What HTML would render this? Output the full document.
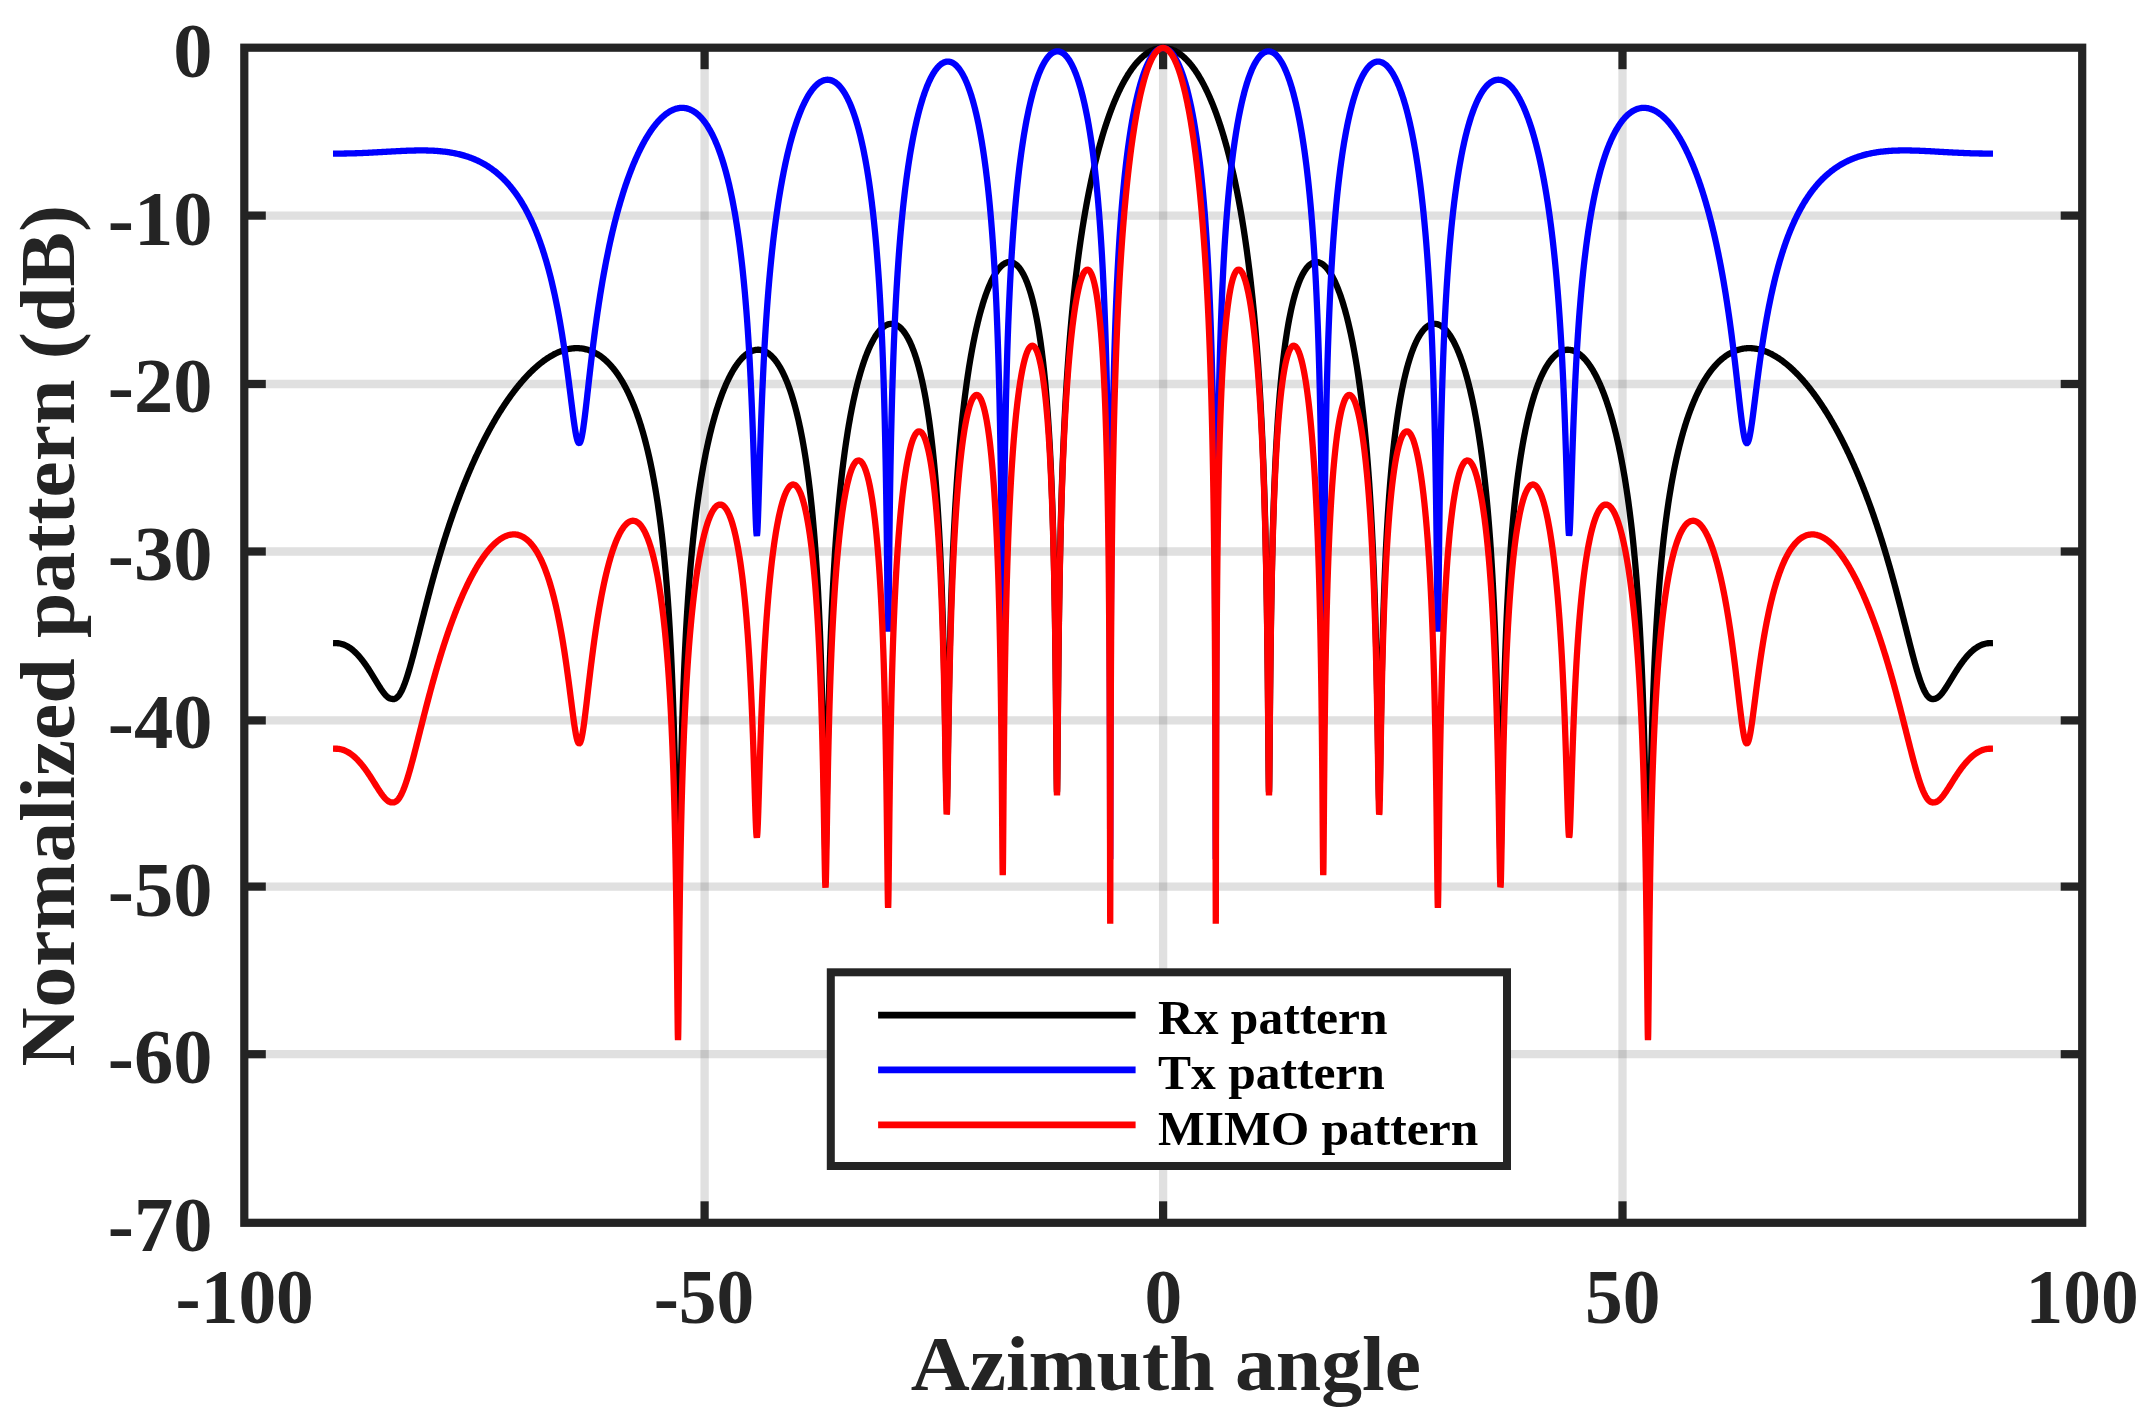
<!DOCTYPE html>
<html><head><meta charset="utf-8"><title>Normalized pattern</title>
<style>html,body{margin:0;padding:0;background:#fff}svg{display:block;filter:blur(0.55px)}</style></head>
<body>
<svg width="2145" height="1425" viewBox="0 0 2145 1425">
<rect width="2145" height="1425" fill="#fff"/>
<g stroke="rgba(38,38,38,0.143)" stroke-width="8.3" fill="none"><line x1="704.6" y1="47.7" x2="704.6" y2="1222.8"/><line x1="1163.1" y1="47.7" x2="1163.1" y2="1222.8"/><line x1="1622.5" y1="47.7" x2="1622.5" y2="1222.8"/><line x1="244.3" y1="1054.2" x2="2082.2" y2="1054.2"/><line x1="244.3" y1="886.6" x2="2082.2" y2="886.6"/><line x1="244.3" y1="720.4" x2="2082.2" y2="720.4"/><line x1="244.3" y1="551.5" x2="2082.2" y2="551.5"/><line x1="244.3" y1="384.0" x2="2082.2" y2="384.0"/><line x1="244.3" y1="215.6" x2="2082.2" y2="215.6"/></g>
<g stroke="#242424" stroke-width="8.2" fill="none"><line x1="704.6" y1="1222.8" x2="704.6" y2="1201.3"/><line x1="704.6" y1="47.7" x2="704.6" y2="69.2"/><line x1="1163.1" y1="1222.8" x2="1163.1" y2="1201.3"/><line x1="1163.1" y1="47.7" x2="1163.1" y2="69.2"/><line x1="1622.5" y1="1222.8" x2="1622.5" y2="1201.3"/><line x1="1622.5" y1="47.7" x2="1622.5" y2="69.2"/><line x1="244.3" y1="1054.2" x2="265.8" y2="1054.2"/><line x1="2082.2" y1="1054.2" x2="2060.7" y2="1054.2"/><line x1="244.3" y1="886.6" x2="265.8" y2="886.6"/><line x1="2082.2" y1="886.6" x2="2060.7" y2="886.6"/><line x1="244.3" y1="720.4" x2="265.8" y2="720.4"/><line x1="2082.2" y1="720.4" x2="2060.7" y2="720.4"/><line x1="244.3" y1="551.5" x2="265.8" y2="551.5"/><line x1="2082.2" y1="551.5" x2="2060.7" y2="551.5"/><line x1="244.3" y1="384.0" x2="265.8" y2="384.0"/><line x1="2082.2" y1="384.0" x2="2060.7" y2="384.0"/><line x1="244.3" y1="215.6" x2="265.8" y2="215.6"/><line x1="2082.2" y1="215.6" x2="2060.7" y2="215.6"/>
<rect x="244.3" y="47.7" width="1837.9" height="1175.1"/></g>
<g fill="none" stroke-width="6.3" stroke-linejoin="miter" stroke-miterlimit="3" stroke-linecap="square">
<path stroke="#000" d="M336.17,643.17 L337.09,643.19 L338.01,643.26 L338.93,643.36 L339.84,643.51 L340.76,643.70 L341.68,643.93 L342.60,644.21 L343.52,644.53 L344.44,644.89 L345.36,645.29 L346.28,645.74 L347.19,646.23 L348.11,646.76 L349.03,647.33 L349.95,647.95 L350.87,648.60 L351.79,649.31 L352.71,650.05 L353.17,650.44 L353.63,650.83 L354.08,651.24 L354.54,651.66 L355.00,652.09 L355.46,652.53 L355.92,652.98 L356.38,653.44 L356.84,653.91 L357.30,654.39 L357.76,654.88 L358.22,655.39 L358.68,655.90 L359.14,656.42 L359.60,656.95 L360.06,657.49 L360.52,658.05 L360.97,658.61 L361.43,659.18 L361.89,659.76 L362.35,660.35 L362.81,660.95 L363.27,661.56 L363.73,662.17 L364.19,662.80 L364.65,663.44 L365.11,664.08 L365.57,664.73 L366.03,665.39 L366.49,666.06 L366.95,666.74 L367.41,667.42 L367.87,668.11 L368.32,668.81 L368.78,669.52 L369.24,670.23 L369.70,670.95 L370.16,671.67 L370.62,672.40 L371.08,673.13 L371.54,673.87 L372.00,674.61 L372.46,675.36 L372.92,676.11 L373.38,676.86 L373.84,677.61 L374.30,678.37 L374.76,679.12 L375.21,679.88 L375.67,680.63 L376.13,681.39 L376.59,682.14 L377.05,682.89 L377.51,683.64 L377.97,684.38 L378.43,685.12 L378.89,685.85 L379.35,686.57 L379.81,687.29 L380.27,688.00 L380.73,688.69 L381.19,689.38 L381.65,690.05 L382.11,690.71 L382.56,691.35 L383.02,691.97 L383.48,692.58 L383.94,693.17 L384.40,693.74 L384.86,694.29 L385.32,694.81 L385.78,695.31 L386.24,695.79 L386.70,696.23 L387.16,696.65 L388.08,697.39 L389.00,697.99 L389.62,698.32 L390.26,698.59 L390.90,698.77 L391.54,698.88 L392.19,698.95 L392.83,699.06 L393.47,699.09 L394.12,699.02 L394.76,698.85 L395.43,698.58 L396.34,698.03 L397.26,697.26 L397.72,696.80 L398.18,696.29 L398.64,695.72 L399.10,695.10 L399.56,694.43 L400.02,693.71 L400.48,692.93 L400.94,692.11 L401.40,691.23 L401.86,690.30 L402.32,689.33 L402.78,688.31 L403.24,687.24 L403.69,686.12 L404.15,684.96 L404.61,683.76 L405.07,682.52 L405.53,681.24 L405.99,679.92 L406.45,678.56 L406.91,677.17 L407.37,675.75 L407.83,674.29 L408.29,672.80 L408.75,671.28 L409.21,669.74 L409.67,668.17 L410.13,666.57 L410.58,664.95 L411.04,663.31 L411.50,661.65 L411.96,659.97 L412.42,658.27 L412.88,656.56 L413.34,654.83 L413.80,653.09 L414.26,651.34 L414.72,649.57 L415.18,647.80 L415.64,646.01 L416.10,644.22 L416.56,642.42 L417.02,640.62 L417.47,638.81 L417.93,637.00 L418.39,635.18 L418.85,633.36 L419.31,631.54 L419.77,629.72 L420.23,627.89 L420.69,626.07 L421.15,624.25 L421.61,622.43 L422.07,620.61 L422.53,618.79 L422.99,616.98 L423.45,615.17 L423.91,613.36 L424.37,611.56 L424.82,609.76 L425.28,607.97 L425.74,606.18 L426.20,604.40 L426.66,602.62 L427.12,600.85 L427.58,599.08 L428.04,597.33 L428.50,595.57 L428.96,593.83 L429.42,592.09 L429.88,590.36 L430.34,588.64 L430.80,586.93 L431.26,585.22 L431.71,583.52 L432.17,581.83 L432.63,580.14 L433.09,578.47 L433.55,576.80 L434.01,575.14 L434.47,573.49 L434.93,571.85 L435.39,570.21 L435.85,568.59 L436.31,566.97 L436.77,565.36 L437.23,563.76 L437.69,562.17 L438.15,560.59 L438.61,559.01 L439.06,557.45 L439.52,555.89 L439.98,554.34 L440.44,552.80 L440.90,551.27 L441.36,549.74 L441.82,548.23 L442.28,546.72 L442.74,545.22 L443.20,543.73 L443.66,542.25 L444.12,540.78 L444.58,539.31 L445.04,537.86 L445.50,536.41 L445.95,534.97 L446.41,533.54 L446.87,532.11 L447.33,530.70 L447.79,529.29 L448.25,527.89 L448.71,526.50 L449.17,525.11 L449.63,523.74 L450.09,522.37 L450.55,521.01 L451.01,519.66 L451.47,518.31 L451.93,516.97 L452.39,515.64 L452.84,514.32 L453.30,513.01 L453.76,511.70 L454.22,510.40 L454.68,509.11 L455.14,507.83 L455.60,506.55 L456.06,505.28 L456.52,504.02 L456.98,502.76 L457.44,501.51 L457.90,500.27 L458.36,499.04 L458.82,497.81 L459.28,496.59 L459.74,495.37 L460.19,494.17 L460.65,492.97 L461.11,491.77 L461.57,490.59 L462.03,489.41 L462.49,488.24 L462.95,487.07 L463.41,485.91 L463.87,484.76 L464.33,483.61 L464.79,482.47 L465.25,481.33 L465.71,480.21 L466.17,479.09 L466.63,477.97 L467.08,476.86 L467.54,475.76 L468.00,474.66 L468.46,473.57 L468.92,472.49 L469.38,471.41 L469.84,470.34 L470.30,469.27 L470.76,468.21 L471.22,467.16 L471.68,466.11 L472.14,465.07 L472.60,464.03 L473.06,463.00 L473.52,461.98 L473.98,460.96 L474.43,459.94 L474.89,458.94 L475.35,457.93 L475.81,456.94 L476.27,455.95 L476.73,454.96 L477.19,453.98 L477.65,453.01 L478.11,452.04 L478.57,451.07 L479.03,450.11 L479.49,449.16 L479.95,448.21 L480.41,447.27 L480.87,446.33 L481.32,445.40 L481.78,444.48 L482.24,443.56 L482.70,442.64 L483.16,441.73 L483.62,440.82 L484.08,439.92 L484.54,439.03 L485.00,438.14 L485.46,437.25 L485.92,436.37 L486.38,435.49 L486.84,434.62 L487.30,433.76 L487.76,432.90 L488.21,432.04 L488.67,431.19 L489.13,430.34 L489.59,429.50 L490.05,428.67 L490.51,427.84 L490.97,427.01 L491.43,426.19 L491.89,425.37 L492.35,424.56 L492.81,423.75 L493.27,422.95 L493.73,422.15 L494.19,421.35 L494.65,420.57 L495.11,419.78 L495.56,419.00 L496.02,418.23 L496.48,417.46 L496.94,416.69 L497.40,415.93 L497.86,415.17 L498.32,414.42 L498.78,413.67 L499.24,412.93 L499.70,412.19 L500.16,411.45 L500.62,410.72 L501.08,410.00 L501.54,409.28 L502.00,408.56 L502.45,407.85 L502.91,407.14 L503.37,406.43 L503.83,405.74 L504.29,405.04 L504.75,404.35 L505.21,403.66 L505.67,402.98 L506.13,402.30 L506.59,401.63 L507.05,400.96 L507.51,400.30 L507.97,399.64 L508.43,398.98 L508.89,398.33 L509.34,397.68 L509.80,397.04 L510.26,396.40 L510.72,395.76 L511.18,395.13 L511.64,394.50 L512.10,393.88 L512.56,393.26 L513.02,392.65 L513.48,392.04 L513.94,391.43 L514.40,390.83 L514.86,390.23 L515.32,389.64 L515.78,389.05 L516.24,388.47 L516.69,387.88 L517.15,387.31 L517.61,386.73 L518.07,386.17 L518.53,385.60 L518.99,385.04 L519.45,384.48 L519.91,383.93 L520.37,383.38 L520.83,382.84 L521.29,382.30 L521.75,381.76 L522.21,381.23 L522.67,380.70 L523.13,380.18 L523.58,379.66 L524.04,379.14 L524.50,378.63 L524.96,378.12 L525.42,377.62 L525.88,377.12 L526.34,376.62 L526.80,376.13 L527.26,375.64 L527.72,375.16 L528.18,374.68 L528.64,374.20 L529.10,373.73 L529.56,373.26 L530.02,372.80 L530.48,372.34 L530.93,371.88 L531.39,371.43 L531.85,370.99 L532.31,370.54 L532.77,370.10 L533.23,369.67 L533.69,369.24 L534.15,368.81 L534.61,368.39 L535.07,367.97 L535.53,367.56 L535.99,367.15 L536.45,366.74 L536.91,366.34 L537.37,365.94 L537.82,365.55 L538.28,365.16 L539.20,364.39 L540.12,363.64 L541.04,362.90 L541.96,362.19 L542.88,361.49 L543.80,360.80 L544.71,360.13 L545.63,359.48 L546.55,358.85 L547.47,358.23 L548.39,357.64 L549.31,357.05 L550.23,356.49 L551.15,355.94 L552.06,355.41 L552.98,354.90 L553.90,354.40 L554.82,353.93 L555.74,353.47 L556.66,353.03 L557.58,352.60 L558.50,352.20 L559.41,351.81 L560.33,351.45 L561.25,351.10 L562.17,350.77 L563.09,350.45 L564.01,350.16 L564.93,349.89 L565.85,349.63 L566.76,349.40 L567.68,349.18 L568.60,348.99 L569.52,348.81 L570.44,348.66 L571.36,348.52 L572.28,348.41 L573.19,348.32 L574.11,348.25 L575.03,348.19 L575.95,348.17 L576.64,348.16 L577.28,348.16 L577.92,348.18 L578.57,348.20 L579.21,348.24 L579.85,348.28 L580.50,348.34 L581.14,348.41 L581.78,348.49 L582.38,348.58 L583.30,348.73 L584.22,348.90 L585.14,349.09 L586.06,349.32 L586.98,349.56 L587.89,349.83 L588.81,350.12 L589.73,350.44 L590.65,350.79 L591.57,351.16 L592.49,351.55 L593.41,351.98 L594.32,352.42 L595.24,352.90 L596.16,353.41 L597.08,353.94 L598.00,354.50 L598.92,355.09 L599.84,355.71 L600.76,356.35 L601.67,357.03 L602.59,357.74 L603.51,358.48 L604.43,359.25 L604.89,359.65 L605.35,360.06 L605.81,360.47 L606.27,360.90 L606.73,361.33 L607.19,361.77 L607.65,362.21 L608.11,362.67 L608.56,363.14 L609.02,363.61 L609.48,364.09 L609.94,364.59 L610.40,365.09 L610.86,365.60 L611.32,366.12 L611.78,366.64 L612.24,367.18 L612.70,367.73 L613.16,368.29 L613.62,368.85 L614.08,369.43 L614.54,370.02 L615.00,370.61 L615.45,371.22 L615.91,371.84 L616.37,372.46 L616.83,373.10 L617.29,373.75 L617.75,374.41 L618.21,375.08 L618.67,375.76 L619.13,376.45 L619.59,377.16 L620.05,377.87 L620.51,378.60 L620.97,379.34 L621.43,380.09 L621.89,380.85 L622.35,381.62 L622.80,382.41 L623.26,383.21 L623.72,384.02 L624.18,384.84 L624.64,385.68 L625.10,386.53 L625.56,387.39 L626.02,388.27 L626.48,389.16 L626.94,390.07 L627.40,390.99 L627.86,391.92 L628.32,392.87 L628.78,393.83 L629.24,394.81 L629.69,395.81 L630.15,396.82 L630.61,397.84 L631.07,398.88 L631.53,399.94 L631.99,401.01 L632.45,402.11 L632.91,403.21 L633.37,404.34 L633.83,405.48 L634.29,406.65 L634.75,407.83 L635.21,409.03 L635.67,410.25 L636.13,411.49 L636.58,412.75 L637.04,414.03 L637.50,415.33 L637.96,416.65 L638.42,417.99 L638.88,419.36 L639.34,420.75 L639.80,422.16 L640.26,423.60 L640.72,425.06 L641.18,426.54 L641.64,428.05 L642.10,429.59 L642.56,431.15 L643.02,432.74 L643.48,434.36 L643.93,436.01 L644.39,437.68 L644.85,439.39 L645.31,441.13 L645.77,442.89 L646.23,444.69 L646.69,446.53 L647.15,448.39 L647.61,450.29 L648.07,452.23 L648.53,454.21 L648.99,456.22 L649.45,458.27 L649.91,460.37 L650.37,462.50 L650.82,464.68 L651.28,466.90 L651.74,469.17 L652.20,471.48 L652.66,473.84 L653.12,476.26 L653.58,478.73 L654.04,481.25 L654.50,483.82 L654.96,486.46 L655.42,489.15 L655.88,491.91 L656.34,494.74 L656.80,497.63 L657.26,500.59 L657.72,503.63 L658.17,506.74 L658.63,509.94 L659.09,513.22 L659.55,516.58 L660.01,520.04 L660.47,523.60 L660.93,527.26 L661.39,531.03 L661.85,534.91 L662.31,538.91 L662.77,543.04 L663.23,547.30 L663.69,551.71 L664.15,556.26 L664.61,560.98 L665.06,565.87 L665.52,570.95 L665.98,576.22 L666.44,581.70 L666.90,587.42 L667.36,593.38 L667.82,599.62 L668.28,606.14 L668.74,613.00 L669.20,620.20 L669.66,627.79 L670.12,635.82 L670.58,644.33 L671.04,653.38 L671.50,663.05 L671.95,673.42 L672.41,684.59 L672.87,696.69 L673.33,709.89 L673.79,724.40 L674.25,740.48 L674.71,758.51 L675.17,778.98 L675.26,783.28 L675.35,787.85 L675.44,792.56 L675.54,797.41 L675.63,802.41 L675.72,807.57 L675.81,812.91 L675.90,818.43 L675.99,824.13 L676.09,830.04 L676.18,836.17 L676.27,842.51 L676.36,849.10 L676.45,855.93 L676.55,863.03 L676.64,870.39 L676.73,878.03 L676.82,885.95 L676.91,894.15 L677.00,902.61 L677.10,911.31 L677.19,920.19 L677.28,929.19 L677.37,938.19 L677.46,947.02 L677.56,955.44 L677.65,963.17 L677.74,969.83 L677.83,975.03 L677.92,978.39 L678.02,979.64 L678.11,978.45 L678.20,975.14 L678.29,969.98 L678.38,963.34 L678.47,955.63 L678.57,947.19 L678.66,938.35 L678.75,929.33 L678.84,920.29 L678.93,911.37 L679.03,902.63 L679.12,894.13 L679.21,885.89 L679.30,877.93 L679.39,870.24 L679.49,862.84 L679.58,855.70 L679.67,848.82 L679.76,842.20 L679.85,835.81 L679.94,829.64 L680.04,823.69 L680.13,817.95 L680.22,812.39 L680.31,807.02 L680.40,801.81 L680.50,796.77 L680.59,791.89 L680.68,787.14 L680.77,782.54 L681.14,765.24 L681.60,746.16 L682.06,729.19 L682.52,713.94 L682.98,700.09 L683.44,687.42 L683.90,675.74 L684.36,664.91 L684.82,654.83 L685.28,645.38 L685.74,636.51 L686.19,628.15 L686.65,620.23 L687.11,612.72 L687.57,605.59 L688.03,598.78 L688.49,592.28 L688.95,586.06 L689.41,580.10 L689.87,574.37 L690.33,568.87 L690.79,563.57 L691.25,558.46 L691.71,553.52 L692.17,548.76 L692.63,544.15 L693.08,539.68 L693.54,535.36 L694.00,531.16 L694.46,527.09 L694.92,523.13 L695.38,519.29 L695.84,515.55 L696.30,511.91 L696.76,508.37 L697.22,504.91 L697.68,501.55 L698.14,498.27 L698.60,495.06 L699.06,491.93 L699.52,488.88 L699.98,485.90 L700.43,482.98 L700.89,480.13 L701.35,477.34 L701.81,474.61 L702.27,471.94 L702.73,469.33 L703.19,466.77 L703.65,464.26 L704.11,461.80 L704.57,459.40 L705.03,457.04 L705.49,454.72 L705.95,452.45 L706.41,450.23 L706.87,448.04 L707.32,445.90 L707.78,443.80 L708.24,441.74 L708.70,439.71 L709.16,437.72 L709.62,435.77 L710.08,433.86 L710.54,431.97 L711.00,430.12 L711.46,428.31 L711.92,426.52 L712.38,424.77 L712.84,423.04 L713.30,421.35 L713.76,419.69 L714.22,418.05 L714.67,416.44 L715.13,414.86 L715.59,413.31 L716.05,411.78 L716.51,410.28 L716.97,408.81 L717.43,407.36 L717.89,405.93 L718.35,404.53 L718.81,403.15 L719.27,401.80 L719.73,400.46 L720.19,399.15 L720.65,397.87 L721.11,396.60 L721.56,395.36 L722.02,394.13 L722.48,392.93 L722.94,391.75 L723.40,390.59 L723.86,389.45 L724.32,388.33 L724.78,387.23 L725.24,386.15 L725.70,385.08 L726.16,384.04 L726.62,383.01 L727.08,382.00 L727.54,381.01 L728.00,380.04 L728.45,379.09 L728.91,378.15 L729.37,377.23 L729.83,376.33 L730.29,375.45 L730.75,374.58 L731.21,373.73 L731.67,372.89 L732.13,372.07 L732.59,371.27 L733.05,370.49 L733.51,369.72 L733.97,368.96 L734.43,368.22 L734.89,367.50 L735.35,366.79 L735.80,366.10 L736.26,365.43 L736.72,364.76 L737.18,364.12 L737.64,363.49 L738.10,362.87 L738.56,362.27 L739.02,361.68 L739.48,361.11 L739.94,360.55 L740.40,360.01 L740.86,359.48 L741.32,358.97 L741.78,358.47 L742.24,357.98 L742.69,357.51 L743.15,357.05 L743.61,356.61 L744.07,356.18 L744.53,355.77 L744.99,355.36 L745.45,354.98 L746.37,354.24 L747.29,353.57 L748.21,352.95 L749.13,352.38 L750.04,351.87 L750.96,351.41 L751.88,351.01 L752.80,350.66 L753.72,350.37 L754.34,350.20 L754.98,350.06 L755.62,349.94 L756.26,349.84 L756.91,349.78 L757.55,349.74 L758.19,349.73 L758.84,349.75 L759.48,349.80 L760.15,349.87 L761.07,350.03 L761.99,350.24 L762.91,350.51 L763.82,350.85 L764.74,351.24 L765.66,351.69 L766.58,352.20 L767.50,352.77 L768.42,353.41 L769.34,354.11 L770.26,354.88 L770.72,355.28 L771.17,355.71 L771.63,356.15 L772.09,356.60 L772.55,357.08 L773.01,357.57 L773.47,358.08 L773.93,358.61 L774.39,359.15 L774.85,359.71 L775.31,360.29 L775.77,360.89 L776.23,361.51 L776.69,362.14 L777.15,362.80 L777.61,363.47 L778.06,364.16 L778.52,364.88 L778.98,365.61 L779.44,366.36 L779.90,367.13 L780.36,367.93 L780.82,368.74 L781.28,369.58 L781.74,370.44 L782.20,371.31 L782.66,372.22 L783.12,373.14 L783.58,374.09 L784.04,375.06 L784.50,376.05 L784.95,377.07 L785.41,378.11 L785.87,379.17 L786.33,380.27 L786.79,381.38 L787.25,382.53 L787.71,383.70 L788.17,384.89 L788.63,386.12 L789.09,387.37 L789.55,388.65 L790.01,389.96 L790.47,391.30 L790.93,392.68 L791.39,394.08 L791.85,395.51 L792.30,396.98 L792.76,398.48 L793.22,400.01 L793.68,401.58 L794.14,403.19 L794.60,404.83 L795.06,406.51 L795.52,408.23 L795.98,409.98 L796.44,411.78 L796.90,413.62 L797.36,415.50 L797.82,417.43 L798.28,419.40 L798.74,421.42 L799.19,423.49 L799.65,425.60 L800.11,427.77 L800.57,429.99 L801.03,432.27 L801.49,434.60 L801.95,436.99 L802.41,439.44 L802.87,441.95 L803.33,444.52 L803.79,447.17 L804.25,449.88 L804.71,452.67 L805.17,455.54 L805.63,458.48 L806.09,461.50 L806.54,464.61 L807.00,467.81 L807.46,471.11 L807.92,474.50 L808.38,478.00 L808.84,481.60 L809.30,485.32 L809.76,489.16 L810.22,493.13 L810.68,497.24 L811.14,501.48 L811.60,505.88 L812.06,510.43 L812.52,515.16 L812.98,520.08 L813.43,525.18 L813.89,530.50 L814.35,536.05 L814.81,541.84 L815.27,547.89 L815.73,554.23 L816.19,560.89 L816.65,567.88 L817.11,575.26 L817.57,583.05 L818.03,591.30 L818.49,600.07 L818.95,609.41 L819.41,619.41 L819.87,630.15 L820.32,641.75 L820.78,654.32 L821.24,668.04 L821.70,683.10 L822.16,699.75 L822.62,718.28 L822.75,724.01 L822.85,728.10 L822.94,732.29 L823.03,736.57 L823.08,739.02 L823.12,740.96 L823.21,745.45 L823.31,750.04 L823.40,754.73 L823.49,759.53 L823.54,762.26 L823.58,764.43 L823.67,769.44 L823.76,774.55 L823.86,779.75 L823.95,785.05 L824.00,788.04 L824.04,790.41 L824.13,795.85 L824.22,801.33 L824.32,806.83 L824.41,812.32 L824.46,815.38 L824.50,817.77 L824.59,823.12 L824.68,828.33 L824.78,833.32 L824.87,838.02 L824.92,840.50 L824.96,842.35 L825.05,846.22 L825.14,849.53 L825.23,852.19 L825.33,854.14 L825.38,854.88 L825.51,855.62 L825.69,853.88 L825.79,851.82 L825.84,850.34 L825.88,849.04 L825.97,845.62 L826.06,841.65 L826.15,837.23 L826.25,832.44 L826.30,829.64 L826.34,827.38 L826.43,822.10 L826.52,816.68 L826.61,811.18 L826.70,805.63 L826.76,802.52 L826.80,800.07 L826.89,794.54 L826.98,789.06 L827.07,783.64 L827.16,778.31 L827.22,775.36 L827.26,773.06 L827.35,767.90 L827.44,762.85 L827.53,757.90 L827.62,753.06 L827.67,750.39 L827.71,748.32 L827.81,743.69 L827.90,739.15 L827.99,734.72 L828.08,730.40 L828.13,728.01 L828.17,726.16 L828.27,722.02 L828.59,708.02 L829.05,690.09 L829.51,673.91 L829.97,659.20 L830.43,645.74 L830.89,633.35 L831.35,621.88 L831.81,611.21 L832.27,601.24 L832.73,591.89 L833.19,583.09 L833.65,574.78 L834.11,566.91 L834.56,559.44 L835.02,552.34 L835.48,545.56 L835.94,539.08 L836.40,532.88 L836.86,526.94 L837.32,521.23 L837.78,515.74 L838.24,510.46 L838.70,505.37 L839.16,500.46 L839.62,495.71 L840.08,491.12 L840.54,486.68 L841.00,482.38 L841.46,478.21 L841.91,474.17 L842.37,470.24 L842.83,466.43 L843.29,462.72 L843.75,459.12 L844.21,455.62 L844.67,452.20 L845.13,448.88 L845.59,445.64 L846.05,442.49 L846.51,439.41 L846.97,436.41 L847.43,433.48 L847.89,430.62 L848.35,427.82 L848.80,425.10 L849.26,422.43 L849.72,419.83 L850.18,417.28 L850.64,414.79 L851.10,412.36 L851.56,409.98 L852.02,407.65 L852.48,405.37 L852.94,403.15 L853.40,400.96 L853.86,398.83 L854.32,396.74 L854.78,394.69 L855.24,392.69 L855.69,390.72 L856.15,388.80 L856.61,386.92 L857.07,385.08 L857.53,383.27 L857.99,381.50 L858.45,379.77 L858.91,378.08 L859.37,376.41 L859.83,374.79 L860.29,373.19 L860.75,371.63 L861.21,370.10 L861.67,368.60 L862.13,367.14 L862.59,365.70 L863.04,364.29 L863.50,362.92 L863.96,361.57 L864.42,360.25 L864.88,358.96 L865.34,357.70 L865.80,356.46 L866.26,355.25 L866.72,354.07 L867.18,352.91 L867.64,351.78 L868.10,350.68 L868.56,349.60 L869.02,348.55 L869.48,347.52 L869.93,346.51 L870.39,345.53 L870.85,344.57 L871.31,343.64 L871.77,342.73 L872.23,341.84 L872.69,340.98 L873.15,340.14 L873.61,339.32 L874.07,338.52 L874.53,337.75 L874.99,336.99 L875.45,336.26 L875.91,335.56 L876.37,334.87 L876.82,334.20 L877.28,333.56 L877.74,332.94 L878.20,332.33 L878.66,331.75 L879.12,331.19 L879.58,330.66 L880.04,330.14 L880.50,329.64 L880.96,329.16 L881.42,328.71 L881.88,328.27 L882.34,327.86 L882.80,327.46 L883.72,326.73 L884.63,326.08 L885.36,325.63 L885.91,325.31 L886.46,325.03 L887.01,324.78 L887.66,324.52 L888.30,324.30 L888.94,324.12 L889.59,323.98 L890.23,323.88 L890.87,323.82 L891.52,323.80 L892.44,323.84 L893.36,323.97 L894.28,324.18 L895.20,324.47 L896.12,324.85 L897.04,325.32 L897.96,325.88 L898.87,326.52 L899.79,327.26 L900.25,327.66 L900.71,328.09 L901.17,328.54 L901.63,329.01 L902.09,329.51 L902.55,330.03 L903.01,330.58 L903.47,331.15 L903.93,331.75 L904.39,332.37 L904.85,333.02 L905.30,333.69 L905.76,334.39 L906.22,335.12 L906.68,335.87 L907.14,336.65 L907.60,337.46 L908.06,338.30 L908.52,339.17 L908.98,340.06 L909.44,340.99 L909.90,341.95 L910.36,342.93 L910.82,343.95 L911.28,345.00 L911.74,346.08 L912.19,347.19 L912.65,348.34 L913.11,349.53 L913.57,350.74 L914.03,352.00 L914.49,353.29 L914.95,354.61 L915.41,355.98 L915.87,357.38 L916.33,358.82 L916.79,360.31 L917.25,361.83 L917.71,363.40 L918.17,365.01 L918.63,366.67 L919.09,368.38 L919.54,370.13 L920.00,371.93 L920.46,373.78 L920.92,375.68 L921.38,377.63 L921.84,379.64 L922.30,381.71 L922.76,383.83 L923.22,386.02 L923.68,388.26 L924.14,390.58 L924.60,392.96 L925.06,395.40 L925.52,397.92 L925.98,400.52 L926.43,403.19 L926.89,405.95 L927.35,408.78 L927.81,411.71 L928.27,414.73 L928.73,417.84 L929.19,421.06 L929.65,424.37 L930.11,427.81 L930.57,431.35 L931.03,435.02 L931.49,438.82 L931.95,442.76 L932.41,446.84 L932.87,451.07 L933.33,455.47 L933.78,460.04 L934.24,464.80 L934.70,469.75 L935.16,474.92 L935.62,480.31 L936.08,485.96 L936.54,491.87 L937.00,498.07 L937.46,504.59 L937.92,511.45 L938.38,518.70 L938.84,526.37 L939.30,534.50 L939.76,543.15 L940.22,552.39 L940.67,562.30 L941.13,572.95 L941.59,584.47 L942.05,596.99 L942.51,610.67 L942.97,625.73 L943.43,642.42 L943.89,661.06 L944.00,665.82 L944.09,669.92 L944.18,674.12 L944.27,678.43 L944.35,681.99 L944.37,682.84 L944.46,687.35 L944.55,691.98 L944.64,696.71 L944.73,701.56 L944.81,705.57 L944.83,706.53 L944.92,711.60 L945.01,716.78 L945.10,722.07 L945.19,727.47 L945.27,731.90 L945.29,732.95 L945.38,738.51 L945.47,744.13 L945.56,749.80 L945.65,755.47 L945.73,760.05 L945.74,761.12 L945.84,766.69 L945.93,772.13 L946.02,777.37 L946.11,782.33 L946.19,786.08 L946.20,786.92 L946.30,791.05 L946.39,794.60 L946.48,797.49 L946.57,799.61 L946.65,800.72 L946.94,799.52 L947.03,797.34 L947.11,795.02 L947.12,794.40 L947.21,790.78 L947.31,786.59 L947.40,781.92 L947.49,776.87 L947.56,772.58 L947.58,771.55 L947.67,766.01 L947.77,760.34 L947.86,754.60 L947.95,748.82 L948.02,744.15 L948.04,743.05 L948.13,737.32 L948.23,731.65 L948.32,726.06 L948.41,720.56 L948.48,716.17 L948.50,715.16 L948.59,709.86 L948.68,704.67 L948.78,699.60 L948.87,694.64 L948.94,690.71 L948.96,689.79 L949.05,685.06 L949.14,680.43 L949.24,675.91 L949.33,671.49 L949.40,667.99 L949.42,667.18 L949.51,662.97 L949.86,647.76 L950.32,629.64 L950.78,613.30 L951.24,598.45 L951.70,584.87 L952.16,572.36 L952.62,560.78 L953.08,550.00 L953.54,539.93 L954.00,530.48 L954.46,521.58 L954.91,513.17 L955.37,505.21 L955.83,497.64 L956.29,490.44 L956.75,483.57 L957.21,477.01 L957.67,470.72 L958.13,464.69 L958.59,458.89 L959.05,453.32 L959.51,447.95 L959.97,442.78 L960.43,437.78 L960.89,432.95 L961.35,428.28 L961.80,423.77 L962.26,419.39 L962.72,415.14 L963.18,411.02 L963.64,407.02 L964.10,403.14 L964.56,399.36 L965.02,395.69 L965.48,392.11 L965.94,388.63 L966.40,385.24 L966.86,381.94 L967.32,378.72 L967.78,375.58 L968.24,372.51 L968.69,369.52 L969.15,366.61 L969.61,363.76 L970.07,360.97 L970.53,358.25 L970.99,355.60 L971.45,353.00 L971.91,350.46 L972.37,347.98 L972.83,345.55 L973.29,343.17 L973.75,340.85 L974.21,338.58 L974.67,336.35 L975.13,334.17 L975.59,332.04 L976.04,329.96 L976.50,327.92 L976.96,325.92 L977.42,323.96 L977.88,322.05 L978.34,320.17 L978.80,318.34 L979.26,316.54 L979.72,314.78 L980.18,313.06 L980.64,311.38 L981.10,309.73 L981.56,308.11 L982.02,306.53 L982.48,304.99 L982.93,303.47 L983.39,301.99 L983.85,300.54 L984.31,299.13 L984.77,297.74 L985.23,296.39 L985.69,295.06 L986.15,293.77 L986.61,292.50 L987.07,291.27 L987.53,290.06 L987.99,288.88 L988.45,287.73 L988.91,286.61 L989.37,285.51 L989.83,284.45 L990.28,283.40 L990.74,282.39 L991.20,281.40 L991.66,280.44 L992.12,279.50 L992.58,278.59 L993.04,277.71 L993.50,276.85 L993.96,276.02 L994.42,275.21 L994.88,274.42 L995.34,273.67 L995.80,272.93 L996.26,272.22 L996.72,271.53 L997.17,270.87 L997.63,270.24 L998.09,269.62 L998.55,269.03 L999.01,268.47 L999.47,267.93 L999.93,267.41 L1000.36,266.95 L1000.82,266.48 L1001.27,266.03 L1001.73,265.61 L1002.19,265.21 L1002.69,264.80 L1003.20,264.41 L1003.76,264.02 L1004.31,263.67 L1004.86,263.35 L1005.41,263.07 L1006.36,262.66 L1007.28,262.36 L1008.20,262.16 L1009.12,262.06 L1010.04,262.05 L1010.96,262.15 L1011.87,262.35 L1012.79,262.65 L1013.71,263.06 L1014.63,263.57 L1015.55,264.19 L1016.47,264.93 L1016.93,265.33 L1017.39,265.77 L1017.85,266.24 L1018.30,266.74 L1018.76,267.26 L1019.22,267.82 L1019.68,268.41 L1020.14,269.03 L1020.60,269.68 L1021.06,270.36 L1021.52,271.08 L1021.98,271.83 L1022.44,272.61 L1022.90,273.43 L1023.36,274.28 L1023.82,275.17 L1024.28,276.09 L1024.74,277.05 L1025.19,278.05 L1025.65,279.09 L1026.11,280.17 L1026.57,281.29 L1027.03,282.45 L1027.49,283.65 L1027.95,284.90 L1028.41,286.19 L1028.87,287.53 L1029.33,288.91 L1029.79,290.34 L1030.25,291.82 L1030.71,293.35 L1031.17,294.93 L1031.63,296.57 L1032.09,298.26 L1032.54,300.01 L1033.00,301.82 L1033.46,303.69 L1033.92,305.62 L1034.38,307.62 L1034.84,309.68 L1035.30,311.81 L1035.76,314.02 L1036.22,316.30 L1036.68,318.66 L1037.14,321.10 L1037.60,323.63 L1038.06,326.24 L1038.52,328.95 L1038.98,331.75 L1039.43,334.66 L1039.89,337.67 L1040.35,340.79 L1040.81,344.03 L1041.27,347.40 L1041.73,350.89 L1042.19,354.53 L1042.65,358.30 L1043.11,362.24 L1043.57,366.34 L1044.03,370.61 L1044.49,375.08 L1044.95,379.74 L1045.41,384.62 L1045.87,389.74 L1046.33,395.11 L1046.78,400.75 L1047.24,406.68 L1047.70,412.95 L1048.16,419.57 L1048.62,426.59 L1049.08,434.04 L1049.54,441.98 L1050.00,450.47 L1050.46,459.58 L1050.92,469.40 L1051.38,480.03 L1051.84,491.60 L1052.30,504.29 L1052.76,518.30 L1053.22,533.93 L1053.67,551.55 L1054.13,571.69 L1054.24,576.88 L1054.33,581.44 L1054.43,586.14 L1054.52,590.99 L1054.59,595.10 L1054.61,596.01 L1054.70,601.21 L1054.79,606.59 L1054.89,612.17 L1054.98,617.97 L1055.05,622.88 L1055.07,623.98 L1055.16,630.24 L1055.25,636.76 L1055.34,643.55 L1055.44,650.63 L1055.51,656.67 L1055.53,658.02 L1055.62,665.75 L1055.71,673.83 L1055.80,682.27 L1055.90,691.09 L1055.97,698.61 L1055.99,700.30 L1056.08,709.89 L1056.17,719.83 L1056.26,730.07 L1056.36,740.52 L1056.43,749.11 L1056.45,750.99 L1056.54,761.23 L1056.63,770.86 L1056.72,779.36 L1056.81,786.11 L1056.89,789.90 L1057.00,792.01 L1057.09,790.47 L1057.18,786.04 L1057.27,779.19 L1057.35,772.21 L1057.37,770.55 L1057.46,760.75 L1057.55,750.29 L1057.64,739.58 L1057.73,728.89 L1057.81,720.26 L1057.83,718.39 L1057.92,708.18 L1058.01,698.32 L1058.10,688.85 L1058.19,679.76 L1058.27,672.59 L1058.28,671.05 L1058.38,662.70 L1058.47,654.71 L1058.56,647.05 L1058.65,639.71 L1058.73,633.91 L1058.74,632.66 L1058.84,625.88 L1058.93,619.36 L1059.02,613.09 L1059.11,607.04 L1059.19,602.24 L1059.20,601.20 L1059.30,595.57 L1059.39,590.12 L1059.48,584.84 L1059.57,579.73 L1059.65,575.66 L1059.66,574.78 L1059.75,569.98 L1060.11,552.84 L1060.56,532.87 L1061.02,515.12 L1061.48,499.15 L1061.94,484.65 L1062.40,471.35 L1062.86,459.07 L1063.32,447.66 L1063.78,437.01 L1064.24,427.02 L1064.70,417.61 L1065.16,408.71 L1065.62,400.28 L1066.08,392.26 L1066.54,384.61 L1067.00,377.30 L1067.46,370.30 L1067.91,363.59 L1068.37,357.14 L1068.83,350.93 L1069.29,344.94 L1069.75,339.16 L1070.21,333.57 L1070.67,328.17 L1071.13,322.93 L1071.59,317.85 L1072.05,312.92 L1072.51,308.13 L1072.97,303.48 L1073.43,298.95 L1073.89,294.54 L1074.35,290.24 L1074.80,286.05 L1075.26,281.96 L1075.72,277.97 L1076.18,274.07 L1076.64,270.26 L1077.10,266.53 L1077.56,262.89 L1078.02,259.32 L1078.48,255.83 L1078.94,252.41 L1079.40,249.06 L1079.86,245.78 L1080.32,242.55 L1080.78,239.40 L1081.24,236.30 L1081.70,233.26 L1082.15,230.27 L1082.61,227.34 L1083.07,224.46 L1083.53,221.63 L1083.99,218.85 L1084.45,216.11 L1084.91,213.43 L1085.37,210.78 L1085.83,208.18 L1086.29,205.63 L1086.75,203.11 L1087.21,200.63 L1087.67,198.20 L1088.13,195.80 L1088.59,193.43 L1089.04,191.10 L1089.50,188.81 L1089.96,186.55 L1090.42,184.33 L1090.88,182.14 L1091.34,179.98 L1091.80,177.85 L1092.26,175.75 L1092.72,173.68 L1093.18,171.64 L1093.64,169.63 L1094.10,167.65 L1094.56,165.69 L1095.02,163.77 L1095.48,161.86 L1095.93,159.99 L1096.39,158.14 L1096.85,156.31 L1097.31,154.51 L1097.77,152.73 L1098.23,150.98 L1098.69,149.25 L1099.15,147.54 L1099.61,145.85 L1100.07,144.19 L1100.53,142.55 L1100.99,140.92 L1101.45,139.32 L1101.91,137.75 L1102.37,136.19 L1102.83,134.65 L1103.28,133.13 L1103.74,131.63 L1104.20,130.15 L1104.66,128.68 L1105.12,127.24 L1105.58,125.82 L1106.04,124.41 L1106.50,123.02 L1106.96,121.65 L1107.42,120.29 L1107.65,119.62 L1107.88,118.95 L1108.11,118.30 L1108.34,117.63 L1108.57,116.98 L1108.80,116.33 L1109.03,115.69 L1109.26,115.04 L1109.48,114.41 L1109.72,113.77 L1109.94,113.15 L1110.17,112.52 L1110.40,111.90 L1110.63,111.28 L1110.86,110.67 L1111.09,110.06 L1111.32,109.45 L1111.55,108.85 L1111.78,108.25 L1112.01,107.66 L1112.24,107.07 L1112.47,106.48 L1112.70,105.90 L1112.93,105.32 L1113.39,104.17 L1113.85,103.04 L1114.31,101.92 L1114.77,100.82 L1115.23,99.73 L1115.69,98.65 L1116.15,97.59 L1116.61,96.54 L1117.07,95.51 L1117.52,94.49 L1117.98,93.49 L1118.44,92.49 L1118.90,91.51 L1119.36,90.55 L1119.82,89.59 L1120.28,88.65 L1120.74,87.72 L1121.20,86.81 L1121.66,85.91 L1122.12,85.01 L1122.58,84.14 L1123.04,83.27 L1123.50,82.42 L1123.96,81.58 L1124.41,80.75 L1124.87,79.93 L1125.33,79.12 L1125.79,78.33 L1126.25,77.55 L1126.71,76.78 L1127.17,76.02 L1127.63,75.27 L1128.09,74.53 L1128.55,73.81 L1129.01,73.09 L1129.47,72.39 L1129.93,71.70 L1130.39,71.02 L1130.85,70.35 L1131.30,69.69 L1131.76,69.04 L1132.22,68.40 L1132.68,67.78 L1133.14,67.16 L1133.60,66.55 L1134.06,65.96 L1134.52,65.37 L1134.98,64.80 L1135.44,64.24 L1135.90,63.68 L1136.36,63.14 L1136.82,62.61 L1137.28,62.08 L1137.74,61.57 L1138.20,61.07 L1138.65,60.57 L1139.11,60.09 L1139.57,59.62 L1140.03,59.16 L1140.49,58.70 L1140.95,58.26 L1141.41,57.83 L1141.87,57.40 L1142.33,56.99 L1142.79,56.58 L1143.25,56.19 L1144.17,55.43 L1145.09,54.71 L1146.00,54.02 L1146.92,53.37 L1147.84,52.76 L1148.76,52.19 L1149.68,51.66 L1150.60,51.16 L1151.52,50.70 L1152.43,50.27 L1153.35,49.89 L1154.27,49.54 L1155.19,49.22 L1156.11,48.94 L1157.03,48.70 L1157.95,48.49 L1158.87,48.32 L1159.78,48.19 L1160.70,48.09 L1161.62,48.02 L1162.54,48.00 L1163.46,48.00 L1164.38,48.02 L1165.30,48.09 L1166.22,48.19 L1167.13,48.32 L1168.05,48.49 L1168.97,48.70 L1169.89,48.94 L1170.81,49.22 L1171.73,49.54 L1172.65,49.89 L1173.57,50.27 L1174.48,50.70 L1175.40,51.16 L1176.32,51.66 L1177.24,52.19 L1178.16,52.76 L1179.08,53.37 L1180.00,54.02 L1180.91,54.71 L1181.83,55.43 L1182.75,56.19 L1183.21,56.58 L1183.67,56.99 L1184.13,57.40 L1184.59,57.83 L1185.05,58.26 L1185.51,58.70 L1185.97,59.16 L1186.43,59.62 L1186.89,60.09 L1187.35,60.57 L1187.80,61.07 L1188.26,61.57 L1188.72,62.08 L1189.18,62.61 L1189.64,63.14 L1190.10,63.68 L1190.56,64.24 L1191.02,64.80 L1191.48,65.37 L1191.94,65.96 L1192.40,66.55 L1192.86,67.16 L1193.32,67.78 L1193.78,68.40 L1194.24,69.04 L1194.70,69.69 L1195.15,70.35 L1195.61,71.02 L1196.07,71.70 L1196.53,72.39 L1196.99,73.09 L1197.45,73.81 L1197.91,74.53 L1198.37,75.27 L1198.83,76.02 L1199.29,76.78 L1199.75,77.55 L1200.21,78.33 L1200.67,79.12 L1201.13,79.93 L1201.59,80.75 L1202.04,81.58 L1202.50,82.42 L1202.96,83.27 L1203.42,84.14 L1203.88,85.01 L1204.34,85.91 L1204.80,86.81 L1205.26,87.72 L1205.72,88.65 L1206.18,89.59 L1206.64,90.55 L1207.10,91.51 L1207.56,92.49 L1208.02,93.49 L1208.48,94.49 L1208.93,95.51 L1209.39,96.54 L1209.85,97.59 L1210.31,98.65 L1210.77,99.73 L1211.23,100.82 L1211.69,101.92 L1212.15,103.04 L1212.61,104.17 L1213.02,105.20 L1213.30,105.90 L1213.53,106.48 L1213.76,107.07 L1213.99,107.66 L1214.22,108.25 L1214.45,108.85 L1214.68,109.45 L1214.91,110.06 L1215.14,110.67 L1215.37,111.28 L1215.60,111.90 L1215.83,112.52 L1216.06,113.15 L1216.28,113.77 L1216.52,114.41 L1216.74,115.04 L1216.97,115.69 L1217.20,116.33 L1217.43,116.98 L1217.66,117.63 L1217.89,118.30 L1218.12,118.95 L1218.35,119.62 L1218.58,120.29 L1219.04,121.65 L1219.50,123.02 L1219.96,124.41 L1220.42,125.82 L1220.88,127.24 L1221.34,128.68 L1221.80,130.15 L1222.26,131.63 L1222.72,133.13 L1223.17,134.65 L1223.63,136.19 L1224.09,137.75 L1224.55,139.32 L1225.01,140.92 L1225.47,142.55 L1225.93,144.19 L1226.39,145.85 L1226.85,147.54 L1227.31,149.25 L1227.77,150.98 L1228.23,152.73 L1228.69,154.51 L1229.15,156.31 L1229.61,158.14 L1230.07,159.99 L1230.52,161.86 L1230.98,163.77 L1231.44,165.69 L1231.90,167.65 L1232.36,169.63 L1232.82,171.64 L1233.28,173.68 L1233.74,175.75 L1234.20,177.85 L1234.66,179.98 L1235.12,182.14 L1235.58,184.33 L1236.04,186.55 L1236.50,188.81 L1236.96,191.10 L1237.41,193.43 L1237.87,195.80 L1238.33,198.20 L1238.79,200.63 L1239.25,203.11 L1239.71,205.63 L1240.17,208.18 L1240.63,210.78 L1241.09,213.43 L1241.55,216.11 L1242.01,218.85 L1242.47,221.63 L1242.93,224.46 L1243.39,227.34 L1243.85,230.27 L1244.30,233.26 L1244.76,236.30 L1245.22,239.40 L1245.68,242.55 L1246.14,245.78 L1246.60,249.06 L1247.06,252.41 L1247.52,255.83 L1247.98,259.32 L1248.44,262.89 L1248.90,266.53 L1249.36,270.26 L1249.82,274.07 L1250.28,277.97 L1250.74,281.96 L1251.20,286.05 L1251.65,290.24 L1252.11,294.54 L1252.57,298.95 L1253.03,303.48 L1253.49,308.13 L1253.95,312.92 L1254.41,317.85 L1254.87,322.93 L1255.33,328.17 L1255.79,333.57 L1256.25,339.16 L1256.71,344.94 L1257.17,350.93 L1257.63,357.14 L1258.09,363.59 L1258.54,370.30 L1259.00,377.30 L1259.46,384.61 L1259.92,392.26 L1260.38,400.28 L1260.84,408.71 L1261.30,417.61 L1261.76,427.02 L1262.22,437.01 L1262.68,447.66 L1263.14,459.07 L1263.60,471.35 L1264.06,484.65 L1264.52,499.15 L1264.98,515.12 L1265.44,532.87 L1265.89,552.84 L1266.25,569.98 L1266.34,574.78 L1266.35,575.66 L1266.43,579.73 L1266.52,584.84 L1266.61,590.12 L1266.70,595.57 L1266.80,601.20 L1266.81,602.24 L1266.89,607.04 L1266.98,613.09 L1267.07,619.36 L1267.16,625.88 L1267.26,632.66 L1267.27,633.91 L1267.35,639.71 L1267.44,647.05 L1267.53,654.71 L1267.62,662.70 L1267.72,671.05 L1267.73,672.59 L1267.81,679.76 L1267.90,688.85 L1267.99,698.32 L1268.08,708.18 L1268.17,718.39 L1268.19,720.26 L1268.27,728.89 L1268.36,739.58 L1268.45,750.29 L1268.54,760.75 L1268.63,770.55 L1268.65,772.21 L1268.73,779.19 L1268.82,786.04 L1268.91,790.47 L1269.00,792.01 L1269.09,790.49 L1269.19,786.11 L1269.28,779.36 L1269.37,770.86 L1269.46,761.23 L1269.55,750.99 L1269.57,749.11 L1269.64,740.52 L1269.74,730.07 L1269.83,719.83 L1269.92,709.89 L1270.01,700.30 L1270.03,698.61 L1270.10,691.09 L1270.20,682.27 L1270.29,673.83 L1270.38,665.75 L1270.47,658.02 L1270.49,656.67 L1270.56,650.63 L1270.66,643.55 L1270.75,636.76 L1270.84,630.24 L1270.93,623.98 L1270.95,622.88 L1271.02,617.97 L1271.11,612.17 L1271.21,606.59 L1271.30,601.21 L1271.39,596.01 L1271.41,595.10 L1271.48,590.99 L1271.57,586.14 L1271.67,581.44 L1271.76,576.88 L1271.87,571.69 L1272.33,551.55 L1272.78,533.93 L1273.24,518.30 L1273.70,504.29 L1274.16,491.60 L1274.62,480.03 L1275.08,469.40 L1275.54,459.58 L1276.00,450.47 L1276.46,441.98 L1276.92,434.04 L1277.38,426.59 L1277.84,419.57 L1278.30,412.95 L1278.76,406.68 L1279.22,400.75 L1279.67,395.11 L1280.13,389.74 L1280.59,384.62 L1281.05,379.74 L1281.51,375.08 L1281.97,370.61 L1282.43,366.34 L1282.89,362.24 L1283.35,358.30 L1283.81,354.53 L1284.27,350.89 L1284.73,347.40 L1285.19,344.03 L1285.65,340.79 L1286.11,337.67 L1286.57,334.66 L1287.02,331.75 L1287.48,328.95 L1287.94,326.24 L1288.40,323.63 L1288.86,321.10 L1289.32,318.66 L1289.78,316.30 L1290.24,314.02 L1290.70,311.81 L1291.16,309.68 L1291.62,307.62 L1292.08,305.62 L1292.54,303.69 L1293.00,301.82 L1293.46,300.01 L1293.91,298.26 L1294.37,296.57 L1294.83,294.93 L1295.29,293.35 L1295.75,291.82 L1296.21,290.34 L1296.67,288.91 L1297.13,287.53 L1297.59,286.19 L1298.05,284.90 L1298.51,283.65 L1298.97,282.45 L1299.43,281.29 L1299.89,280.17 L1300.35,279.09 L1300.81,278.05 L1301.26,277.05 L1301.72,276.09 L1302.18,275.17 L1302.64,274.28 L1303.10,273.43 L1303.56,272.61 L1304.02,271.83 L1304.48,271.08 L1304.94,270.36 L1305.40,269.68 L1305.86,269.03 L1306.32,268.41 L1306.78,267.82 L1307.24,267.26 L1307.70,266.74 L1308.15,266.24 L1308.61,265.77 L1309.07,265.33 L1309.53,264.93 L1310.45,264.19 L1311.37,263.57 L1312.29,263.06 L1313.21,262.65 L1314.13,262.35 L1315.04,262.15 L1315.96,262.05 L1316.88,262.06 L1317.80,262.16 L1318.72,262.36 L1319.64,262.66 L1320.50,263.02 L1321.05,263.30 L1321.60,263.61 L1322.15,263.96 L1322.70,264.34 L1323.26,264.76 L1323.77,265.18 L1324.23,265.58 L1324.69,266.00 L1325.15,266.45 L1325.61,266.92 L1326.07,267.41 L1326.53,267.93 L1326.99,268.47 L1327.45,269.03 L1327.91,269.62 L1328.37,270.24 L1328.83,270.87 L1329.28,271.53 L1329.74,272.22 L1330.20,272.93 L1330.66,273.67 L1331.12,274.42 L1331.58,275.21 L1332.04,276.02 L1332.50,276.85 L1332.96,277.71 L1333.42,278.59 L1333.88,279.50 L1334.34,280.44 L1334.80,281.40 L1335.26,282.39 L1335.72,283.40 L1336.17,284.45 L1336.63,285.51 L1337.09,286.61 L1337.55,287.73 L1338.01,288.88 L1338.47,290.06 L1338.93,291.27 L1339.39,292.50 L1339.85,293.77 L1340.31,295.06 L1340.77,296.39 L1341.23,297.74 L1341.69,299.13 L1342.15,300.54 L1342.61,301.99 L1343.07,303.47 L1343.52,304.99 L1343.98,306.53 L1344.44,308.11 L1344.90,309.73 L1345.36,311.38 L1345.82,313.06 L1346.28,314.78 L1346.74,316.54 L1347.20,318.34 L1347.66,320.17 L1348.12,322.05 L1348.58,323.96 L1349.04,325.92 L1349.50,327.92 L1349.96,329.96 L1350.41,332.04 L1350.87,334.17 L1351.33,336.35 L1351.79,338.58 L1352.25,340.85 L1352.71,343.17 L1353.17,345.55 L1353.63,347.98 L1354.09,350.46 L1354.55,353.00 L1355.01,355.60 L1355.47,358.25 L1355.93,360.97 L1356.39,363.76 L1356.85,366.61 L1357.31,369.52 L1357.76,372.51 L1358.22,375.58 L1358.68,378.72 L1359.14,381.94 L1359.60,385.24 L1360.06,388.63 L1360.52,392.11 L1360.98,395.69 L1361.44,399.36 L1361.90,403.14 L1362.36,407.02 L1362.82,411.02 L1363.28,415.14 L1363.74,419.39 L1364.20,423.77 L1364.65,428.28 L1365.11,432.95 L1365.57,437.78 L1366.03,442.78 L1366.49,447.95 L1366.95,453.32 L1367.41,458.89 L1367.87,464.69 L1368.33,470.72 L1368.79,477.01 L1369.25,483.57 L1369.71,490.44 L1370.17,497.64 L1370.63,505.21 L1371.09,513.17 L1371.54,521.58 L1372.00,530.48 L1372.46,539.93 L1372.92,550.00 L1373.38,560.78 L1373.84,572.36 L1374.30,584.87 L1374.76,598.45 L1375.22,613.30 L1375.68,629.64 L1376.14,647.76 L1376.49,662.97 L1376.58,667.18 L1376.60,667.99 L1376.67,671.49 L1376.76,675.91 L1376.86,680.43 L1376.95,685.06 L1377.04,689.79 L1377.06,690.71 L1377.13,694.64 L1377.22,699.60 L1377.32,704.67 L1377.41,709.86 L1377.50,715.16 L1377.52,716.17 L1377.59,720.56 L1377.68,726.06 L1377.77,731.65 L1377.87,737.32 L1377.96,743.05 L1377.98,744.15 L1378.05,748.82 L1378.14,754.60 L1378.23,760.34 L1378.33,766.01 L1378.42,771.55 L1378.44,772.58 L1378.51,776.87 L1378.60,781.92 L1378.69,786.59 L1378.79,790.78 L1378.88,794.40 L1378.89,795.02 L1378.97,797.34 L1379.06,799.52 L1379.15,800.86 L1379.43,799.61 L1379.52,797.49 L1379.61,794.60 L1379.70,791.05 L1379.80,786.92 L1379.81,786.08 L1379.89,782.33 L1379.98,777.37 L1380.07,772.13 L1380.16,766.69 L1380.26,761.12 L1380.27,760.05 L1380.35,755.47 L1380.44,749.80 L1380.53,744.13 L1380.62,738.51 L1380.71,732.95 L1380.73,731.90 L1380.81,727.47 L1380.90,722.07 L1380.99,716.78 L1381.08,711.60 L1381.17,706.53 L1381.19,705.57 L1381.27,701.56 L1381.36,696.71 L1381.45,691.98 L1381.54,687.35 L1381.63,682.84 L1381.65,681.99 L1381.73,678.43 L1381.82,674.12 L1381.91,669.92 L1382.00,665.82 L1382.11,661.06 L1382.57,642.42 L1383.03,625.73 L1383.49,610.67 L1383.95,596.99 L1384.41,584.47 L1384.87,572.95 L1385.33,562.30 L1385.78,552.39 L1386.24,543.15 L1386.70,534.50 L1387.16,526.37 L1387.62,518.70 L1388.08,511.45 L1388.54,504.59 L1389.00,498.07 L1389.46,491.87 L1389.92,485.96 L1390.38,480.31 L1390.84,474.92 L1391.30,469.75 L1391.76,464.80 L1392.22,460.04 L1392.67,455.47 L1393.13,451.07 L1393.59,446.84 L1394.05,442.76 L1394.51,438.82 L1394.97,435.02 L1395.43,431.35 L1395.89,427.81 L1396.35,424.37 L1396.81,421.06 L1397.27,417.84 L1397.73,414.73 L1398.19,411.71 L1398.65,408.78 L1399.11,405.95 L1399.57,403.19 L1400.02,400.52 L1400.48,397.92 L1400.94,395.40 L1401.40,392.96 L1401.86,390.58 L1402.32,388.26 L1402.78,386.02 L1403.24,383.83 L1403.70,381.71 L1404.16,379.64 L1404.62,377.63 L1405.08,375.68 L1405.54,373.78 L1406.00,371.93 L1406.46,370.13 L1406.91,368.38 L1407.37,366.67 L1407.83,365.01 L1408.29,363.40 L1408.75,361.83 L1409.21,360.31 L1409.67,358.82 L1410.13,357.38 L1410.59,355.98 L1411.05,354.61 L1411.51,353.29 L1411.97,352.00 L1412.43,350.74 L1412.89,349.53 L1413.35,348.34 L1413.81,347.19 L1414.26,346.08 L1414.72,345.00 L1415.18,343.95 L1415.64,342.93 L1416.10,341.95 L1416.56,340.99 L1417.02,340.06 L1417.48,339.17 L1417.94,338.30 L1418.40,337.46 L1418.86,336.65 L1419.32,335.87 L1419.78,335.12 L1420.24,334.39 L1420.70,333.69 L1421.15,333.02 L1421.61,332.37 L1422.07,331.75 L1422.53,331.15 L1422.99,330.58 L1423.45,330.03 L1423.91,329.51 L1424.37,329.01 L1424.83,328.54 L1425.29,328.09 L1425.75,327.66 L1426.21,327.26 L1427.13,326.52 L1428.04,325.88 L1428.96,325.32 L1429.88,324.85 L1430.80,324.47 L1431.72,324.18 L1432.64,323.97 L1433.56,323.84 L1434.48,323.80 L1435.13,323.82 L1435.77,323.88 L1436.41,323.98 L1437.06,324.12 L1437.69,324.30 L1438.34,324.52 L1438.99,324.78 L1439.54,325.03 L1440.09,325.31 L1440.64,325.63 L1441.37,326.08 L1442.28,326.73 L1443.20,327.46 L1443.66,327.86 L1444.12,328.27 L1444.58,328.71 L1445.04,329.16 L1445.50,329.64 L1445.96,330.14 L1446.42,330.66 L1446.88,331.19 L1447.34,331.75 L1447.80,332.33 L1448.26,332.94 L1448.72,333.56 L1449.18,334.20 L1449.63,334.87 L1450.09,335.56 L1450.55,336.26 L1451.01,336.99 L1451.47,337.75 L1451.93,338.52 L1452.39,339.32 L1452.85,340.14 L1453.31,340.98 L1453.77,341.84 L1454.23,342.73 L1454.69,343.64 L1455.15,344.57 L1455.61,345.53 L1456.07,346.51 L1456.52,347.52 L1456.98,348.55 L1457.44,349.60 L1457.90,350.68 L1458.36,351.78 L1458.82,352.91 L1459.28,354.07 L1459.74,355.25 L1460.20,356.46 L1460.66,357.70 L1461.12,358.96 L1461.58,360.25 L1462.04,361.57 L1462.50,362.92 L1462.96,364.29 L1463.41,365.70 L1463.87,367.14 L1464.33,368.60 L1464.79,370.10 L1465.25,371.63 L1465.71,373.19 L1466.17,374.79 L1466.63,376.41 L1467.09,378.08 L1467.55,379.77 L1468.01,381.50 L1468.47,383.27 L1468.93,385.08 L1469.39,386.92 L1469.85,388.80 L1470.31,390.72 L1470.76,392.69 L1471.22,394.69 L1471.68,396.74 L1472.14,398.83 L1472.60,400.96 L1473.06,403.15 L1473.52,405.37 L1473.98,407.65 L1474.44,409.98 L1474.90,412.36 L1475.36,414.79 L1475.82,417.28 L1476.28,419.83 L1476.74,422.43 L1477.20,425.10 L1477.65,427.82 L1478.11,430.62 L1478.57,433.48 L1479.03,436.41 L1479.49,439.41 L1479.95,442.49 L1480.41,445.64 L1480.87,448.88 L1481.33,452.20 L1481.79,455.62 L1482.25,459.12 L1482.71,462.72 L1483.17,466.43 L1483.63,470.24 L1484.09,474.17 L1484.55,478.21 L1485.00,482.38 L1485.46,486.68 L1485.92,491.12 L1486.38,495.71 L1486.84,500.46 L1487.30,505.37 L1487.76,510.46 L1488.22,515.74 L1488.68,521.23 L1489.14,526.94 L1489.60,532.88 L1490.06,539.08 L1490.52,545.56 L1490.98,552.34 L1491.44,559.44 L1491.89,566.91 L1492.35,574.78 L1492.81,583.09 L1493.27,591.89 L1493.73,601.24 L1494.19,611.21 L1494.65,621.88 L1495.11,633.35 L1495.57,645.74 L1496.03,659.20 L1496.49,673.91 L1496.95,690.09 L1497.41,708.02 L1497.73,722.02 L1497.83,726.16 L1497.87,728.01 L1497.92,730.40 L1498.01,734.72 L1498.10,739.15 L1498.19,743.69 L1498.29,748.32 L1498.33,750.39 L1498.38,753.06 L1498.47,757.90 L1498.56,762.85 L1498.65,767.90 L1498.74,773.06 L1498.78,775.36 L1498.84,778.31 L1498.93,783.64 L1499.02,789.06 L1499.11,794.54 L1499.20,800.07 L1499.24,802.52 L1499.30,805.63 L1499.39,811.18 L1499.48,816.68 L1499.57,822.10 L1499.66,827.38 L1499.70,829.64 L1499.75,832.44 L1499.85,837.23 L1499.94,841.65 L1500.03,845.62 L1500.12,849.04 L1500.16,850.34 L1500.21,851.82 L1500.31,853.88 L1500.40,855.16 L1500.67,854.14 L1500.77,852.19 L1500.86,849.53 L1500.95,846.22 L1501.04,842.35 L1501.08,840.50 L1501.13,838.02 L1501.22,833.32 L1501.32,828.33 L1501.41,823.12 L1501.50,817.77 L1501.54,815.38 L1501.59,812.32 L1501.68,806.83 L1501.78,801.33 L1501.87,795.85 L1501.96,790.41 L1502.00,788.04 L1502.05,785.05 L1502.14,779.75 L1502.24,774.55 L1502.33,769.44 L1502.42,764.43 L1502.46,762.26 L1502.51,759.53 L1502.60,754.73 L1502.69,750.04 L1502.79,745.45 L1502.88,740.96 L1502.92,739.02 L1502.97,736.57 L1503.06,732.29 L1503.15,728.10 L1503.25,724.01 L1503.38,718.28 L1503.84,699.75 L1504.30,683.10 L1504.76,668.04 L1505.22,654.32 L1505.68,641.75 L1506.13,630.15 L1506.59,619.41 L1507.05,609.41 L1507.51,600.07 L1507.97,591.30 L1508.43,583.05 L1508.89,575.26 L1509.35,567.88 L1509.81,560.89 L1510.27,554.23 L1510.73,547.89 L1511.19,541.84 L1511.65,536.05 L1512.11,530.50 L1512.57,525.18 L1513.02,520.08 L1513.48,515.16 L1513.94,510.43 L1514.40,505.88 L1514.86,501.48 L1515.32,497.24 L1515.78,493.13 L1516.24,489.16 L1516.70,485.32 L1517.16,481.60 L1517.62,478.00 L1518.08,474.50 L1518.54,471.11 L1519.00,467.81 L1519.46,464.61 L1519.91,461.50 L1520.37,458.48 L1520.83,455.54 L1521.29,452.67 L1521.75,449.88 L1522.21,447.17 L1522.67,444.52 L1523.13,441.95 L1523.59,439.44 L1524.05,436.99 L1524.51,434.60 L1524.97,432.27 L1525.43,429.99 L1525.89,427.77 L1526.35,425.60 L1526.81,423.49 L1527.26,421.42 L1527.72,419.40 L1528.18,417.43 L1528.64,415.50 L1529.10,413.62 L1529.56,411.78 L1530.02,409.98 L1530.48,408.23 L1530.94,406.51 L1531.40,404.83 L1531.86,403.19 L1532.32,401.58 L1532.78,400.01 L1533.24,398.48 L1533.70,396.98 L1534.15,395.51 L1534.61,394.08 L1535.07,392.68 L1535.53,391.30 L1535.99,389.96 L1536.45,388.65 L1536.91,387.37 L1537.37,386.12 L1537.83,384.89 L1538.29,383.70 L1538.75,382.53 L1539.21,381.38 L1539.67,380.27 L1540.13,379.17 L1540.59,378.11 L1541.05,377.07 L1541.50,376.05 L1541.96,375.06 L1542.42,374.09 L1542.88,373.14 L1543.34,372.22 L1543.80,371.31 L1544.26,370.44 L1544.72,369.58 L1545.18,368.74 L1545.64,367.93 L1546.10,367.13 L1546.56,366.36 L1547.02,365.61 L1547.48,364.88 L1547.94,364.16 L1548.39,363.47 L1548.85,362.80 L1549.31,362.14 L1549.77,361.51 L1550.23,360.89 L1550.69,360.29 L1551.15,359.71 L1551.61,359.15 L1552.07,358.61 L1552.53,358.08 L1552.99,357.57 L1553.45,357.08 L1553.91,356.60 L1554.37,356.15 L1554.83,355.71 L1555.28,355.28 L1555.74,354.88 L1556.20,354.49 L1557.12,353.75 L1558.04,353.08 L1558.96,352.48 L1559.88,351.94 L1560.80,351.45 L1561.72,351.03 L1562.63,350.67 L1563.55,350.37 L1564.47,350.13 L1565.39,349.94 L1566.31,349.82 L1566.98,349.76 L1567.62,349.73 L1568.27,349.74 L1568.91,349.77 L1569.52,349.82 L1570.19,349.91 L1570.84,350.02 L1571.48,350.16 L1572.28,350.37 L1573.20,350.66 L1574.12,351.01 L1575.04,351.41 L1575.96,351.87 L1576.87,352.38 L1577.79,352.95 L1578.71,353.57 L1579.63,354.24 L1580.55,354.98 L1581.01,355.36 L1581.47,355.77 L1581.93,356.18 L1582.39,356.61 L1582.85,357.05 L1583.31,357.51 L1583.76,357.98 L1584.22,358.47 L1584.68,358.97 L1585.14,359.48 L1585.60,360.01 L1586.06,360.55 L1586.52,361.11 L1586.98,361.68 L1587.44,362.27 L1587.90,362.87 L1588.36,363.49 L1588.82,364.12 L1589.28,364.76 L1589.74,365.43 L1590.20,366.10 L1590.65,366.79 L1591.11,367.50 L1591.57,368.22 L1592.03,368.96 L1592.49,369.72 L1592.95,370.49 L1593.41,371.27 L1593.87,372.07 L1594.33,372.89 L1594.79,373.73 L1595.25,374.58 L1595.71,375.45 L1596.17,376.33 L1596.63,377.23 L1597.09,378.15 L1597.55,379.09 L1598.00,380.04 L1598.46,381.01 L1598.92,382.00 L1599.38,383.01 L1599.84,384.04 L1600.30,385.08 L1600.76,386.15 L1601.22,387.23 L1601.68,388.33 L1602.14,389.45 L1602.60,390.59 L1603.06,391.75 L1603.52,392.93 L1603.98,394.13 L1604.44,395.36 L1604.89,396.60 L1605.35,397.87 L1605.81,399.15 L1606.27,400.46 L1606.73,401.80 L1607.19,403.15 L1607.65,404.53 L1608.11,405.93 L1608.57,407.36 L1609.03,408.81 L1609.49,410.28 L1609.95,411.78 L1610.41,413.31 L1610.87,414.86 L1611.33,416.44 L1611.78,418.05 L1612.24,419.69 L1612.70,421.35 L1613.16,423.04 L1613.62,424.77 L1614.08,426.52 L1614.54,428.31 L1615.00,430.12 L1615.46,431.97 L1615.92,433.86 L1616.38,435.77 L1616.84,437.72 L1617.30,439.71 L1617.76,441.74 L1618.22,443.80 L1618.68,445.90 L1619.13,448.04 L1619.59,450.23 L1620.05,452.45 L1620.51,454.72 L1620.97,457.04 L1621.43,459.40 L1621.89,461.80 L1622.35,464.26 L1622.81,466.77 L1623.27,469.33 L1623.73,471.94 L1624.19,474.61 L1624.65,477.34 L1625.11,480.13 L1625.57,482.98 L1626.02,485.90 L1626.48,488.88 L1626.94,491.93 L1627.40,495.06 L1627.86,498.27 L1628.32,501.55 L1628.78,504.91 L1629.24,508.37 L1629.70,511.91 L1630.16,515.55 L1630.62,519.29 L1631.08,523.13 L1631.54,527.09 L1632.00,531.16 L1632.46,535.36 L1632.92,539.68 L1633.37,544.15 L1633.83,548.76 L1634.29,553.52 L1634.75,558.46 L1635.21,563.57 L1635.67,568.87 L1636.13,574.37 L1636.59,580.10 L1637.05,586.06 L1637.51,592.28 L1637.97,598.78 L1638.43,605.59 L1638.89,612.72 L1639.35,620.23 L1639.81,628.15 L1640.26,636.51 L1640.72,645.38 L1641.18,654.83 L1641.64,664.91 L1642.10,675.74 L1642.56,687.42 L1643.02,700.09 L1643.48,713.94 L1643.94,729.19 L1644.40,746.16 L1644.86,765.24 L1645.23,782.54 L1645.32,787.00 L1645.41,791.89 L1645.50,796.77 L1645.60,801.81 L1645.69,807.02 L1645.78,812.23 L1645.87,817.95 L1645.96,823.69 L1646.06,829.64 L1646.15,835.81 L1646.24,842.00 L1646.33,848.82 L1646.42,855.70 L1646.51,862.84 L1646.61,870.24 L1646.70,877.69 L1646.79,885.89 L1646.88,894.13 L1646.97,902.63 L1647.07,911.37 L1647.15,920.02 L1647.25,929.33 L1647.34,938.35 L1647.43,947.19 L1647.53,955.63 L1647.61,963.13 L1647.71,969.98 L1647.80,975.14 L1647.89,978.45 L1647.98,979.64 L1648.07,978.46 L1648.17,975.03 L1648.26,969.83 L1648.35,963.17 L1648.44,955.44 L1648.53,947.28 L1648.63,938.19 L1648.72,929.19 L1648.81,920.19 L1648.90,911.31 L1648.99,902.87 L1649.09,894.15 L1649.18,885.95 L1649.27,878.03 L1649.36,870.39 L1649.45,863.24 L1649.55,855.93 L1649.64,849.10 L1649.73,842.51 L1649.82,836.17 L1649.91,830.22 L1650.01,824.13 L1650.10,818.43 L1650.19,812.91 L1650.28,807.57 L1650.37,802.56 L1650.46,797.41 L1650.56,792.56 L1650.65,787.85 L1650.74,783.28 L1650.83,778.98 L1651.29,758.51 L1651.75,740.48 L1652.21,724.40 L1652.67,709.89 L1653.13,696.69 L1653.59,684.59 L1654.05,673.42 L1654.50,663.05 L1654.96,653.38 L1655.42,644.33 L1655.88,635.82 L1656.34,627.79 L1656.80,620.20 L1657.26,613.00 L1657.72,606.14 L1658.18,599.62 L1658.64,593.38 L1659.10,587.42 L1659.56,581.70 L1660.02,576.22 L1660.48,570.95 L1660.94,565.87 L1661.39,560.98 L1661.85,556.26 L1662.31,551.71 L1662.77,547.30 L1663.23,543.04 L1663.69,538.91 L1664.15,534.91 L1664.61,531.03 L1665.07,527.26 L1665.53,523.60 L1665.99,520.04 L1666.45,516.58 L1666.91,513.22 L1667.37,509.94 L1667.83,506.74 L1668.28,503.63 L1668.74,500.59 L1669.20,497.63 L1669.66,494.74 L1670.12,491.91 L1670.58,489.15 L1671.04,486.46 L1671.50,483.82 L1671.96,481.25 L1672.42,478.73 L1672.88,476.26 L1673.34,473.84 L1673.80,471.48 L1674.26,469.17 L1674.72,466.90 L1675.18,464.68 L1675.63,462.50 L1676.09,460.37 L1676.55,458.27 L1677.01,456.22 L1677.47,454.21 L1677.93,452.23 L1678.39,450.29 L1678.85,448.39 L1679.31,446.53 L1679.77,444.69 L1680.23,442.89 L1680.69,441.13 L1681.15,439.39 L1681.61,437.68 L1682.07,436.01 L1682.52,434.36 L1682.98,432.74 L1683.44,431.15 L1683.90,429.59 L1684.36,428.05 L1684.82,426.54 L1685.28,425.06 L1685.74,423.60 L1686.20,422.16 L1686.66,420.75 L1687.12,419.36 L1687.58,417.99 L1688.04,416.65 L1688.50,415.33 L1688.96,414.03 L1689.42,412.75 L1689.87,411.49 L1690.33,410.25 L1690.79,409.03 L1691.25,407.83 L1691.71,406.65 L1692.17,405.48 L1692.63,404.34 L1693.09,403.21 L1693.55,402.11 L1694.01,401.01 L1694.47,399.94 L1694.93,398.88 L1695.39,397.84 L1695.85,396.82 L1696.31,395.81 L1696.76,394.81 L1697.22,393.83 L1697.68,392.87 L1698.14,391.92 L1698.60,390.99 L1699.06,390.07 L1699.52,389.16 L1699.98,388.27 L1700.44,387.39 L1700.90,386.53 L1701.36,385.68 L1701.82,384.84 L1702.28,384.02 L1702.74,383.21 L1703.20,382.41 L1703.65,381.62 L1704.11,380.85 L1704.57,380.09 L1705.03,379.34 L1705.49,378.60 L1705.95,377.87 L1706.41,377.16 L1706.87,376.45 L1707.33,375.76 L1707.79,375.08 L1708.25,374.41 L1708.71,373.75 L1709.17,373.10 L1709.63,372.46 L1710.09,371.84 L1710.55,371.22 L1711.00,370.61 L1711.46,370.02 L1711.92,369.43 L1712.38,368.85 L1712.84,368.29 L1713.30,367.73 L1713.76,367.18 L1714.22,366.64 L1714.68,366.12 L1715.14,365.60 L1715.60,365.09 L1716.06,364.59 L1716.52,364.09 L1716.98,363.61 L1717.44,363.14 L1717.89,362.67 L1718.35,362.21 L1718.81,361.77 L1719.27,361.33 L1719.73,360.90 L1720.19,360.47 L1720.65,360.06 L1721.11,359.65 L1721.57,359.25 L1722.03,358.86 L1722.95,358.11 L1723.87,357.38 L1724.79,356.69 L1725.70,356.03 L1726.62,355.39 L1727.54,354.79 L1728.46,354.21 L1729.38,353.67 L1730.30,353.15 L1731.22,352.66 L1732.13,352.20 L1733.05,351.76 L1733.97,351.35 L1734.89,350.97 L1735.81,350.61 L1736.73,350.28 L1737.65,349.97 L1738.57,349.69 L1739.48,349.43 L1740.40,349.20 L1741.32,348.99 L1742.24,348.81 L1743.16,348.65 L1744.08,348.51 L1744.68,348.43 L1745.32,348.36 L1745.96,348.30 L1746.61,348.25 L1747.25,348.21 L1747.89,348.18 L1748.54,348.16 L1749.18,348.16 L1750.05,348.17 L1750.97,348.19 L1751.89,348.25 L1752.81,348.32 L1753.72,348.41 L1754.64,348.52 L1755.56,348.66 L1756.48,348.81 L1757.40,348.99 L1758.32,349.18 L1759.24,349.40 L1760.15,349.63 L1761.07,349.89 L1761.99,350.16 L1762.91,350.45 L1763.83,350.77 L1764.75,351.10 L1765.67,351.45 L1766.59,351.81 L1767.50,352.20 L1768.42,352.60 L1769.34,353.03 L1770.26,353.47 L1771.18,353.93 L1772.10,354.40 L1773.02,354.90 L1773.94,355.41 L1774.85,355.94 L1775.77,356.49 L1776.69,357.05 L1777.61,357.64 L1778.53,358.23 L1779.45,358.85 L1780.37,359.48 L1781.29,360.13 L1782.20,360.80 L1783.12,361.49 L1784.04,362.19 L1784.96,362.90 L1785.88,363.64 L1786.80,364.39 L1787.72,365.16 L1788.18,365.55 L1788.63,365.94 L1789.09,366.34 L1789.55,366.74 L1790.01,367.15 L1790.47,367.56 L1790.93,367.97 L1791.39,368.39 L1791.85,368.81 L1792.31,369.24 L1792.77,369.67 L1793.23,370.10 L1793.69,370.54 L1794.15,370.99 L1794.61,371.43 L1795.07,371.88 L1795.52,372.34 L1795.98,372.80 L1796.44,373.26 L1796.90,373.73 L1797.36,374.20 L1797.82,374.68 L1798.28,375.16 L1798.74,375.64 L1799.20,376.13 L1799.66,376.62 L1800.12,377.12 L1800.58,377.62 L1801.04,378.12 L1801.50,378.63 L1801.96,379.14 L1802.42,379.66 L1802.87,380.18 L1803.33,380.70 L1803.79,381.23 L1804.25,381.76 L1804.71,382.30 L1805.17,382.84 L1805.63,383.38 L1806.09,383.93 L1806.55,384.48 L1807.01,385.04 L1807.47,385.60 L1807.93,386.17 L1808.39,386.73 L1808.85,387.31 L1809.31,387.88 L1809.76,388.47 L1810.22,389.05 L1810.68,389.64 L1811.14,390.23 L1811.60,390.83 L1812.06,391.43 L1812.52,392.04 L1812.98,392.65 L1813.44,393.26 L1813.90,393.88 L1814.36,394.50 L1814.82,395.13 L1815.28,395.76 L1815.74,396.40 L1816.20,397.04 L1816.66,397.68 L1817.11,398.33 L1817.57,398.98 L1818.03,399.64 L1818.49,400.30 L1818.95,400.96 L1819.41,401.63 L1819.87,402.30 L1820.33,402.98 L1820.79,403.66 L1821.25,404.35 L1821.71,405.04 L1822.17,405.74 L1822.63,406.43 L1823.09,407.14 L1823.55,407.85 L1824.00,408.56 L1824.46,409.28 L1824.92,410.00 L1825.38,410.72 L1825.84,411.45 L1826.30,412.19 L1826.76,412.93 L1827.22,413.67 L1827.68,414.42 L1828.14,415.17 L1828.60,415.93 L1829.06,416.69 L1829.52,417.46 L1829.98,418.23 L1830.44,419.00 L1830.89,419.78 L1831.35,420.57 L1831.81,421.35 L1832.27,422.15 L1832.73,422.95 L1833.19,423.75 L1833.65,424.56 L1834.11,425.37 L1834.57,426.19 L1835.03,427.01 L1835.49,427.84 L1835.95,428.67 L1836.41,429.50 L1836.87,430.34 L1837.33,431.19 L1837.79,432.04 L1838.24,432.90 L1838.70,433.76 L1839.16,434.62 L1839.62,435.49 L1840.08,436.37 L1840.54,437.25 L1841.00,438.14 L1841.46,439.03 L1841.92,439.92 L1842.38,440.82 L1842.84,441.73 L1843.30,442.64 L1843.76,443.56 L1844.22,444.48 L1844.68,445.40 L1845.13,446.33 L1845.59,447.27 L1846.05,448.21 L1846.51,449.16 L1846.97,450.11 L1847.43,451.07 L1847.89,452.04 L1848.35,453.01 L1848.81,453.98 L1849.27,454.96 L1849.73,455.95 L1850.19,456.94 L1850.65,457.93 L1851.11,458.94 L1851.57,459.94 L1852.03,460.96 L1852.48,461.98 L1852.94,463.00 L1853.40,464.03 L1853.86,465.07 L1854.32,466.11 L1854.78,467.16 L1855.24,468.21 L1855.70,469.27 L1856.16,470.34 L1856.62,471.41 L1857.08,472.49 L1857.54,473.57 L1858.00,474.66 L1858.46,475.76 L1858.92,476.86 L1859.37,477.97 L1859.83,479.09 L1860.29,480.21 L1860.75,481.33 L1861.21,482.47 L1861.67,483.61 L1862.13,484.76 L1862.59,485.91 L1863.05,487.07 L1863.51,488.24 L1863.97,489.41 L1864.43,490.59 L1864.89,491.77 L1865.35,492.97 L1865.81,494.17 L1866.26,495.37 L1866.72,496.59 L1867.18,497.81 L1867.64,499.04 L1868.10,500.27 L1868.56,501.51 L1869.02,502.76 L1869.48,504.02 L1869.94,505.28 L1870.40,506.55 L1870.86,507.83 L1871.32,509.11 L1871.78,510.40 L1872.24,511.70 L1872.70,513.01 L1873.16,514.32 L1873.61,515.64 L1874.07,516.97 L1874.53,518.31 L1874.99,519.66 L1875.45,521.01 L1875.91,522.37 L1876.37,523.74 L1876.83,525.11 L1877.29,526.50 L1877.75,527.89 L1878.21,529.29 L1878.67,530.70 L1879.13,532.11 L1879.59,533.54 L1880.05,534.97 L1880.50,536.41 L1880.96,537.86 L1881.42,539.31 L1881.88,540.78 L1882.34,542.25 L1882.80,543.73 L1883.26,545.22 L1883.72,546.72 L1884.18,548.23 L1884.64,549.74 L1885.10,551.27 L1885.56,552.80 L1886.02,554.34 L1886.48,555.89 L1886.94,557.45 L1887.39,559.01 L1887.85,560.59 L1888.31,562.17 L1888.77,563.76 L1889.23,565.36 L1889.69,566.97 L1890.15,568.59 L1890.61,570.21 L1891.07,571.85 L1891.53,573.49 L1891.99,575.14 L1892.45,576.80 L1892.91,578.47 L1893.37,580.14 L1893.83,581.83 L1894.29,583.52 L1894.74,585.22 L1895.20,586.93 L1895.66,588.64 L1896.12,590.36 L1896.58,592.09 L1897.04,593.83 L1897.50,595.57 L1897.96,597.33 L1898.42,599.08 L1898.88,600.85 L1899.34,602.62 L1899.80,604.40 L1900.26,606.18 L1900.72,607.97 L1901.18,609.76 L1901.63,611.56 L1902.09,613.36 L1902.55,615.17 L1903.01,616.98 L1903.47,618.79 L1903.93,620.61 L1904.39,622.43 L1904.85,624.25 L1905.31,626.07 L1905.77,627.89 L1906.23,629.72 L1906.69,631.54 L1907.15,633.36 L1907.61,635.18 L1908.07,637.00 L1908.53,638.81 L1908.98,640.62 L1909.44,642.42 L1909.90,644.22 L1910.36,646.01 L1910.82,647.80 L1911.28,649.57 L1911.74,651.34 L1912.20,653.09 L1912.66,654.83 L1913.12,656.56 L1913.58,658.27 L1914.04,659.97 L1914.50,661.65 L1914.96,663.31 L1915.42,664.95 L1915.87,666.57 L1916.33,668.17 L1916.79,669.74 L1917.25,671.28 L1917.71,672.80 L1918.17,674.29 L1918.63,675.75 L1919.09,677.17 L1919.55,678.56 L1920.01,679.92 L1920.47,681.24 L1920.93,682.52 L1921.39,683.76 L1921.85,684.96 L1922.31,686.12 L1922.76,687.24 L1923.22,688.31 L1923.68,689.33 L1924.14,690.30 L1924.60,691.23 L1925.06,692.11 L1925.52,692.93 L1925.98,693.71 L1926.44,694.43 L1926.90,695.10 L1927.36,695.72 L1927.82,696.29 L1928.28,696.80 L1928.74,697.26 L1929.20,697.67 L1930.11,698.33 L1931.03,698.78 L1931.61,698.96 L1932.25,699.07 L1932.87,699.08 L1933.54,699.01 L1934.18,698.89 L1934.82,698.83 L1935.47,698.67 L1936.09,698.45 L1936.66,698.18 L1937.46,697.71 L1938.38,697.03 L1939.30,696.23 L1939.76,695.79 L1940.22,695.31 L1940.68,694.81 L1941.14,694.29 L1941.60,693.74 L1942.06,693.17 L1942.52,692.58 L1942.98,691.97 L1943.44,691.35 L1943.89,690.71 L1944.35,690.05 L1944.81,689.38 L1945.27,688.69 L1945.73,688.00 L1946.19,687.29 L1946.65,686.57 L1947.11,685.85 L1947.57,685.12 L1948.03,684.38 L1948.49,683.64 L1948.95,682.89 L1949.41,682.14 L1949.87,681.39 L1950.33,680.63 L1950.79,679.88 L1951.24,679.12 L1951.70,678.37 L1952.16,677.61 L1952.62,676.86 L1953.08,676.11 L1953.54,675.36 L1954.00,674.61 L1954.46,673.87 L1954.92,673.13 L1955.38,672.40 L1955.84,671.67 L1956.30,670.95 L1956.76,670.23 L1957.22,669.52 L1957.68,668.81 L1958.13,668.11 L1958.59,667.42 L1959.05,666.74 L1959.51,666.06 L1959.97,665.39 L1960.43,664.73 L1960.89,664.08 L1961.35,663.44 L1961.81,662.80 L1962.27,662.17 L1962.73,661.56 L1963.19,660.95 L1963.65,660.35 L1964.11,659.76 L1964.57,659.18 L1965.03,658.61 L1965.48,658.05 L1965.94,657.49 L1966.40,656.95 L1966.86,656.42 L1967.32,655.90 L1967.78,655.39 L1968.24,654.88 L1968.70,654.39 L1969.16,653.91 L1969.62,653.44 L1970.08,652.98 L1970.54,652.53 L1971.00,652.09 L1971.46,651.66 L1971.92,651.24 L1972.37,650.83 L1972.83,650.44 L1973.29,650.05 L1974.21,649.31 L1975.13,648.60 L1976.05,647.95 L1976.97,647.33 L1977.89,646.76 L1978.81,646.23 L1979.72,645.74 L1980.64,645.29 L1981.56,644.89 L1982.48,644.53 L1983.40,644.21 L1984.32,643.93 L1985.24,643.70 L1986.16,643.51 L1987.07,643.36 L1987.99,643.26 L1988.91,643.19 L1989.83,643.17"/>
<path stroke="#00f" d="M336.17,153.58 L337.09,153.58 L338.01,153.57 L338.93,153.57 L339.84,153.56 L340.76,153.56 L341.68,153.55 L342.60,153.54 L343.52,153.53 L344.44,153.52 L345.36,153.50 L346.28,153.49 L347.19,153.47 L348.11,153.45 L349.03,153.43 L349.95,153.41 L350.87,153.39 L351.79,153.37 L352.71,153.34 L353.63,153.32 L354.54,153.29 L355.46,153.26 L356.38,153.23 L357.30,153.20 L358.22,153.17 L359.14,153.14 L360.06,153.10 L360.97,153.07 L361.89,153.03 L362.81,152.99 L363.73,152.95 L364.65,152.91 L365.57,152.87 L366.49,152.83 L367.41,152.79 L368.32,152.74 L369.24,152.70 L370.16,152.65 L371.08,152.61 L372.00,152.56 L372.92,152.51 L373.84,152.47 L374.76,152.42 L375.67,152.37 L376.59,152.32 L377.51,152.27 L378.43,152.22 L379.35,152.17 L380.27,152.12 L381.19,152.07 L382.11,152.01 L383.02,151.96 L383.94,151.91 L384.86,151.86 L385.78,151.81 L386.70,151.75 L387.62,151.70 L388.54,151.65 L389.25,151.61 L389.89,151.57 L390.53,151.54 L391.18,151.50 L391.82,151.47 L392.46,151.43 L393.11,151.40 L393.75,151.36 L394.39,151.33 L395.43,151.27 L396.34,151.22 L397.26,151.18 L398.18,151.13 L399.10,151.08 L400.02,151.04 L400.94,150.99 L401.86,150.95 L402.78,150.91 L403.69,150.87 L404.61,150.83 L405.53,150.79 L406.45,150.76 L407.37,150.72 L408.29,150.69 L409.21,150.66 L410.13,150.63 L411.04,150.60 L411.96,150.57 L412.88,150.55 L413.80,150.53 L414.72,150.51 L415.64,150.49 L416.56,150.47 L417.47,150.46 L418.39,150.45 L419.31,150.44 L420.23,150.44 L421.15,150.44 L422.07,150.44 L422.99,150.44 L423.91,150.45 L424.82,150.46 L425.74,150.47 L426.66,150.49 L427.58,150.51 L428.50,150.54 L429.42,150.57 L430.34,150.60 L431.26,150.63 L432.17,150.67 L433.09,150.72 L434.01,150.77 L434.93,150.82 L435.85,150.88 L436.77,150.94 L437.69,151.01 L438.61,151.08 L439.52,151.16 L440.44,151.24 L441.36,151.32 L442.28,151.42 L443.20,151.52 L444.12,151.62 L445.04,151.73 L445.95,151.85 L446.87,151.97 L447.79,152.10 L448.71,152.23 L449.63,152.37 L450.55,152.52 L451.47,152.67 L452.39,152.83 L453.30,153.00 L454.22,153.18 L455.14,153.36 L456.06,153.55 L456.98,153.75 L457.90,153.96 L458.82,154.17 L459.74,154.40 L460.65,154.63 L461.57,154.87 L462.49,155.12 L463.41,155.37 L464.33,155.64 L465.25,155.92 L466.17,156.20 L467.08,156.50 L468.00,156.81 L468.92,157.12 L469.84,157.45 L470.76,157.79 L471.68,158.13 L472.60,158.49 L473.52,158.86 L474.43,159.25 L475.35,159.64 L476.27,160.04 L477.19,160.46 L478.11,160.89 L479.03,161.34 L479.95,161.79 L480.87,162.26 L481.78,162.75 L482.70,163.24 L483.62,163.75 L484.54,164.28 L485.46,164.82 L486.38,165.37 L487.30,165.95 L488.21,166.53 L489.13,167.13 L490.05,167.75 L490.97,168.39 L491.89,169.04 L492.81,169.71 L493.73,170.40 L494.65,171.10 L495.56,171.83 L496.48,172.57 L497.40,173.34 L497.86,173.73 L498.32,174.12 L498.78,174.52 L499.24,174.92 L499.70,175.33 L500.16,175.75 L500.62,176.17 L501.08,176.59 L501.54,177.02 L502.00,177.46 L502.45,177.90 L502.91,178.35 L503.37,178.80 L503.83,179.26 L504.29,179.73 L504.75,180.20 L505.21,180.67 L505.67,181.16 L506.13,181.64 L506.59,182.14 L507.05,182.64 L507.51,183.15 L507.97,183.66 L508.43,184.18 L508.89,184.71 L509.34,185.24 L509.80,185.78 L510.26,186.33 L510.72,186.88 L511.18,187.44 L511.64,188.01 L512.10,188.59 L512.56,189.17 L513.02,189.76 L513.48,190.36 L513.94,190.96 L514.40,191.57 L514.86,192.19 L515.32,192.82 L515.78,193.46 L516.24,194.10 L516.69,194.75 L517.15,195.41 L517.61,196.08 L518.07,196.76 L518.53,197.44 L518.99,198.14 L519.45,198.84 L519.91,199.55 L520.37,200.27 L520.83,201.00 L521.29,201.74 L521.75,202.49 L522.21,203.25 L522.67,204.02 L523.13,204.80 L523.58,205.59 L524.04,206.39 L524.50,207.19 L524.96,208.01 L525.42,208.84 L525.88,209.68 L526.34,210.54 L526.80,211.40 L527.26,212.27 L527.72,213.16 L528.18,214.06 L528.64,214.96 L529.10,215.89 L529.56,216.82 L530.02,217.76 L530.48,218.72 L530.93,219.69 L531.39,220.68 L531.85,221.67 L532.31,222.69 L532.77,223.71 L533.23,224.75 L533.69,225.80 L534.15,226.87 L534.61,227.95 L535.07,229.05 L535.53,230.16 L535.99,231.29 L536.45,232.43 L536.91,233.59 L537.37,234.76 L537.82,235.95 L538.28,237.16 L538.74,238.39 L539.20,239.63 L539.66,240.89 L540.12,242.17 L540.58,243.47 L541.04,244.79 L541.50,246.13 L541.96,247.48 L542.42,248.86 L542.88,250.26 L543.34,251.67 L543.80,253.11 L544.26,254.57 L544.71,256.06 L545.17,257.56 L545.63,259.09 L546.09,260.65 L546.55,262.22 L547.01,263.83 L547.47,265.45 L547.93,267.11 L548.39,268.79 L548.85,270.49 L549.31,272.23 L549.77,273.99 L550.23,275.78 L550.69,277.60 L551.15,279.45 L551.61,281.33 L552.06,283.25 L552.52,285.19 L552.98,287.17 L553.44,289.19 L553.90,291.23 L554.36,293.32 L554.82,295.44 L555.28,297.60 L555.74,299.79 L556.20,302.03 L556.66,304.30 L557.12,306.62 L557.58,308.97 L558.04,311.37 L558.50,313.82 L558.95,316.31 L559.41,318.84 L559.87,321.42 L560.33,324.05 L560.79,326.73 L561.25,329.45 L561.71,332.23 L562.17,335.06 L562.63,337.94 L563.09,340.87 L563.55,343.86 L564.01,346.90 L564.47,349.99 L564.93,353.14 L565.39,356.34 L565.85,359.60 L566.30,362.91 L566.76,366.27 L567.22,369.68 L567.68,373.13 L568.14,376.64 L568.60,380.18 L569.06,383.76 L569.52,387.38 L569.98,391.01 L570.44,394.67 L570.90,398.33 L571.36,401.99 L571.82,405.64 L572.28,409.25 L572.74,412.81 L573.19,416.30 L573.65,419.71 L574.11,423.00 L574.57,426.14 L575.03,429.11 L575.49,431.88 L575.95,434.41 L576.27,436.02 L576.41,436.68 L576.55,437.29 L576.73,438.08 L576.91,438.82 L577.10,439.50 L577.28,440.12 L577.56,440.96 L577.79,441.55 L578.11,442.22 L578.48,442.74 L579.03,443.04 L579.63,442.92 L580.04,442.43 L580.40,441.71 L580.68,440.99 L580.96,440.14 L581.14,439.50 L581.32,438.79 L581.51,438.03 L581.69,437.21 L581.92,436.09 L582.38,433.65 L582.84,430.90 L583.30,427.90 L583.76,424.66 L584.22,421.23 L584.68,417.62 L585.14,413.88 L585.60,410.03 L586.06,406.09 L586.52,402.09 L586.98,398.04 L587.43,393.97 L587.89,389.88 L588.35,385.79 L588.81,381.71 L589.27,377.65 L589.73,373.62 L590.19,369.62 L590.65,365.66 L591.11,361.74 L591.57,357.87 L592.03,354.05 L592.49,350.28 L592.95,346.56 L593.41,342.89 L593.87,339.28 L594.32,335.73 L594.78,332.23 L595.24,328.78 L595.70,325.39 L596.16,322.06 L596.62,318.77 L597.08,315.54 L597.54,312.37 L598.00,309.24 L598.46,306.16 L598.92,303.13 L599.38,300.16 L599.84,297.22 L600.30,294.34 L600.76,291.50 L601.21,288.71 L601.67,285.95 L602.13,283.25 L602.59,280.58 L603.05,277.96 L603.51,275.37 L603.97,272.82 L604.43,270.32 L604.89,267.85 L605.35,265.41 L605.81,263.01 L606.27,260.65 L606.73,258.32 L607.19,256.03 L607.65,253.76 L608.11,251.53 L608.56,249.33 L609.02,247.17 L609.48,245.03 L609.94,242.92 L610.40,240.84 L610.86,238.79 L611.32,236.77 L611.78,234.77 L612.24,232.80 L612.70,230.86 L613.16,228.94 L613.62,227.05 L614.08,225.18 L614.54,223.33 L615.00,221.51 L615.45,219.72 L615.91,217.94 L616.37,216.19 L616.83,214.46 L617.29,212.76 L617.75,211.07 L618.21,209.41 L618.67,207.76 L619.13,206.14 L619.59,204.53 L620.05,202.95 L620.51,201.38 L620.97,199.84 L621.43,198.31 L621.89,196.80 L622.35,195.31 L622.80,193.84 L623.26,192.39 L623.72,190.95 L624.18,189.53 L624.64,188.13 L625.10,186.74 L625.56,185.37 L626.02,184.02 L626.48,182.68 L626.94,181.36 L627.40,180.05 L627.86,178.76 L628.32,177.49 L628.78,176.23 L629.24,174.98 L629.69,173.75 L630.15,172.54 L630.61,171.34 L631.07,170.15 L631.53,168.98 L631.99,167.82 L632.45,166.67 L632.91,165.54 L633.37,164.42 L633.83,163.32 L634.29,162.23 L634.75,161.15 L635.21,160.08 L635.67,159.03 L636.13,157.99 L636.58,156.96 L637.04,155.95 L637.50,154.94 L637.96,153.95 L638.42,152.98 L638.88,152.01 L639.34,151.06 L639.80,150.11 L640.26,149.18 L640.72,148.27 L641.18,147.36 L641.64,146.46 L642.10,145.58 L642.56,144.71 L643.02,143.85 L643.48,143.00 L643.93,142.16 L644.39,141.33 L644.85,140.51 L645.31,139.71 L645.77,138.91 L646.23,138.13 L646.69,137.36 L647.15,136.60 L647.61,135.84 L648.07,135.10 L648.53,134.37 L648.99,133.65 L649.45,132.94 L649.91,132.24 L650.37,131.55 L650.82,130.87 L651.28,130.21 L651.74,129.55 L652.20,128.90 L652.66,128.26 L653.12,127.63 L653.58,127.02 L654.04,126.41 L654.50,125.81 L654.96,125.22 L655.42,124.65 L655.88,124.08 L656.34,123.52 L656.80,122.97 L657.26,122.43 L657.72,121.91 L658.17,121.39 L658.63,120.88 L659.09,120.38 L659.55,119.89 L660.01,119.41 L660.47,118.94 L660.93,118.48 L661.39,118.03 L661.85,117.59 L662.31,117.16 L662.77,116.74 L663.23,116.32 L663.69,115.92 L664.15,115.53 L665.06,114.77 L665.98,114.06 L666.90,113.38 L667.82,112.74 L668.74,112.14 L669.66,111.57 L670.58,111.05 L671.50,110.56 L672.41,110.12 L673.33,109.71 L674.25,109.34 L675.17,109.02 L675.81,108.81 L676.45,108.63 L677.10,108.46 L677.74,108.31 L678.38,108.18 L679.03,108.08 L679.67,107.99 L680.31,107.92 L681.14,107.87 L682.06,107.84 L682.98,107.86 L683.90,107.93 L684.82,108.03 L685.74,108.18 L686.65,108.37 L687.57,108.61 L688.49,108.89 L689.41,109.21 L690.33,109.59 L691.25,110.01 L692.17,110.47 L693.08,110.99 L694.00,111.55 L694.92,112.17 L695.84,112.83 L696.76,113.55 L697.68,114.31 L698.14,114.72 L698.60,115.13 L699.06,115.57 L699.52,116.01 L699.98,116.47 L700.43,116.94 L700.89,117.43 L701.35,117.93 L701.81,118.44 L702.27,118.97 L702.73,119.52 L703.19,120.08 L703.65,120.65 L704.11,121.24 L704.57,121.85 L705.03,122.47 L705.49,123.11 L705.95,123.76 L706.41,124.43 L706.87,125.12 L707.32,125.82 L707.78,126.54 L708.24,127.28 L708.70,128.03 L709.16,128.80 L709.62,129.59 L710.08,130.40 L710.54,131.23 L711.00,132.07 L711.46,132.94 L711.92,133.82 L712.38,134.72 L712.84,135.64 L713.30,136.59 L713.76,137.55 L714.22,138.53 L714.67,139.54 L715.13,140.57 L715.59,141.61 L716.05,142.69 L716.51,143.78 L716.97,144.90 L717.43,146.04 L717.89,147.20 L718.35,148.39 L718.81,149.60 L719.27,150.84 L719.73,152.11 L720.19,153.40 L720.65,154.72 L721.11,156.06 L721.56,157.44 L722.02,158.84 L722.48,160.27 L722.94,161.74 L723.40,163.23 L723.86,164.76 L724.32,166.31 L724.78,167.90 L725.24,169.53 L725.70,171.19 L726.16,172.88 L726.62,174.61 L727.08,176.38 L727.54,178.19 L728.00,180.03 L728.45,181.92 L728.91,183.85 L729.37,185.82 L729.83,187.84 L730.29,189.90 L730.75,192.01 L731.21,194.17 L731.67,196.38 L732.13,198.64 L732.59,200.95 L733.05,203.32 L733.51,205.75 L733.97,208.24 L734.43,210.78 L734.89,213.40 L735.35,216.07 L735.80,218.82 L736.26,221.64 L736.72,224.53 L737.18,227.50 L737.64,230.55 L738.10,233.69 L738.56,236.91 L739.02,240.23 L739.48,243.65 L739.94,247.16 L740.40,250.78 L740.86,254.52 L741.32,258.37 L741.78,262.35 L742.24,266.46 L742.69,270.70 L743.15,275.10 L743.61,279.65 L744.07,284.37 L744.53,289.26 L744.99,294.34 L745.45,299.63 L745.91,305.13 L746.37,310.86 L746.83,316.84 L747.29,323.09 L747.75,329.64 L748.21,336.50 L748.67,343.70 L749.13,351.27 L749.59,359.26 L750.04,367.69 L750.50,376.61 L750.96,386.07 L751.42,396.12 L751.88,406.81 L752.34,418.19 L752.80,430.32 L753.26,443.23 L753.72,456.91 L754.06,467.51 L754.15,470.42 L754.18,471.27 L754.24,473.35 L754.34,476.30 L754.43,479.27 L754.52,482.24 L754.61,485.22 L754.64,486.08 L754.70,488.20 L754.79,491.17 L754.89,494.14 L754.98,497.08 L755.07,500.01 L755.10,500.85 L755.16,502.90 L755.25,505.74 L755.35,508.54 L755.44,511.27 L755.53,513.93 L755.56,514.68 L755.62,516.49 L755.71,518.96 L755.81,521.31 L755.90,523.53 L755.99,525.61 L756.08,527.52 L756.17,529.26 L756.26,530.81 L756.36,532.16 L756.45,533.29 L756.54,534.20 L756.63,534.87 L756.82,535.48 L757.09,534.54 L757.18,533.75 L757.28,532.71 L757.37,531.46 L757.46,529.99 L757.55,528.33 L757.64,526.48 L757.73,524.45 L757.83,522.28 L757.85,521.62 L757.92,519.96 L758.01,517.51 L758.10,514.95 L758.19,512.30 L758.29,509.56 L758.31,508.75 L758.38,506.75 L758.47,503.88 L758.56,500.96 L758.65,498.00 L758.75,495.01 L758.77,494.14 L758.84,491.99 L758.93,488.97 L759.02,485.93 L759.11,482.89 L759.20,479.85 L759.23,478.97 L759.30,476.82 L759.39,473.80 L759.48,470.80 L759.57,467.81 L759.69,463.99 L760.15,449.56 L760.61,435.87 L761.07,422.95 L761.53,410.80 L761.99,399.38 L762.45,388.64 L762.91,378.52 L763.37,368.97 L763.82,359.94 L764.28,351.38 L764.74,343.25 L765.20,335.52 L765.66,328.16 L766.12,321.12 L766.58,314.40 L767.04,307.95 L767.50,301.77 L767.96,295.83 L768.42,290.12 L768.88,284.62 L769.34,279.32 L769.80,274.20 L770.26,269.26 L770.72,264.47 L771.17,259.85 L771.63,255.36 L772.09,251.02 L772.55,246.80 L773.01,242.71 L773.47,238.73 L773.93,234.86 L774.39,231.10 L774.85,227.44 L775.31,223.88 L775.77,220.41 L776.23,217.03 L776.69,213.73 L777.15,210.51 L777.61,207.37 L778.06,204.30 L778.52,201.31 L778.98,198.38 L779.44,195.52 L779.90,192.73 L780.36,190.00 L780.82,187.33 L781.28,184.71 L781.74,182.15 L782.20,179.65 L782.66,177.20 L783.12,174.80 L783.58,172.45 L784.04,170.15 L784.50,167.89 L784.95,165.68 L785.41,163.51 L785.87,161.39 L786.33,159.31 L786.79,157.27 L787.25,155.27 L787.71,153.31 L788.17,151.39 L788.63,149.50 L789.09,147.65 L789.55,145.84 L790.01,144.06 L790.47,142.31 L790.93,140.60 L791.39,138.92 L791.85,137.27 L792.30,135.66 L792.76,134.07 L793.22,132.52 L793.68,130.99 L794.14,129.50 L794.60,128.03 L795.06,126.59 L795.52,125.18 L795.98,123.79 L796.44,122.43 L796.90,121.10 L797.36,119.79 L797.82,118.51 L798.28,117.26 L798.74,116.03 L799.19,114.82 L799.65,113.64 L800.11,112.48 L800.57,111.35 L801.03,110.24 L801.49,109.15 L801.95,108.08 L802.41,107.04 L802.87,106.02 L803.33,105.02 L803.79,104.04 L804.25,103.09 L804.71,102.15 L805.17,101.24 L805.63,100.35 L806.09,99.47 L806.54,98.62 L807.00,97.79 L807.46,96.98 L807.92,96.19 L808.38,95.42 L808.84,94.67 L809.30,93.94 L809.76,93.22 L810.22,92.53 L810.68,91.86 L811.14,91.20 L811.60,90.56 L812.06,89.95 L812.52,89.35 L812.98,88.77 L813.43,88.21 L813.89,87.67 L814.35,87.14 L814.81,86.64 L815.27,86.15 L815.73,85.68 L816.19,85.23 L816.65,84.79 L817.11,84.38 L817.57,83.98 L818.49,83.24 L819.41,82.57 L820.32,81.97 L821.24,81.45 L822.16,80.99 L822.75,80.73 L823.40,80.49 L824.00,80.29 L824.59,80.13 L825.23,79.98 L825.84,79.88 L826.52,79.80 L827.16,79.76 L827.81,79.75 L828.59,79.80 L829.51,79.91 L830.43,80.11 L831.35,80.37 L832.27,80.71 L833.19,81.13 L834.11,81.62 L835.02,82.19 L835.94,82.84 L836.86,83.57 L837.32,83.96 L837.78,84.38 L838.24,84.81 L838.70,85.27 L839.16,85.75 L839.62,86.24 L840.08,86.76 L840.54,87.30 L841.00,87.87 L841.46,88.45 L841.91,89.06 L842.37,89.69 L842.83,90.34 L843.29,91.02 L843.75,91.71 L844.21,92.44 L844.67,93.18 L845.13,93.95 L845.59,94.75 L846.05,95.57 L846.51,96.41 L846.97,97.28 L847.43,98.18 L847.89,99.10 L848.35,100.05 L848.80,101.02 L849.26,102.03 L849.72,103.06 L850.18,104.12 L850.64,105.20 L851.10,106.32 L851.56,107.47 L852.02,108.65 L852.48,109.86 L852.94,111.10 L853.40,112.37 L853.86,113.68 L854.32,115.01 L854.78,116.39 L855.24,117.80 L855.69,119.24 L856.15,120.72 L856.61,122.24 L857.07,123.79 L857.53,125.39 L857.99,127.02 L858.45,128.70 L858.91,130.42 L859.37,132.18 L859.83,133.98 L860.29,135.84 L860.75,137.73 L861.21,139.68 L861.67,141.67 L862.13,143.72 L862.59,145.82 L863.04,147.97 L863.50,150.18 L863.96,152.45 L864.42,154.77 L864.88,157.16 L865.34,159.61 L865.80,162.13 L866.26,164.71 L866.72,167.37 L867.18,170.10 L867.64,172.91 L868.10,175.79 L868.56,178.76 L869.02,181.82 L869.48,184.97 L869.93,188.21 L870.39,191.55 L870.85,195.00 L871.31,198.56 L871.77,202.23 L872.23,206.02 L872.69,209.94 L873.15,214.00 L873.61,218.19 L874.07,222.54 L874.53,227.06 L874.99,231.74 L875.45,236.60 L875.91,241.67 L876.37,246.94 L876.82,252.44 L877.28,258.18 L877.74,264.19 L878.20,270.48 L878.66,277.09 L879.12,284.05 L879.58,291.38 L880.04,299.12 L880.50,307.34 L880.96,316.07 L881.42,325.39 L881.88,335.37 L882.34,346.10 L882.80,357.72 L883.26,370.36 L883.72,384.20 L884.17,399.48 L884.63,416.52 L885.09,435.73 L885.36,448.08 L885.45,452.58 L885.54,457.20 L885.64,461.97 L885.73,466.88 L885.82,471.94 L885.91,477.16 L886.00,482.56 L886.09,488.13 L886.19,493.88 L886.28,499.84 L886.37,505.99 L886.46,512.36 L886.47,513.01 L886.55,518.95 L886.65,525.77 L886.74,532.81 L886.83,540.09 L886.92,547.60 L886.93,548.36 L887.01,555.32 L887.11,563.23 L887.20,571.31 L887.29,579.48 L887.38,587.66 L887.39,588.48 L887.47,595.75 L887.56,603.58 L887.66,610.94 L887.75,617.59 L887.84,623.23 L887.93,627.57 L888.02,630.33 L888.12,631.33 L888.21,630.43 L888.30,627.75 L888.39,623.48 L888.48,617.88 L888.58,611.25 L888.67,603.89 L888.76,596.05 L888.77,595.25 L888.85,587.94 L888.94,579.71 L889.03,571.49 L889.13,563.37 L889.22,555.40 L889.23,554.61 L889.31,547.62 L889.40,540.06 L889.49,532.72 L889.59,525.61 L889.68,518.74 L889.69,518.06 L889.77,512.09 L889.86,505.66 L889.95,499.45 L890.05,493.44 L890.14,487.63 L890.23,482.00 L890.32,476.55 L890.41,471.28 L890.50,466.16 L890.60,461.20 L890.69,456.38 L890.78,451.70 L890.87,447.16 L891.06,438.01 L891.52,418.16 L891.98,400.56 L892.44,384.79 L892.90,370.50 L893.36,357.46 L893.82,345.47 L894.28,334.38 L894.74,324.06 L895.20,314.43 L895.66,305.39 L896.12,296.89 L896.58,288.85 L897.04,281.25 L897.50,274.02 L897.96,267.15 L898.41,260.60 L898.87,254.34 L899.33,248.34 L899.79,242.60 L900.25,237.09 L900.71,231.78 L901.17,226.68 L901.63,221.77 L902.09,217.03 L902.55,212.45 L903.01,208.03 L903.47,203.75 L903.93,199.61 L904.39,195.59 L904.85,191.71 L905.30,187.93 L905.76,184.27 L906.22,180.72 L906.68,177.27 L907.14,173.91 L907.60,170.64 L908.06,167.47 L908.52,164.38 L908.98,161.37 L909.44,158.44 L909.90,155.58 L910.36,152.80 L910.82,150.08 L911.28,147.44 L911.74,144.86 L912.19,142.34 L912.65,139.88 L913.11,137.49 L913.57,135.15 L914.03,132.86 L914.49,130.63 L914.95,128.45 L915.41,126.33 L915.87,124.25 L916.33,122.22 L916.79,120.24 L917.25,118.31 L917.71,116.42 L918.17,114.57 L918.63,112.76 L919.09,111.00 L919.54,109.28 L920.00,107.60 L920.46,105.96 L920.92,104.35 L921.38,102.79 L921.84,101.26 L922.30,99.76 L922.76,98.31 L923.22,96.88 L923.68,95.49 L924.14,94.14 L924.60,92.82 L925.06,91.53 L925.52,90.27 L925.98,89.04 L926.43,87.85 L926.89,86.69 L927.35,85.55 L927.81,84.45 L928.27,83.37 L928.73,82.33 L929.19,81.31 L929.65,80.32 L930.11,79.36 L930.57,78.43 L931.03,77.52 L931.49,76.65 L931.95,75.79 L932.41,74.97 L932.87,74.17 L933.33,73.40 L933.78,72.65 L934.24,71.93 L934.70,71.24 L935.16,70.57 L935.62,69.92 L936.08,69.30 L936.54,68.71 L937.00,68.14 L937.46,67.59 L937.92,67.07 L938.38,66.57 L938.84,66.10 L939.30,65.65 L939.76,65.22 L940.22,64.82 L941.13,64.09 L942.05,63.45 L942.97,62.91 L943.89,62.46 L944.46,62.23 L945.10,62.01 L945.73,61.84 L946.39,61.70 L947.03,61.62 L947.67,61.59 L948.32,61.59 L948.94,61.65 L949.86,61.80 L950.78,62.06 L951.70,62.40 L952.62,62.85 L953.54,63.39 L954.46,64.03 L955.37,64.77 L955.83,65.17 L956.29,65.60 L956.75,66.06 L957.21,66.55 L957.67,67.06 L958.13,67.59 L958.59,68.15 L959.05,68.74 L959.51,69.36 L959.97,70.00 L960.43,70.67 L960.89,71.37 L961.35,72.10 L961.80,72.85 L962.26,73.64 L962.72,74.45 L963.18,75.29 L963.64,76.17 L964.10,77.07 L964.56,78.00 L965.02,78.97 L965.48,79.96 L965.94,80.99 L966.40,82.05 L966.86,83.15 L967.32,84.28 L967.78,85.44 L968.24,86.64 L968.69,87.87 L969.15,89.14 L969.61,90.44 L970.07,91.79 L970.53,93.17 L970.99,94.59 L971.45,96.05 L971.91,97.55 L972.37,99.10 L972.83,100.68 L973.29,102.31 L973.75,103.99 L974.21,105.71 L974.67,107.47 L975.13,109.29 L975.59,111.15 L976.04,113.07 L976.50,115.04 L976.96,117.06 L977.42,119.14 L977.88,121.27 L978.34,123.46 L978.80,125.71 L979.26,128.03 L979.72,130.41 L980.18,132.85 L980.64,135.37 L981.10,137.96 L981.56,140.62 L982.02,143.36 L982.48,146.18 L982.93,149.08 L983.39,152.07 L983.85,155.15 L984.31,158.32 L984.77,161.60 L985.23,164.98 L985.69,168.46 L986.15,172.06 L986.61,175.78 L987.07,179.63 L987.53,183.61 L987.99,187.73 L988.45,192.00 L988.91,196.42 L989.37,201.02 L989.83,205.80 L990.28,210.76 L990.74,215.94 L991.20,221.33 L991.66,226.96 L992.12,232.85 L992.58,239.02 L993.04,245.49 L993.50,252.30 L993.96,259.46 L994.42,267.03 L994.88,275.05 L995.34,283.57 L995.80,292.64 L996.26,302.35 L996.72,312.79 L997.17,324.06 L997.63,336.30 L998.09,349.69 L998.55,364.45 L999.01,380.89 L999.47,399.41 L999.93,420.60 L999.99,423.49 L1000.08,428.21 L1000.17,433.07 L1000.26,438.10 L1000.36,443.30 L1000.39,445.27 L1000.45,448.68 L1000.54,454.26 L1000.63,460.05 L1000.72,466.06 L1000.82,472.31 L1000.85,474.69 L1000.91,478.82 L1001.00,485.61 L1001.09,492.69 L1001.18,500.10 L1001.27,507.85 L1001.31,510.81 L1001.37,515.97 L1001.46,524.49 L1001.55,533.44 L1001.64,542.84 L1001.73,552.71 L1001.77,556.49 L1001.83,563.07 L1001.92,573.92 L1002.01,585.22 L1002.10,596.90 L1002.19,608.81 L1002.23,613.22 L1002.29,620.67 L1002.38,632.07 L1002.47,642.37 L1002.56,650.74 L1002.65,656.27 L1002.69,657.44 L1002.74,658.24 L1002.84,656.47 L1002.93,651.09 L1003.02,642.83 L1003.11,632.59 L1003.15,628.48 L1003.20,621.22 L1003.30,609.34 L1003.39,597.40 L1003.48,585.68 L1003.57,574.33 L1003.61,570.24 L1003.66,563.43 L1003.76,553.01 L1003.85,543.09 L1003.94,533.64 L1004.03,524.64 L1004.06,521.42 L1004.12,516.07 L1004.21,507.90 L1004.31,500.11 L1004.40,492.66 L1004.49,485.53 L1004.52,482.97 L1004.58,478.70 L1004.67,472.15 L1004.77,465.86 L1004.86,459.81 L1004.95,453.98 L1004.98,451.88 L1005.04,448.37 L1005.13,442.95 L1005.23,437.72 L1005.32,432.65 L1005.41,427.75 L1005.44,425.98 L1005.50,423.01 L1005.90,403.85 L1006.36,384.57 L1006.82,367.50 L1007.28,352.21 L1007.74,338.36 L1008.20,325.71 L1008.66,314.07 L1009.12,303.31 L1009.58,293.30 L1010.04,283.94 L1010.50,275.16 L1010.96,266.89 L1011.41,259.09 L1011.87,251.70 L1012.33,244.68 L1012.79,238.00 L1013.25,231.64 L1013.71,225.56 L1014.17,219.74 L1014.63,214.17 L1015.09,208.82 L1015.55,203.68 L1016.01,198.73 L1016.47,193.97 L1016.93,189.39 L1017.39,184.96 L1017.85,180.68 L1018.30,176.55 L1018.76,172.55 L1019.22,168.69 L1019.68,164.94 L1020.14,161.31 L1020.60,157.79 L1021.06,154.38 L1021.52,151.06 L1021.98,147.85 L1022.44,144.72 L1022.90,141.69 L1023.36,138.74 L1023.82,135.87 L1024.28,133.08 L1024.74,130.36 L1025.19,127.72 L1025.65,125.15 L1026.11,122.64 L1026.57,120.21 L1027.03,117.83 L1027.49,115.52 L1027.95,113.27 L1028.41,111.08 L1028.87,108.94 L1029.33,106.86 L1029.79,104.83 L1030.25,102.85 L1030.71,100.93 L1031.17,99.05 L1031.63,97.22 L1032.09,95.44 L1032.54,93.70 L1033.00,92.01 L1033.46,90.37 L1033.92,88.76 L1034.38,87.20 L1034.84,85.68 L1035.30,84.20 L1035.76,82.76 L1036.22,81.36 L1036.68,80.00 L1037.14,78.67 L1037.60,77.38 L1038.06,76.13 L1038.52,74.92 L1038.98,73.73 L1039.43,72.59 L1039.89,71.48 L1040.35,70.40 L1040.81,69.35 L1041.27,68.34 L1041.73,67.36 L1042.19,66.41 L1042.65,65.49 L1043.11,64.61 L1043.57,63.75 L1044.03,62.93 L1044.49,62.14 L1044.95,61.37 L1045.41,60.64 L1045.87,59.93 L1046.33,59.26 L1046.78,58.61 L1047.24,57.99 L1047.70,57.40 L1048.16,56.84 L1048.62,56.31 L1049.08,55.80 L1049.54,55.32 L1050.00,54.87 L1050.46,54.45 L1050.92,54.05 L1051.84,53.35 L1052.76,52.74 L1053.67,52.25 L1054.24,52.00 L1054.89,51.76 L1055.51,51.58 L1056.17,51.44 L1056.81,51.36 L1057.46,51.33 L1058.10,51.35 L1058.73,51.43 L1059.39,51.55 L1060.11,51.76 L1061.02,52.11 L1061.94,52.58 L1062.86,53.15 L1063.78,53.83 L1064.70,54.63 L1065.16,55.07 L1065.62,55.53 L1066.08,56.03 L1066.54,56.55 L1067.00,57.11 L1067.46,57.69 L1067.91,58.30 L1068.37,58.94 L1068.83,59.62 L1069.29,60.32 L1069.75,61.05 L1070.21,61.81 L1070.67,62.61 L1071.13,63.43 L1071.59,64.29 L1072.05,65.18 L1072.51,66.11 L1072.97,67.06 L1073.43,68.06 L1073.89,69.08 L1074.35,70.14 L1074.80,71.24 L1075.26,72.37 L1075.72,73.53 L1076.18,74.74 L1076.64,75.98 L1077.10,77.26 L1077.56,78.58 L1078.02,79.94 L1078.48,81.34 L1078.94,82.78 L1079.40,84.26 L1079.86,85.79 L1080.32,87.36 L1080.78,88.97 L1081.24,90.63 L1081.70,92.34 L1082.15,94.10 L1082.61,95.90 L1083.07,97.76 L1083.53,99.67 L1083.99,101.63 L1084.45,103.65 L1084.91,105.72 L1085.37,107.85 L1085.83,110.05 L1086.29,112.30 L1086.75,114.62 L1087.21,117.00 L1087.67,119.45 L1088.13,121.97 L1088.59,124.56 L1089.04,127.23 L1089.50,129.98 L1089.96,132.81 L1090.42,135.73 L1090.88,138.73 L1091.34,141.82 L1091.80,145.01 L1092.26,148.30 L1092.72,151.70 L1093.18,155.21 L1093.64,158.83 L1094.10,162.57 L1094.56,166.44 L1095.02,170.44 L1095.48,174.59 L1095.93,178.89 L1096.39,183.35 L1096.85,187.98 L1097.31,192.79 L1097.77,197.80 L1098.23,203.01 L1098.69,208.44 L1099.15,214.12 L1099.61,220.06 L1100.07,226.28 L1100.53,232.81 L1100.99,239.67 L1101.45,246.91 L1101.91,254.55 L1102.37,262.65 L1102.83,271.25 L1103.28,280.43 L1103.74,290.26 L1104.20,300.83 L1104.66,312.26 L1105.12,324.70 L1105.58,338.33 L1106.04,353.41 L1106.50,370.26 L1106.96,389.35 L1107.42,411.35 L1107.46,413.70 L1107.56,418.62 L1107.65,423.70 L1107.74,428.98 L1107.83,434.45 L1107.88,437.32 L1107.92,440.13 L1108.01,446.05 L1108.11,452.21 L1108.20,458.65 L1108.29,465.39 L1108.34,468.95 L1108.38,472.46 L1108.47,479.88 L1108.57,487.70 L1108.66,495.97 L1108.75,504.73 L1108.80,509.41 L1108.84,514.05 L1108.93,524.00 L1109.03,534.67 L1109.12,546.18 L1109.21,558.67 L1109.26,565.46 L1109.30,572.30 L1109.39,587.32 L1109.48,604.01 L1109.58,622.80 L1109.67,644.25 L1109.72,656.45 L1109.76,669.16 L1109.85,698.72 L1109.94,734.65 L1110.04,778.92 L1110.13,829.62 L1110.17,851.01 L1110.22,859.29 L1110.31,829.35 L1110.40,778.64 L1110.50,734.42 L1110.59,698.52 L1110.63,682.78 L1110.68,668.97 L1110.77,644.07 L1110.86,622.64 L1110.95,603.86 L1111.05,587.16 L1111.09,579.32 L1111.14,572.15 L1111.23,558.51 L1111.32,546.02 L1111.41,534.51 L1111.51,523.83 L1111.55,518.67 L1111.60,513.88 L1111.69,504.56 L1111.78,495.79 L1111.87,487.52 L1111.97,479.69 L1112.01,475.85 L1112.06,472.26 L1112.15,465.19 L1112.24,458.45 L1112.33,452.00 L1112.42,445.83 L1112.47,442.77 L1112.52,439.90 L1112.61,434.21 L1112.70,428.73 L1112.79,423.46 L1112.88,418.36 L1112.93,415.83 L1112.98,413.44 L1113.39,393.11 L1113.85,373.48 L1114.31,356.19 L1114.77,340.76 L1115.23,326.83 L1115.69,314.14 L1116.15,302.48 L1116.61,291.71 L1117.07,281.71 L1117.52,272.37 L1117.98,263.62 L1118.44,255.39 L1118.90,247.62 L1119.36,240.27 L1119.82,233.30 L1120.28,226.67 L1120.74,220.35 L1121.20,214.32 L1121.66,208.56 L1122.12,203.04 L1122.58,197.75 L1123.04,192.66 L1123.50,187.78 L1123.96,183.08 L1124.41,178.55 L1124.87,174.18 L1125.33,169.97 L1125.79,165.90 L1126.25,161.97 L1126.71,158.16 L1127.17,154.48 L1127.63,150.92 L1128.09,147.46 L1128.55,144.12 L1129.01,140.87 L1129.47,137.72 L1129.93,134.67 L1130.39,131.70 L1130.85,128.82 L1131.30,126.02 L1131.76,123.30 L1132.22,120.66 L1132.68,118.09 L1133.14,115.59 L1133.60,113.16 L1134.06,110.79 L1134.52,108.49 L1134.98,106.26 L1135.44,104.08 L1135.90,101.96 L1136.36,99.90 L1136.82,97.90 L1137.28,95.95 L1137.74,94.05 L1138.20,92.20 L1138.65,90.40 L1139.11,88.65 L1139.57,86.95 L1140.03,85.30 L1140.49,83.69 L1140.95,82.12 L1141.41,80.60 L1141.87,79.13 L1142.33,77.69 L1142.79,76.29 L1143.25,74.94 L1143.71,73.62 L1144.17,72.35 L1144.63,71.11 L1145.09,69.91 L1145.54,68.74 L1146.00,67.61 L1146.46,66.52 L1146.92,65.46 L1147.38,64.44 L1147.84,63.45 L1148.30,62.50 L1148.76,61.58 L1149.22,60.69 L1149.68,59.84 L1150.14,59.01 L1150.60,58.22 L1151.06,57.46 L1151.52,56.73 L1151.98,56.04 L1152.43,55.37 L1152.89,54.73 L1153.35,54.13 L1153.81,53.55 L1154.27,53.00 L1154.73,52.48 L1155.19,51.99 L1155.65,51.53 L1156.11,51.10 L1156.57,50.70 L1157.49,49.98 L1158.41,49.37 L1159.33,48.88 L1160.24,48.49 L1161.16,48.22 L1162.08,48.05 L1163.00,48.00 L1163.92,48.05 L1164.84,48.22 L1165.76,48.49 L1166.67,48.88 L1167.59,49.37 L1168.51,49.98 L1169.43,50.70 L1169.89,51.10 L1170.35,51.53 L1170.81,51.99 L1171.27,52.48 L1171.73,53.00 L1172.19,53.55 L1172.65,54.13 L1173.11,54.73 L1173.57,55.37 L1174.02,56.04 L1174.48,56.73 L1174.94,57.46 L1175.40,58.22 L1175.86,59.01 L1176.32,59.84 L1176.78,60.69 L1177.24,61.58 L1177.70,62.50 L1178.16,63.45 L1178.62,64.44 L1179.08,65.46 L1179.54,66.52 L1180.00,67.61 L1180.46,68.74 L1180.91,69.91 L1181.37,71.11 L1181.83,72.35 L1182.29,73.62 L1182.75,74.94 L1183.21,76.29 L1183.67,77.69 L1184.13,79.13 L1184.59,80.60 L1185.05,82.12 L1185.51,83.69 L1185.97,85.30 L1186.43,86.95 L1186.89,88.65 L1187.35,90.40 L1187.80,92.20 L1188.26,94.05 L1188.72,95.95 L1189.18,97.90 L1189.64,99.90 L1190.10,101.96 L1190.56,104.08 L1191.02,106.26 L1191.48,108.49 L1191.94,110.79 L1192.40,113.16 L1192.86,115.59 L1193.32,118.09 L1193.78,120.66 L1194.24,123.30 L1194.70,126.02 L1195.15,128.82 L1195.61,131.70 L1196.07,134.67 L1196.53,137.72 L1196.99,140.87 L1197.45,144.12 L1197.91,147.46 L1198.37,150.92 L1198.83,154.48 L1199.29,158.16 L1199.75,161.97 L1200.21,165.90 L1200.67,169.97 L1201.13,174.18 L1201.59,178.55 L1202.04,183.08 L1202.50,187.78 L1202.96,192.66 L1203.42,197.75 L1203.88,203.04 L1204.34,208.56 L1204.80,214.32 L1205.26,220.35 L1205.72,226.67 L1206.18,233.30 L1206.64,240.27 L1207.10,247.62 L1207.56,255.39 L1208.02,263.62 L1208.48,272.37 L1208.93,281.71 L1209.39,291.71 L1209.85,302.48 L1210.31,314.14 L1210.77,326.83 L1211.23,340.76 L1211.69,356.19 L1212.15,373.48 L1212.61,393.11 L1213.02,413.44 L1213.07,415.83 L1213.12,418.36 L1213.21,423.46 L1213.30,428.73 L1213.39,434.21 L1213.48,439.90 L1213.53,442.77 L1213.58,445.83 L1213.67,452.00 L1213.76,458.45 L1213.85,465.19 L1213.94,472.26 L1213.99,475.85 L1214.03,479.69 L1214.13,487.52 L1214.22,495.79 L1214.31,504.56 L1214.40,513.88 L1214.45,518.67 L1214.49,523.83 L1214.59,534.51 L1214.68,546.02 L1214.77,558.51 L1214.86,572.15 L1214.91,579.32 L1214.95,587.16 L1215.05,603.86 L1215.14,622.64 L1215.23,644.07 L1215.32,668.97 L1215.37,682.78 L1215.41,698.52 L1215.50,734.42 L1215.60,778.64 L1215.69,829.35 L1215.78,859.29 L1215.83,851.01 L1215.87,829.62 L1215.96,778.92 L1216.06,734.65 L1216.15,698.72 L1216.24,669.16 L1216.28,656.45 L1216.33,644.25 L1216.42,622.80 L1216.52,604.01 L1216.61,587.32 L1216.70,572.30 L1216.74,565.46 L1216.79,558.67 L1216.88,546.18 L1216.97,534.67 L1217.07,524.00 L1217.16,514.05 L1217.20,509.41 L1217.25,504.73 L1217.34,495.97 L1217.43,487.70 L1217.53,479.88 L1217.62,472.46 L1217.66,468.95 L1217.71,465.39 L1217.80,458.65 L1217.89,452.21 L1217.99,446.05 L1218.08,440.13 L1218.12,437.32 L1218.17,434.45 L1218.26,428.98 L1218.35,423.70 L1218.44,418.62 L1218.54,413.70 L1218.58,411.35 L1219.04,389.35 L1219.50,370.26 L1219.96,353.41 L1220.42,338.33 L1220.88,324.70 L1221.34,312.26 L1221.80,300.83 L1222.26,290.26 L1222.72,280.43 L1223.17,271.25 L1223.63,262.65 L1224.09,254.55 L1224.55,246.91 L1225.01,239.67 L1225.47,232.81 L1225.93,226.28 L1226.39,220.06 L1226.85,214.12 L1227.31,208.44 L1227.77,203.01 L1228.23,197.80 L1228.69,192.79 L1229.15,187.98 L1229.61,183.35 L1230.07,178.89 L1230.52,174.59 L1230.98,170.44 L1231.44,166.44 L1231.90,162.57 L1232.36,158.83 L1232.82,155.21 L1233.28,151.70 L1233.74,148.30 L1234.20,145.01 L1234.66,141.82 L1235.12,138.73 L1235.58,135.73 L1236.04,132.81 L1236.50,129.98 L1236.96,127.23 L1237.41,124.56 L1237.87,121.97 L1238.33,119.45 L1238.79,117.00 L1239.25,114.62 L1239.71,112.30 L1240.17,110.05 L1240.63,107.85 L1241.09,105.72 L1241.55,103.65 L1242.01,101.63 L1242.47,99.67 L1242.93,97.76 L1243.39,95.90 L1243.85,94.10 L1244.30,92.34 L1244.76,90.63 L1245.22,88.97 L1245.68,87.36 L1246.14,85.79 L1246.60,84.26 L1247.06,82.78 L1247.52,81.34 L1247.98,79.94 L1248.44,78.58 L1248.90,77.26 L1249.36,75.98 L1249.82,74.74 L1250.28,73.53 L1250.74,72.37 L1251.20,71.24 L1251.65,70.14 L1252.11,69.08 L1252.57,68.06 L1253.03,67.06 L1253.49,66.11 L1253.95,65.18 L1254.41,64.29 L1254.87,63.43 L1255.33,62.61 L1255.79,61.81 L1256.25,61.05 L1256.71,60.32 L1257.17,59.62 L1257.63,58.94 L1258.09,58.30 L1258.54,57.69 L1259.00,57.11 L1259.46,56.55 L1259.92,56.03 L1260.38,55.53 L1260.84,55.07 L1261.30,54.63 L1261.76,54.22 L1262.68,53.48 L1263.60,52.85 L1264.52,52.33 L1265.44,51.92 L1266.25,51.65 L1266.89,51.49 L1267.53,51.39 L1268.17,51.34 L1268.82,51.34 L1269.46,51.39 L1270.10,51.49 L1270.75,51.65 L1271.39,51.85 L1272.33,52.25 L1273.24,52.74 L1274.16,53.35 L1275.08,54.05 L1275.54,54.45 L1276.00,54.87 L1276.46,55.32 L1276.92,55.80 L1277.38,56.31 L1277.84,56.84 L1278.30,57.40 L1278.76,57.99 L1279.22,58.61 L1279.67,59.26 L1280.13,59.93 L1280.59,60.64 L1281.05,61.37 L1281.51,62.14 L1281.97,62.93 L1282.43,63.75 L1282.89,64.61 L1283.35,65.49 L1283.81,66.41 L1284.27,67.36 L1284.73,68.34 L1285.19,69.35 L1285.65,70.40 L1286.11,71.48 L1286.57,72.59 L1287.02,73.73 L1287.48,74.92 L1287.94,76.13 L1288.40,77.38 L1288.86,78.67 L1289.32,80.00 L1289.78,81.36 L1290.24,82.76 L1290.70,84.20 L1291.16,85.68 L1291.62,87.20 L1292.08,88.76 L1292.54,90.37 L1293.00,92.01 L1293.46,93.70 L1293.91,95.44 L1294.37,97.22 L1294.83,99.05 L1295.29,100.93 L1295.75,102.85 L1296.21,104.83 L1296.67,106.86 L1297.13,108.94 L1297.59,111.08 L1298.05,113.27 L1298.51,115.52 L1298.97,117.83 L1299.43,120.21 L1299.89,122.64 L1300.35,125.15 L1300.81,127.72 L1301.26,130.36 L1301.72,133.08 L1302.18,135.87 L1302.64,138.74 L1303.10,141.69 L1303.56,144.72 L1304.02,147.85 L1304.48,151.06 L1304.94,154.38 L1305.40,157.79 L1305.86,161.31 L1306.32,164.94 L1306.78,168.69 L1307.24,172.55 L1307.70,176.55 L1308.15,180.68 L1308.61,184.96 L1309.07,189.39 L1309.53,193.97 L1309.99,198.73 L1310.45,203.68 L1310.91,208.82 L1311.37,214.17 L1311.83,219.74 L1312.29,225.56 L1312.75,231.64 L1313.21,238.00 L1313.67,244.68 L1314.13,251.70 L1314.59,259.09 L1315.04,266.89 L1315.50,275.16 L1315.96,283.94 L1316.42,293.30 L1316.88,303.31 L1317.34,314.07 L1317.80,325.71 L1318.26,338.36 L1318.72,352.21 L1319.18,367.50 L1319.64,384.57 L1320.10,403.85 L1320.50,423.01 L1320.56,425.98 L1320.59,427.75 L1320.68,432.65 L1320.77,437.72 L1320.87,442.95 L1320.96,448.37 L1321.02,451.88 L1321.05,453.98 L1321.14,459.81 L1321.23,465.86 L1321.33,472.15 L1321.42,478.70 L1321.48,482.97 L1321.51,485.53 L1321.60,492.66 L1321.69,500.11 L1321.79,507.90 L1321.88,516.07 L1321.94,521.42 L1321.97,524.64 L1322.06,533.64 L1322.15,543.09 L1322.24,553.01 L1322.34,563.43 L1322.39,570.24 L1322.43,574.33 L1322.52,585.68 L1322.61,597.40 L1322.70,609.34 L1322.80,621.22 L1322.85,628.48 L1322.89,632.59 L1322.98,642.83 L1323.07,651.09 L1323.16,656.47 L1323.26,658.24 L1323.31,657.44 L1323.35,656.27 L1323.44,650.74 L1323.53,642.37 L1323.62,632.07 L1323.71,620.67 L1323.77,613.22 L1323.81,608.81 L1323.90,596.90 L1323.99,585.22 L1324.08,573.92 L1324.17,563.07 L1324.23,556.49 L1324.27,552.71 L1324.36,542.84 L1324.45,533.44 L1324.54,524.49 L1324.63,515.97 L1324.69,510.81 L1324.73,507.85 L1324.82,500.10 L1324.91,492.69 L1325.00,485.61 L1325.09,478.82 L1325.15,474.69 L1325.18,472.31 L1325.28,466.06 L1325.37,460.05 L1325.46,454.26 L1325.55,448.68 L1325.61,445.27 L1325.64,443.30 L1325.74,438.10 L1325.83,433.07 L1325.92,428.21 L1326.01,423.49 L1326.07,420.60 L1326.53,399.41 L1326.99,380.89 L1327.45,364.45 L1327.91,349.69 L1328.37,336.30 L1328.83,324.06 L1329.28,312.79 L1329.74,302.35 L1330.20,292.64 L1330.66,283.57 L1331.12,275.05 L1331.58,267.03 L1332.04,259.46 L1332.50,252.30 L1332.96,245.49 L1333.42,239.02 L1333.88,232.85 L1334.34,226.96 L1334.80,221.33 L1335.26,215.94 L1335.72,210.76 L1336.17,205.80 L1336.63,201.02 L1337.09,196.42 L1337.55,192.00 L1338.01,187.73 L1338.47,183.61 L1338.93,179.63 L1339.39,175.78 L1339.85,172.06 L1340.31,168.46 L1340.77,164.98 L1341.23,161.60 L1341.69,158.32 L1342.15,155.15 L1342.61,152.07 L1343.07,149.08 L1343.52,146.18 L1343.98,143.36 L1344.44,140.62 L1344.90,137.96 L1345.36,135.37 L1345.82,132.85 L1346.28,130.41 L1346.74,128.03 L1347.20,125.71 L1347.66,123.46 L1348.12,121.27 L1348.58,119.14 L1349.04,117.06 L1349.50,115.04 L1349.96,113.07 L1350.41,111.15 L1350.87,109.29 L1351.33,107.47 L1351.79,105.71 L1352.25,103.99 L1352.71,102.31 L1353.17,100.68 L1353.63,99.10 L1354.09,97.55 L1354.55,96.05 L1355.01,94.59 L1355.47,93.17 L1355.93,91.79 L1356.39,90.44 L1356.85,89.14 L1357.31,87.87 L1357.76,86.64 L1358.22,85.44 L1358.68,84.28 L1359.14,83.15 L1359.60,82.05 L1360.06,80.99 L1360.52,79.96 L1360.98,78.97 L1361.44,78.00 L1361.90,77.07 L1362.36,76.17 L1362.82,75.29 L1363.28,74.45 L1363.74,73.64 L1364.20,72.85 L1364.65,72.10 L1365.11,71.37 L1365.57,70.67 L1366.03,70.00 L1366.49,69.36 L1366.95,68.74 L1367.41,68.15 L1367.87,67.59 L1368.33,67.06 L1368.79,66.55 L1369.25,66.06 L1369.71,65.60 L1370.17,65.17 L1370.63,64.77 L1371.54,64.03 L1372.46,63.39 L1373.38,62.85 L1374.30,62.40 L1375.22,62.06 L1376.14,61.80 L1376.76,61.69 L1377.41,61.61 L1378.05,61.58 L1378.69,61.60 L1379.34,61.66 L1379.98,61.77 L1380.62,61.93 L1381.27,62.13 L1381.91,62.37 L1382.57,62.67 L1383.49,63.17 L1384.41,63.76 L1385.33,64.44 L1386.24,65.22 L1386.70,65.65 L1387.16,66.10 L1387.62,66.57 L1388.08,67.07 L1388.54,67.59 L1389.00,68.14 L1389.46,68.71 L1389.92,69.30 L1390.38,69.92 L1390.84,70.57 L1391.30,71.24 L1391.76,71.93 L1392.22,72.65 L1392.67,73.40 L1393.13,74.17 L1393.59,74.97 L1394.05,75.79 L1394.51,76.65 L1394.97,77.52 L1395.43,78.43 L1395.89,79.36 L1396.35,80.32 L1396.81,81.31 L1397.27,82.33 L1397.73,83.37 L1398.19,84.45 L1398.65,85.55 L1399.11,86.69 L1399.57,87.85 L1400.02,89.04 L1400.48,90.27 L1400.94,91.53 L1401.40,92.82 L1401.86,94.14 L1402.32,95.49 L1402.78,96.88 L1403.24,98.31 L1403.70,99.76 L1404.16,101.26 L1404.62,102.79 L1405.08,104.35 L1405.54,105.96 L1406.00,107.60 L1406.46,109.28 L1406.91,111.00 L1407.37,112.76 L1407.83,114.57 L1408.29,116.42 L1408.75,118.31 L1409.21,120.24 L1409.67,122.22 L1410.13,124.25 L1410.59,126.33 L1411.05,128.45 L1411.51,130.63 L1411.97,132.86 L1412.43,135.15 L1412.89,137.49 L1413.35,139.88 L1413.81,142.34 L1414.26,144.86 L1414.72,147.44 L1415.18,150.08 L1415.64,152.80 L1416.10,155.58 L1416.56,158.44 L1417.02,161.37 L1417.48,164.38 L1417.94,167.47 L1418.40,170.64 L1418.86,173.91 L1419.32,177.27 L1419.78,180.72 L1420.24,184.27 L1420.70,187.93 L1421.15,191.71 L1421.61,195.59 L1422.07,199.61 L1422.53,203.75 L1422.99,208.03 L1423.45,212.45 L1423.91,217.03 L1424.37,221.77 L1424.83,226.68 L1425.29,231.78 L1425.75,237.09 L1426.21,242.60 L1426.67,248.34 L1427.13,254.34 L1427.59,260.60 L1428.04,267.15 L1428.50,274.02 L1428.96,281.25 L1429.42,288.85 L1429.88,296.89 L1430.34,305.39 L1430.80,314.43 L1431.26,324.06 L1431.72,334.38 L1432.18,345.47 L1432.64,357.46 L1433.10,370.50 L1433.56,384.79 L1434.02,400.56 L1434.48,418.16 L1434.94,438.01 L1435.13,447.16 L1435.22,451.70 L1435.31,456.38 L1435.39,460.71 L1435.50,466.16 L1435.59,471.28 L1435.68,476.55 L1435.77,482.00 L1435.85,487.06 L1435.95,493.44 L1436.05,499.45 L1436.14,505.66 L1436.23,512.09 L1436.31,518.06 L1436.32,518.74 L1436.41,525.61 L1436.51,532.72 L1436.60,540.06 L1436.69,547.62 L1436.77,554.61 L1436.78,555.40 L1436.87,563.37 L1436.97,571.49 L1437.06,579.71 L1437.15,587.94 L1437.23,595.25 L1437.24,596.05 L1437.33,603.89 L1437.42,611.25 L1437.52,617.88 L1437.61,623.48 L1437.69,627.39 L1437.79,630.43 L1437.88,631.33 L1437.98,630.33 L1438.07,627.57 L1438.15,623.73 L1438.25,617.59 L1438.34,610.94 L1438.44,603.58 L1438.53,595.75 L1438.61,588.48 L1438.62,587.66 L1438.71,579.48 L1438.80,571.31 L1438.89,563.23 L1438.99,555.32 L1439.07,548.36 L1439.08,547.60 L1439.17,540.09 L1439.26,532.81 L1439.35,525.77 L1439.45,518.95 L1439.53,513.01 L1439.54,512.36 L1439.63,505.99 L1439.72,499.84 L1439.81,493.88 L1439.91,488.13 L1439.99,483.11 L1440.09,477.16 L1440.18,471.94 L1440.27,466.88 L1440.36,461.97 L1440.45,457.68 L1440.55,452.58 L1440.64,448.08 L1440.91,435.73 L1441.37,416.52 L1441.83,399.48 L1442.28,384.20 L1442.74,370.36 L1443.20,357.72 L1443.66,346.10 L1444.12,335.37 L1444.58,325.39 L1445.04,316.07 L1445.50,307.34 L1445.96,299.12 L1446.42,291.38 L1446.88,284.05 L1447.34,277.09 L1447.80,270.48 L1448.26,264.19 L1448.72,258.18 L1449.18,252.44 L1449.63,246.94 L1450.09,241.67 L1450.55,236.60 L1451.01,231.74 L1451.47,227.06 L1451.93,222.54 L1452.39,218.19 L1452.85,214.00 L1453.31,209.94 L1453.77,206.02 L1454.23,202.23 L1454.69,198.56 L1455.15,195.00 L1455.61,191.55 L1456.07,188.21 L1456.52,184.97 L1456.98,181.82 L1457.44,178.76 L1457.90,175.79 L1458.36,172.91 L1458.82,170.10 L1459.28,167.37 L1459.74,164.71 L1460.20,162.13 L1460.66,159.61 L1461.12,157.16 L1461.58,154.77 L1462.04,152.45 L1462.50,150.18 L1462.96,147.97 L1463.41,145.82 L1463.87,143.72 L1464.33,141.67 L1464.79,139.68 L1465.25,137.73 L1465.71,135.84 L1466.17,133.98 L1466.63,132.18 L1467.09,130.42 L1467.55,128.70 L1468.01,127.02 L1468.47,125.39 L1468.93,123.79 L1469.39,122.24 L1469.85,120.72 L1470.31,119.24 L1470.76,117.80 L1471.22,116.39 L1471.68,115.01 L1472.14,113.68 L1472.60,112.37 L1473.06,111.10 L1473.52,109.86 L1473.98,108.65 L1474.44,107.47 L1474.90,106.32 L1475.36,105.20 L1475.82,104.12 L1476.28,103.06 L1476.74,102.03 L1477.20,101.02 L1477.65,100.05 L1478.11,99.10 L1478.57,98.18 L1479.03,97.28 L1479.49,96.41 L1479.95,95.57 L1480.41,94.75 L1480.87,93.95 L1481.33,93.18 L1481.79,92.44 L1482.25,91.71 L1482.71,91.02 L1483.17,90.34 L1483.63,89.69 L1484.09,89.06 L1484.55,88.45 L1485.00,87.87 L1485.46,87.30 L1485.92,86.76 L1486.38,86.24 L1486.84,85.75 L1487.30,85.27 L1487.76,84.81 L1488.22,84.38 L1488.68,83.96 L1489.14,83.57 L1490.06,82.84 L1490.98,82.19 L1491.89,81.62 L1492.81,81.13 L1493.73,80.71 L1494.65,80.37 L1495.57,80.11 L1496.49,79.91 L1497.41,79.80 L1498.01,79.76 L1498.65,79.75 L1499.30,79.78 L1499.94,79.85 L1500.58,79.95 L1501.22,80.08 L1501.87,80.25 L1502.46,80.44 L1503.06,80.66 L1503.84,80.99 L1504.76,81.45 L1505.68,81.97 L1506.59,82.57 L1507.51,83.24 L1508.43,83.98 L1508.89,84.38 L1509.35,84.79 L1509.81,85.23 L1510.27,85.68 L1510.73,86.15 L1511.19,86.64 L1511.65,87.14 L1512.11,87.67 L1512.57,88.21 L1513.02,88.77 L1513.48,89.35 L1513.94,89.95 L1514.40,90.56 L1514.86,91.20 L1515.32,91.86 L1515.78,92.53 L1516.24,93.22 L1516.70,93.94 L1517.16,94.67 L1517.62,95.42 L1518.08,96.19 L1518.54,96.98 L1519.00,97.79 L1519.46,98.62 L1519.91,99.47 L1520.37,100.35 L1520.83,101.24 L1521.29,102.15 L1521.75,103.09 L1522.21,104.04 L1522.67,105.02 L1523.13,106.02 L1523.59,107.04 L1524.05,108.08 L1524.51,109.15 L1524.97,110.24 L1525.43,111.35 L1525.89,112.48 L1526.35,113.64 L1526.81,114.82 L1527.26,116.03 L1527.72,117.26 L1528.18,118.51 L1528.64,119.79 L1529.10,121.10 L1529.56,122.43 L1530.02,123.79 L1530.48,125.18 L1530.94,126.59 L1531.40,128.03 L1531.86,129.50 L1532.32,130.99 L1532.78,132.52 L1533.24,134.07 L1533.70,135.66 L1534.15,137.27 L1534.61,138.92 L1535.07,140.60 L1535.53,142.31 L1535.99,144.06 L1536.45,145.84 L1536.91,147.65 L1537.37,149.50 L1537.83,151.39 L1538.29,153.31 L1538.75,155.27 L1539.21,157.27 L1539.67,159.31 L1540.13,161.39 L1540.59,163.51 L1541.05,165.68 L1541.50,167.89 L1541.96,170.15 L1542.42,172.45 L1542.88,174.80 L1543.34,177.20 L1543.80,179.65 L1544.26,182.15 L1544.72,184.71 L1545.18,187.33 L1545.64,190.00 L1546.10,192.73 L1546.56,195.52 L1547.02,198.38 L1547.48,201.31 L1547.94,204.30 L1548.39,207.37 L1548.85,210.51 L1549.31,213.73 L1549.77,217.03 L1550.23,220.41 L1550.69,223.88 L1551.15,227.44 L1551.61,231.10 L1552.07,234.86 L1552.53,238.73 L1552.99,242.71 L1553.45,246.80 L1553.91,251.02 L1554.37,255.36 L1554.83,259.85 L1555.28,264.47 L1555.74,269.26 L1556.20,274.20 L1556.66,279.32 L1557.12,284.62 L1557.58,290.12 L1558.04,295.83 L1558.50,301.77 L1558.96,307.95 L1559.42,314.40 L1559.88,321.12 L1560.34,328.16 L1560.80,335.52 L1561.26,343.25 L1561.72,351.38 L1562.18,359.94 L1562.63,368.97 L1563.09,378.52 L1563.55,388.64 L1564.01,399.38 L1564.47,410.80 L1564.93,422.95 L1565.39,435.87 L1565.85,449.56 L1566.31,463.99 L1566.43,467.81 L1566.52,470.80 L1566.61,473.80 L1566.70,476.82 L1566.77,478.97 L1566.80,479.85 L1566.89,482.89 L1566.98,485.93 L1567.07,488.97 L1567.16,491.99 L1567.23,494.14 L1567.25,495.01 L1567.35,498.00 L1567.44,500.96 L1567.53,503.88 L1567.62,506.75 L1567.69,508.75 L1567.71,509.56 L1567.81,512.30 L1567.90,514.95 L1567.99,517.51 L1568.08,519.96 L1568.15,521.62 L1568.17,522.28 L1568.27,524.45 L1568.36,526.48 L1568.45,528.33 L1568.54,529.99 L1568.61,531.05 L1568.72,532.71 L1568.82,533.75 L1568.91,534.54 L1569.07,535.35 L1569.46,534.20 L1569.52,533.58 L1569.64,532.16 L1569.74,530.81 L1569.83,529.26 L1569.92,527.52 L1569.98,526.18 L1570.10,523.53 L1570.19,521.31 L1570.29,518.96 L1570.38,516.49 L1570.44,514.68 L1570.47,513.93 L1570.56,511.27 L1570.65,508.54 L1570.75,505.74 L1570.84,502.90 L1570.90,500.85 L1570.93,500.01 L1571.02,497.08 L1571.11,494.14 L1571.21,491.17 L1571.30,488.20 L1571.36,486.08 L1571.39,485.22 L1571.48,482.24 L1571.57,479.27 L1571.66,476.30 L1571.76,473.35 L1571.82,471.27 L1571.85,470.42 L1571.94,467.51 L1572.28,456.91 L1572.74,443.23 L1573.20,430.32 L1573.66,418.19 L1574.12,406.81 L1574.58,396.12 L1575.04,386.07 L1575.50,376.61 L1575.96,367.69 L1576.41,359.26 L1576.87,351.27 L1577.33,343.70 L1577.79,336.50 L1578.25,329.64 L1578.71,323.09 L1579.17,316.84 L1579.63,310.86 L1580.09,305.13 L1580.55,299.63 L1581.01,294.34 L1581.47,289.26 L1581.93,284.37 L1582.39,279.65 L1582.85,275.10 L1583.31,270.70 L1583.76,266.46 L1584.22,262.35 L1584.68,258.37 L1585.14,254.52 L1585.60,250.78 L1586.06,247.16 L1586.52,243.65 L1586.98,240.23 L1587.44,236.91 L1587.90,233.69 L1588.36,230.55 L1588.82,227.50 L1589.28,224.53 L1589.74,221.64 L1590.20,218.82 L1590.65,216.07 L1591.11,213.40 L1591.57,210.78 L1592.03,208.24 L1592.49,205.75 L1592.95,203.32 L1593.41,200.95 L1593.87,198.64 L1594.33,196.38 L1594.79,194.17 L1595.25,192.01 L1595.71,189.90 L1596.17,187.84 L1596.63,185.82 L1597.09,183.85 L1597.55,181.92 L1598.00,180.03 L1598.46,178.19 L1598.92,176.38 L1599.38,174.61 L1599.84,172.88 L1600.30,171.19 L1600.76,169.53 L1601.22,167.90 L1601.68,166.31 L1602.14,164.76 L1602.60,163.23 L1603.06,161.74 L1603.52,160.27 L1603.98,158.84 L1604.44,157.44 L1604.89,156.06 L1605.35,154.72 L1605.81,153.40 L1606.27,152.11 L1606.73,150.84 L1607.19,149.60 L1607.65,148.39 L1608.11,147.20 L1608.57,146.04 L1609.03,144.90 L1609.49,143.78 L1609.95,142.69 L1610.41,141.61 L1610.87,140.57 L1611.33,139.54 L1611.78,138.53 L1612.24,137.55 L1612.70,136.59 L1613.16,135.64 L1613.62,134.72 L1614.08,133.82 L1614.54,132.94 L1615.00,132.07 L1615.46,131.23 L1615.92,130.40 L1616.38,129.59 L1616.84,128.80 L1617.30,128.03 L1617.76,127.28 L1618.22,126.54 L1618.68,125.82 L1619.13,125.12 L1619.59,124.43 L1620.05,123.76 L1620.51,123.11 L1620.97,122.47 L1621.43,121.85 L1621.89,121.24 L1622.35,120.65 L1622.81,120.08 L1623.27,119.52 L1623.73,118.97 L1624.19,118.44 L1624.65,117.93 L1625.11,117.43 L1625.57,116.94 L1626.02,116.47 L1626.48,116.01 L1626.94,115.57 L1627.40,115.13 L1627.86,114.72 L1628.32,114.31 L1628.78,113.92 L1629.70,113.18 L1630.62,112.49 L1631.54,111.85 L1632.46,111.26 L1633.37,110.72 L1634.29,110.23 L1635.21,109.79 L1636.13,109.39 L1637.05,109.05 L1637.97,108.74 L1638.89,108.48 L1639.81,108.27 L1640.72,108.10 L1641.64,107.97 L1642.56,107.89 L1643.48,107.85 L1644.40,107.85 L1645.23,107.89 L1645.87,107.94 L1646.51,108.01 L1647.15,108.11 L1647.80,108.22 L1648.44,108.35 L1649.09,108.50 L1649.73,108.68 L1650.37,108.87 L1651.29,109.18 L1652.21,109.52 L1653.13,109.91 L1654.05,110.34 L1654.96,110.80 L1655.88,111.31 L1656.80,111.85 L1657.72,112.43 L1658.64,113.05 L1659.56,113.71 L1660.48,114.41 L1661.39,115.15 L1662.31,115.92 L1662.77,116.32 L1663.23,116.74 L1663.69,117.16 L1664.15,117.59 L1664.61,118.03 L1665.07,118.48 L1665.53,118.94 L1665.99,119.41 L1666.45,119.89 L1666.91,120.38 L1667.37,120.88 L1667.83,121.39 L1668.28,121.91 L1668.74,122.43 L1669.20,122.97 L1669.66,123.52 L1670.12,124.08 L1670.58,124.65 L1671.04,125.22 L1671.50,125.81 L1671.96,126.41 L1672.42,127.02 L1672.88,127.63 L1673.34,128.26 L1673.80,128.90 L1674.26,129.55 L1674.72,130.21 L1675.18,130.87 L1675.63,131.55 L1676.09,132.24 L1676.55,132.94 L1677.01,133.65 L1677.47,134.37 L1677.93,135.10 L1678.39,135.84 L1678.85,136.60 L1679.31,137.36 L1679.77,138.13 L1680.23,138.91 L1680.69,139.71 L1681.15,140.51 L1681.61,141.33 L1682.07,142.16 L1682.52,143.00 L1682.98,143.85 L1683.44,144.71 L1683.90,145.58 L1684.36,146.46 L1684.82,147.36 L1685.28,148.27 L1685.74,149.18 L1686.20,150.11 L1686.66,151.06 L1687.12,152.01 L1687.58,152.98 L1688.04,153.95 L1688.50,154.94 L1688.96,155.95 L1689.42,156.96 L1689.87,157.99 L1690.33,159.03 L1690.79,160.08 L1691.25,161.15 L1691.71,162.23 L1692.17,163.32 L1692.63,164.42 L1693.09,165.54 L1693.55,166.67 L1694.01,167.82 L1694.47,168.98 L1694.93,170.15 L1695.39,171.34 L1695.85,172.54 L1696.31,173.75 L1696.76,174.98 L1697.22,176.23 L1697.68,177.49 L1698.14,178.76 L1698.60,180.05 L1699.06,181.36 L1699.52,182.68 L1699.98,184.02 L1700.44,185.37 L1700.90,186.74 L1701.36,188.13 L1701.82,189.53 L1702.28,190.95 L1702.74,192.39 L1703.20,193.84 L1703.65,195.31 L1704.11,196.80 L1704.57,198.31 L1705.03,199.84 L1705.49,201.38 L1705.95,202.95 L1706.41,204.53 L1706.87,206.14 L1707.33,207.76 L1707.79,209.41 L1708.25,211.07 L1708.71,212.76 L1709.17,214.46 L1709.63,216.19 L1710.09,217.94 L1710.55,219.72 L1711.00,221.51 L1711.46,223.33 L1711.92,225.18 L1712.38,227.05 L1712.84,228.94 L1713.30,230.86 L1713.76,232.80 L1714.22,234.77 L1714.68,236.77 L1715.14,238.79 L1715.60,240.84 L1716.06,242.92 L1716.52,245.03 L1716.98,247.17 L1717.44,249.33 L1717.89,251.53 L1718.35,253.76 L1718.81,256.03 L1719.27,258.32 L1719.73,260.65 L1720.19,263.01 L1720.65,265.41 L1721.11,267.85 L1721.57,270.32 L1722.03,272.82 L1722.49,275.37 L1722.95,277.96 L1723.41,280.58 L1723.87,283.25 L1724.33,285.95 L1724.79,288.71 L1725.24,291.50 L1725.70,294.34 L1726.16,297.22 L1726.62,300.16 L1727.08,303.13 L1727.54,306.16 L1728.00,309.24 L1728.46,312.37 L1728.92,315.54 L1729.38,318.77 L1729.84,322.06 L1730.30,325.39 L1730.76,328.78 L1731.22,332.23 L1731.68,335.73 L1732.13,339.28 L1732.59,342.89 L1733.05,346.56 L1733.51,350.28 L1733.97,354.05 L1734.43,357.87 L1734.89,361.74 L1735.35,365.66 L1735.81,369.62 L1736.27,373.62 L1736.73,377.65 L1737.19,381.71 L1737.65,385.79 L1738.11,389.88 L1738.57,393.97 L1739.02,398.04 L1739.48,402.09 L1739.94,406.09 L1740.40,410.03 L1740.86,413.88 L1741.32,417.62 L1741.78,421.23 L1742.24,424.66 L1742.70,427.90 L1743.16,430.90 L1743.62,433.65 L1744.08,436.09 L1744.22,436.78 L1744.40,437.62 L1744.54,438.21 L1744.77,439.15 L1744.95,439.83 L1745.14,440.44 L1745.41,441.25 L1745.69,441.91 L1746.05,442.57 L1746.51,443.01 L1747.16,443.01 L1747.71,442.51 L1748.08,441.86 L1748.35,441.21 L1748.63,440.42 L1748.81,439.82 L1748.99,439.16 L1749.18,438.45 L1749.36,437.69 L1749.55,436.88 L1749.73,436.02 L1750.05,434.41 L1750.51,431.88 L1750.97,429.11 L1751.43,426.14 L1751.89,423.00 L1752.35,419.71 L1752.81,416.30 L1753.26,412.81 L1753.72,409.25 L1754.18,405.64 L1754.64,401.99 L1755.10,398.33 L1755.56,394.67 L1756.02,391.01 L1756.48,387.38 L1756.94,383.76 L1757.40,380.18 L1757.86,376.64 L1758.32,373.13 L1758.78,369.68 L1759.24,366.27 L1759.70,362.91 L1760.15,359.60 L1760.61,356.34 L1761.07,353.14 L1761.53,349.99 L1761.99,346.90 L1762.45,343.86 L1762.91,340.87 L1763.37,337.94 L1763.83,335.06 L1764.29,332.23 L1764.75,329.45 L1765.21,326.73 L1765.67,324.05 L1766.13,321.42 L1766.59,318.84 L1767.05,316.31 L1767.50,313.82 L1767.96,311.37 L1768.42,308.97 L1768.88,306.62 L1769.34,304.30 L1769.80,302.03 L1770.26,299.79 L1770.72,297.60 L1771.18,295.44 L1771.64,293.32 L1772.10,291.23 L1772.56,289.19 L1773.02,287.17 L1773.48,285.19 L1773.94,283.25 L1774.39,281.33 L1774.85,279.45 L1775.31,277.60 L1775.77,275.78 L1776.23,273.99 L1776.69,272.23 L1777.15,270.49 L1777.61,268.79 L1778.07,267.11 L1778.53,265.45 L1778.99,263.83 L1779.45,262.22 L1779.91,260.65 L1780.37,259.09 L1780.83,257.56 L1781.29,256.06 L1781.74,254.57 L1782.20,253.11 L1782.66,251.67 L1783.12,250.26 L1783.58,248.86 L1784.04,247.48 L1784.50,246.13 L1784.96,244.79 L1785.42,243.47 L1785.88,242.17 L1786.34,240.89 L1786.80,239.63 L1787.26,238.39 L1787.72,237.16 L1788.18,235.95 L1788.63,234.76 L1789.09,233.59 L1789.55,232.43 L1790.01,231.29 L1790.47,230.16 L1790.93,229.05 L1791.39,227.95 L1791.85,226.87 L1792.31,225.80 L1792.77,224.75 L1793.23,223.71 L1793.69,222.69 L1794.15,221.67 L1794.61,220.68 L1795.07,219.69 L1795.52,218.72 L1795.98,217.76 L1796.44,216.82 L1796.90,215.89 L1797.36,214.96 L1797.82,214.06 L1798.28,213.16 L1798.74,212.27 L1799.20,211.40 L1799.66,210.54 L1800.12,209.68 L1800.58,208.84 L1801.04,208.01 L1801.50,207.19 L1801.96,206.39 L1802.42,205.59 L1802.87,204.80 L1803.33,204.02 L1803.79,203.25 L1804.25,202.49 L1804.71,201.74 L1805.17,201.00 L1805.63,200.27 L1806.09,199.55 L1806.55,198.84 L1807.01,198.14 L1807.47,197.44 L1807.93,196.76 L1808.39,196.08 L1808.85,195.41 L1809.31,194.75 L1809.76,194.10 L1810.22,193.46 L1810.68,192.82 L1811.14,192.19 L1811.60,191.57 L1812.06,190.96 L1812.52,190.36 L1812.98,189.76 L1813.44,189.17 L1813.90,188.59 L1814.36,188.01 L1814.82,187.44 L1815.28,186.88 L1815.74,186.33 L1816.20,185.78 L1816.66,185.24 L1817.11,184.71 L1817.57,184.18 L1818.03,183.66 L1818.49,183.15 L1818.95,182.64 L1819.41,182.14 L1819.87,181.64 L1820.33,181.16 L1820.79,180.67 L1821.25,180.20 L1821.71,179.73 L1822.17,179.26 L1822.63,178.80 L1823.09,178.35 L1823.55,177.90 L1824.00,177.46 L1824.46,177.02 L1824.92,176.59 L1825.38,176.17 L1825.84,175.75 L1826.30,175.33 L1826.76,174.92 L1827.22,174.52 L1827.68,174.12 L1828.14,173.73 L1828.60,173.34 L1829.52,172.57 L1830.44,171.83 L1831.35,171.10 L1832.27,170.40 L1833.19,169.71 L1834.11,169.04 L1835.03,168.39 L1835.95,167.75 L1836.87,167.13 L1837.79,166.53 L1838.70,165.95 L1839.62,165.37 L1840.54,164.82 L1841.46,164.28 L1842.38,163.75 L1843.30,163.24 L1844.22,162.75 L1845.13,162.26 L1846.05,161.79 L1846.97,161.34 L1847.89,160.89 L1848.81,160.46 L1849.73,160.04 L1850.65,159.64 L1851.57,159.25 L1852.48,158.86 L1853.40,158.49 L1854.32,158.13 L1855.24,157.79 L1856.16,157.45 L1857.08,157.12 L1858.00,156.81 L1858.92,156.50 L1859.83,156.20 L1860.75,155.92 L1861.67,155.64 L1862.59,155.37 L1863.51,155.12 L1864.43,154.87 L1865.35,154.63 L1866.26,154.40 L1867.18,154.17 L1868.10,153.96 L1869.02,153.75 L1869.94,153.55 L1870.86,153.36 L1871.78,153.18 L1872.70,153.00 L1873.61,152.83 L1874.53,152.67 L1875.45,152.52 L1876.37,152.37 L1877.29,152.23 L1878.21,152.10 L1879.13,151.97 L1880.05,151.85 L1880.96,151.73 L1881.88,151.62 L1882.80,151.52 L1883.72,151.42 L1884.64,151.32 L1885.56,151.24 L1886.48,151.16 L1887.39,151.08 L1888.31,151.01 L1889.23,150.94 L1890.15,150.88 L1891.07,150.82 L1891.99,150.77 L1892.91,150.72 L1893.83,150.67 L1894.74,150.63 L1895.66,150.60 L1896.58,150.57 L1897.50,150.54 L1898.42,150.51 L1899.34,150.49 L1900.26,150.47 L1901.18,150.46 L1902.09,150.45 L1903.01,150.44 L1903.93,150.44 L1904.85,150.44 L1905.77,150.44 L1906.69,150.44 L1907.61,150.45 L1908.53,150.46 L1909.44,150.47 L1910.36,150.49 L1911.28,150.51 L1912.20,150.53 L1913.12,150.55 L1914.04,150.57 L1914.96,150.60 L1915.87,150.63 L1916.79,150.66 L1917.71,150.69 L1918.63,150.72 L1919.55,150.76 L1920.47,150.79 L1921.39,150.83 L1922.31,150.87 L1923.22,150.91 L1924.14,150.95 L1925.06,150.99 L1925.98,151.04 L1926.90,151.08 L1927.82,151.13 L1928.74,151.18 L1929.66,151.22 L1930.57,151.27 L1931.24,151.31 L1931.88,151.34 L1932.53,151.38 L1933.17,151.41 L1933.79,151.44 L1934.46,151.48 L1935.10,151.52 L1935.74,151.55 L1936.38,151.59 L1937.00,151.62 L1937.92,151.68 L1938.84,151.73 L1939.76,151.78 L1940.68,151.83 L1941.60,151.88 L1942.52,151.94 L1943.44,151.99 L1944.35,152.04 L1945.27,152.09 L1946.19,152.14 L1947.11,152.19 L1948.03,152.24 L1948.95,152.29 L1949.87,152.34 L1950.79,152.39 L1951.70,152.44 L1952.62,152.49 L1953.54,152.54 L1954.46,152.59 L1955.38,152.63 L1956.30,152.68 L1957.22,152.72 L1958.13,152.77 L1959.05,152.81 L1959.97,152.85 L1960.89,152.89 L1961.81,152.93 L1962.73,152.97 L1963.65,153.01 L1964.57,153.05 L1965.48,153.08 L1966.40,153.12 L1967.32,153.15 L1968.24,153.19 L1969.16,153.22 L1970.08,153.25 L1971.00,153.28 L1971.92,153.30 L1972.83,153.33 L1973.75,153.36 L1974.67,153.38 L1975.59,153.40 L1976.51,153.42 L1977.43,153.44 L1978.35,153.46 L1979.26,153.48 L1980.18,153.50 L1981.10,153.51 L1982.02,153.52 L1982.94,153.54 L1983.86,153.55 L1984.78,153.55 L1985.70,153.56 L1986.61,153.57 L1987.53,153.57 L1988.45,153.58 L1989.37,153.58 L1989.83,153.58"/>
<path stroke="#f00" d="M336.17,748.75 L337.09,748.77 L338.01,748.83 L338.93,748.93 L339.84,749.07 L340.76,749.26 L341.68,749.48 L342.60,749.75 L343.52,750.06 L344.44,750.41 L345.36,750.80 L346.28,751.23 L347.19,751.70 L348.11,752.21 L349.03,752.77 L349.95,753.36 L350.87,754.00 L351.79,754.67 L352.71,755.39 L353.63,756.15 L354.08,756.55 L354.54,756.95 L355.00,757.37 L355.46,757.79 L355.92,758.23 L356.38,758.67 L356.84,759.13 L357.30,759.59 L357.76,760.07 L358.22,760.56 L358.68,761.05 L359.14,761.56 L359.60,762.07 L360.06,762.59 L360.52,763.13 L360.97,763.67 L361.43,764.22 L361.89,764.79 L362.35,765.36 L362.81,765.94 L363.27,766.53 L363.73,767.13 L364.19,767.73 L364.65,768.35 L365.11,768.97 L365.57,769.60 L366.03,770.24 L366.49,770.89 L366.95,771.55 L367.41,772.21 L367.87,772.88 L368.32,773.56 L368.78,774.24 L369.24,774.93 L369.70,775.62 L370.16,776.32 L370.62,777.03 L371.08,777.74 L371.54,778.45 L372.00,779.17 L372.46,779.90 L372.92,780.62 L373.38,781.35 L373.84,782.08 L374.30,782.81 L374.76,783.54 L375.21,784.27 L375.67,785.00 L376.13,785.73 L376.59,786.46 L377.05,787.19 L377.51,787.91 L377.97,788.63 L378.43,789.34 L378.89,790.04 L379.35,790.74 L379.81,791.43 L380.27,792.11 L380.73,792.78 L381.19,793.44 L381.65,794.09 L382.11,794.72 L382.56,795.34 L383.02,795.94 L383.48,796.52 L383.94,797.08 L384.40,797.63 L384.86,798.15 L385.32,798.65 L385.78,799.12 L386.24,799.57 L386.70,799.99 L387.16,800.38 L388.08,801.06 L389.00,801.62 L389.62,801.91 L390.26,802.14 L390.90,802.29 L391.54,802.36 L392.19,802.39 L392.83,802.47 L393.47,802.46 L394.12,802.36 L394.76,802.16 L395.43,801.85 L396.34,801.25 L397.26,800.44 L397.72,799.96 L398.18,799.42 L398.64,798.83 L399.10,798.19 L399.56,797.49 L400.02,796.75 L400.48,795.95 L400.94,795.10 L401.40,794.20 L401.86,793.25 L402.32,792.26 L402.78,791.21 L403.24,790.13 L403.69,788.99 L404.15,787.81 L404.61,786.59 L405.07,785.33 L405.53,784.03 L405.99,782.70 L406.45,781.32 L406.91,779.91 L407.37,778.47 L407.83,776.99 L408.29,775.49 L408.75,773.95 L409.21,772.39 L409.67,770.81 L410.13,769.20 L410.58,767.56 L411.04,765.91 L411.50,764.24 L411.96,762.54 L412.42,760.83 L412.88,759.11 L413.34,757.37 L413.80,755.62 L414.26,753.85 L414.72,752.08 L415.18,750.30 L415.64,748.50 L416.10,746.70 L416.56,744.90 L417.02,743.09 L417.47,741.27 L417.93,739.45 L418.39,737.63 L418.85,735.81 L419.31,733.98 L419.77,732.16 L420.23,730.33 L420.69,728.51 L421.15,726.68 L421.61,724.86 L422.07,723.05 L422.53,721.23 L422.99,719.42 L423.45,717.61 L423.91,715.81 L424.37,714.01 L424.82,712.22 L425.28,710.43 L425.74,708.65 L426.20,706.88 L426.66,705.11 L427.12,703.35 L427.58,701.60 L428.04,699.85 L428.50,698.11 L428.96,696.38 L429.42,694.66 L429.88,692.94 L430.34,691.24 L430.80,689.54 L431.26,687.85 L431.71,686.17 L432.17,684.50 L432.63,682.84 L433.09,681.19 L433.55,679.54 L434.01,677.91 L434.47,676.28 L434.93,674.67 L435.39,673.06 L435.85,671.47 L436.31,669.88 L436.77,668.30 L437.23,666.73 L437.69,665.18 L438.15,663.63 L438.61,662.09 L439.06,660.56 L439.52,659.04 L439.98,657.53 L440.44,656.04 L440.90,654.55 L441.36,653.07 L441.82,651.60 L442.28,650.14 L442.74,648.69 L443.20,647.25 L443.66,645.82 L444.12,644.40 L444.58,642.99 L445.04,641.59 L445.50,640.19 L445.95,638.81 L446.41,637.44 L446.87,636.08 L447.33,634.73 L447.79,633.38 L448.25,632.05 L448.71,630.73 L449.17,629.41 L449.63,628.11 L450.09,626.81 L450.55,625.53 L451.01,624.25 L451.47,622.98 L451.93,621.73 L452.39,620.48 L452.84,619.24 L453.30,618.01 L453.76,616.79 L454.22,615.58 L454.68,614.38 L455.14,613.19 L455.60,612.00 L456.06,610.83 L456.52,609.67 L456.98,608.51 L457.44,607.36 L457.90,606.23 L458.36,605.10 L458.82,603.98 L459.28,602.87 L459.74,601.77 L460.19,600.68 L460.65,599.59 L461.11,598.52 L461.57,597.46 L462.03,596.40 L462.49,595.35 L462.95,594.31 L463.41,593.28 L463.87,592.26 L464.33,591.25 L464.79,590.25 L465.25,589.25 L465.71,588.27 L466.17,587.29 L466.63,586.32 L467.08,585.36 L467.54,584.41 L468.00,583.47 L468.46,582.54 L468.92,581.61 L469.38,580.70 L469.84,579.79 L470.30,578.89 L470.76,578.00 L471.22,577.12 L471.68,576.24 L472.14,575.38 L472.60,574.53 L473.06,573.68 L473.52,572.84 L473.98,572.01 L474.43,571.19 L474.89,570.38 L475.35,569.57 L475.81,568.78 L476.27,567.99 L476.73,567.21 L477.19,566.44 L477.65,565.68 L478.11,564.93 L478.57,564.19 L479.03,563.45 L479.49,562.72 L479.95,562.01 L480.41,561.30 L480.87,560.60 L481.32,559.90 L481.78,559.22 L482.24,558.55 L482.70,557.88 L483.16,557.22 L483.62,556.58 L484.08,555.94 L484.54,555.30 L485.00,554.68 L485.46,554.07 L485.92,553.46 L486.38,552.87 L486.84,552.28 L487.30,551.70 L487.76,551.13 L488.21,550.57 L488.67,550.02 L489.13,549.48 L489.59,548.94 L490.05,548.42 L490.51,547.90 L490.97,547.40 L491.43,546.90 L491.89,546.41 L492.35,545.93 L492.81,545.46 L493.27,545.00 L493.73,544.55 L494.19,544.10 L494.65,543.67 L495.11,543.25 L495.56,542.83 L496.02,542.42 L496.48,542.03 L496.94,541.64 L497.86,540.90 L498.78,540.19 L499.70,539.52 L500.62,538.89 L501.54,538.30 L502.45,537.75 L503.37,537.24 L504.29,536.77 L505.21,536.34 L506.13,535.95 L507.05,535.60 L507.97,535.30 L508.89,535.04 L509.80,534.82 L510.72,534.65 L511.64,534.52 L512.56,534.43 L513.48,534.40 L514.40,534.40 L515.32,534.46 L516.24,534.57 L517.15,534.72 L518.07,534.92 L518.99,535.18 L519.91,535.48 L520.83,535.84 L521.75,536.25 L522.67,536.72 L523.58,537.24 L524.50,537.82 L525.42,538.46 L526.34,539.16 L527.26,539.91 L527.72,540.31 L528.18,540.73 L528.64,541.17 L529.10,541.62 L529.56,542.08 L530.02,542.56 L530.48,543.06 L530.93,543.58 L531.39,544.11 L531.85,544.66 L532.31,545.23 L532.77,545.81 L533.23,546.42 L533.69,547.04 L534.15,547.68 L534.61,548.34 L535.07,549.02 L535.53,549.71 L535.99,550.43 L536.45,551.17 L536.91,551.92 L537.37,552.70 L537.82,553.50 L538.28,554.32 L538.74,555.16 L539.20,556.02 L539.66,556.91 L540.12,557.81 L540.58,558.74 L541.04,559.69 L541.50,560.67 L541.96,561.67 L542.42,562.69 L542.88,563.74 L543.34,564.82 L543.80,565.91 L544.26,567.04 L544.71,568.19 L545.17,569.37 L545.63,570.58 L546.09,571.81 L546.55,573.07 L547.01,574.37 L547.47,575.69 L547.93,577.04 L548.39,578.42 L548.85,579.83 L549.31,581.28 L549.77,582.76 L550.23,584.27 L550.69,585.81 L551.15,587.39 L551.61,589.01 L552.06,590.66 L552.52,592.35 L552.98,594.07 L553.44,595.84 L553.90,597.64 L554.36,599.48 L554.82,601.37 L555.28,603.29 L555.74,605.26 L556.20,607.27 L556.66,609.33 L557.12,611.43 L557.58,613.58 L558.04,615.77 L558.50,618.02 L558.95,620.31 L559.41,622.65 L559.87,625.05 L560.33,627.50 L560.79,630.00 L561.25,632.55 L561.71,635.16 L562.17,637.82 L562.63,640.55 L563.09,643.33 L563.55,646.16 L564.01,649.06 L564.47,652.01 L564.93,655.03 L565.39,658.10 L565.85,661.23 L566.30,664.42 L566.76,667.67 L567.22,670.97 L567.68,674.32 L568.14,677.72 L568.60,681.17 L569.06,684.66 L569.52,688.19 L569.98,691.75 L570.44,695.33 L570.90,698.92 L571.36,702.52 L571.82,706.10 L572.28,709.66 L572.74,713.17 L573.19,716.62 L573.65,719.99 L574.11,723.24 L574.57,726.36 L575.03,729.31 L575.49,732.06 L575.95,734.58 L576.27,736.18 L576.41,736.84 L576.55,737.45 L576.73,738.24 L576.91,738.97 L577.10,739.66 L577.28,740.29 L577.46,740.86 L577.74,741.61 L578.02,742.22 L578.38,742.83 L578.84,743.22 L579.49,743.27 L579.95,742.86 L580.31,742.24 L580.59,741.60 L580.86,740.82 L581.05,740.23 L581.23,739.57 L581.42,738.86 L581.60,738.09 L581.78,737.27 L581.92,736.60 L582.38,734.22 L582.84,731.55 L583.30,728.62 L583.76,725.47 L584.22,722.12 L584.68,718.62 L585.14,714.98 L585.60,711.23 L586.06,707.41 L586.52,703.53 L586.98,699.60 L587.43,695.66 L587.89,691.71 L588.35,687.76 L588.81,683.83 L589.27,679.93 L589.73,676.06 L590.19,672.23 L590.65,668.44 L591.11,664.71 L591.57,661.02 L592.03,657.40 L592.49,653.83 L592.95,650.32 L593.41,646.87 L593.87,643.48 L594.32,640.15 L594.78,636.89 L595.24,633.69 L595.70,630.54 L596.16,627.46 L596.62,624.44 L597.08,621.48 L597.54,618.58 L598.00,615.74 L598.46,612.95 L598.92,610.22 L599.38,607.55 L599.84,604.93 L600.30,602.37 L600.76,599.85 L601.21,597.40 L601.67,594.99 L602.13,592.63 L602.59,590.32 L603.05,588.06 L603.51,585.85 L603.97,583.69 L604.43,581.57 L604.89,579.50 L605.35,577.47 L605.81,575.49 L606.27,573.55 L606.73,571.65 L607.19,569.79 L607.65,567.98 L608.11,566.20 L608.56,564.47 L609.02,562.78 L609.48,561.12 L609.94,559.51 L610.40,557.93 L610.86,556.39 L611.32,554.88 L611.78,553.41 L612.24,551.98 L612.70,550.59 L613.16,549.22 L613.62,547.90 L614.08,546.61 L614.54,545.35 L615.00,544.13 L615.45,542.94 L615.91,541.78 L616.37,540.66 L616.83,539.57 L617.29,538.51 L617.75,537.48 L618.21,536.48 L618.67,535.52 L619.13,534.59 L619.59,533.69 L620.05,532.82 L620.51,531.98 L620.97,531.17 L621.43,530.40 L621.89,529.65 L622.35,528.93 L622.80,528.25 L623.26,527.59 L623.72,526.97 L624.18,526.37 L624.64,525.81 L625.10,525.27 L625.56,524.77 L626.02,524.29 L626.48,523.84 L626.94,523.43 L627.40,523.04 L628.32,522.36 L629.24,521.80 L630.15,521.35 L631.07,521.03 L631.99,520.83 L632.91,520.75 L633.83,520.80 L634.75,520.97 L635.67,521.28 L636.58,521.71 L637.50,522.27 L638.42,522.97 L638.88,523.37 L639.34,523.81 L639.80,524.28 L640.26,524.78 L640.72,525.32 L641.18,525.90 L641.64,526.52 L642.10,527.17 L642.56,527.86 L643.02,528.59 L643.48,529.36 L643.93,530.17 L644.39,531.01 L644.85,531.90 L645.31,532.83 L645.77,533.81 L646.23,534.82 L646.69,535.88 L647.15,536.99 L647.61,538.14 L648.07,539.33 L648.53,540.58 L648.99,541.87 L649.45,543.21 L649.91,544.61 L650.37,546.05 L650.82,547.55 L651.28,549.11 L651.74,550.71 L652.20,552.38 L652.66,554.11 L653.12,555.89 L653.58,557.74 L654.04,559.66 L654.50,561.63 L654.96,563.68 L655.42,565.80 L655.88,567.99 L656.34,570.26 L656.80,572.60 L657.26,575.03 L657.72,577.53 L658.17,580.13 L658.63,582.82 L659.09,585.60 L659.55,588.47 L660.01,591.46 L660.47,594.54 L660.93,597.74 L661.39,601.06 L661.85,604.50 L662.31,608.07 L662.77,611.78 L663.23,615.63 L663.69,619.63 L664.15,623.79 L664.61,628.13 L665.06,632.65 L665.52,637.36 L665.98,642.27 L666.44,647.42 L666.90,652.80 L667.36,658.44 L667.82,664.35 L668.28,670.58 L668.74,677.13 L669.20,684.05 L669.66,691.37 L670.12,699.13 L670.58,707.38 L671.04,716.19 L671.50,725.61 L671.95,735.75 L672.41,746.70 L672.87,758.60 L673.33,771.60 L673.79,785.92 L674.25,801.83 L674.71,819.69 L675.17,839.99 L675.26,844.27 L675.35,848.81 L675.44,853.48 L675.54,858.30 L675.63,863.28 L675.72,868.41 L675.81,873.72 L675.90,879.21 L675.99,884.89 L676.09,890.77 L676.18,896.87 L676.27,903.19 L676.36,909.75 L676.45,916.56 L676.55,923.63 L676.64,930.97 L676.73,938.58 L676.82,946.48 L676.91,954.65 L677.00,963.09 L677.10,971.76 L677.19,980.63 L677.28,989.61 L677.37,998.58 L677.46,1007.39 L677.56,1015.79 L677.65,1023.50 L677.74,1030.14 L677.83,1035.32 L677.92,1038.66 L678.02,1039.89 L678.11,1038.69 L678.20,1035.36 L678.29,1030.18 L678.38,1023.53 L678.47,1015.80 L678.57,1007.35 L678.66,998.49 L678.75,989.45 L678.84,980.40 L678.93,971.46 L679.03,962.71 L679.12,954.19 L679.21,945.94 L679.30,937.96 L679.39,930.27 L679.49,922.85 L679.58,915.70 L679.67,908.81 L679.76,902.18 L679.85,895.78 L679.94,889.60 L680.04,883.64 L680.13,877.89 L680.22,872.32 L680.31,866.94 L680.40,861.73 L680.50,856.68 L680.59,851.79 L680.68,847.04 L680.77,842.43 L681.14,825.11 L681.60,806.01 L682.06,789.04 L682.52,773.79 L682.98,759.96 L683.44,747.31 L683.90,735.67 L684.36,724.89 L684.82,714.86 L685.28,705.48 L685.74,696.69 L686.19,688.41 L686.65,680.60 L687.11,673.21 L687.57,666.19 L688.03,659.52 L688.49,653.17 L688.95,647.11 L689.41,641.31 L689.87,635.77 L690.33,630.45 L690.79,625.36 L691.25,620.46 L691.71,615.76 L692.17,611.23 L692.63,606.87 L693.08,602.67 L693.54,598.62 L694.00,594.71 L694.46,590.94 L694.92,587.30 L695.38,583.78 L695.84,580.38 L696.30,577.09 L696.76,573.91 L697.22,570.84 L697.68,567.86 L698.14,564.98 L698.60,562.20 L699.06,559.50 L699.52,556.89 L699.98,554.37 L700.43,551.92 L700.89,549.56 L701.35,547.27 L701.81,545.06 L702.27,542.92 L702.73,540.85 L703.19,538.85 L703.65,536.91 L704.11,535.05 L704.57,533.25 L705.03,531.51 L705.49,529.83 L705.95,528.22 L706.41,526.66 L706.87,525.16 L707.32,523.72 L707.78,522.34 L708.24,521.02 L708.70,519.74 L709.16,518.53 L709.62,517.37 L710.08,516.26 L710.54,515.20 L711.00,514.20 L711.46,513.24 L711.92,512.34 L712.38,511.49 L712.84,510.69 L713.30,509.94 L713.76,509.24 L714.22,508.59 L714.67,507.98 L715.13,507.43 L715.59,506.92 L716.05,506.47 L716.51,506.06 L717.43,505.39 L718.35,504.92 L719.27,504.64 L720.19,504.55 L721.11,504.67 L722.02,504.98 L722.94,505.49 L723.86,506.21 L724.32,506.64 L724.78,507.13 L725.24,507.67 L725.70,508.27 L726.16,508.92 L726.62,509.62 L727.08,510.38 L727.54,511.20 L728.00,512.08 L728.45,513.01 L728.91,514.00 L729.37,515.06 L729.83,516.17 L730.29,517.35 L730.75,518.59 L731.21,519.90 L731.67,521.27 L732.13,522.72 L732.59,524.23 L733.05,525.81 L733.51,527.47 L733.97,529.20 L734.43,531.01 L734.89,532.90 L735.35,534.87 L735.80,536.92 L736.26,539.06 L736.72,541.30 L737.18,543.62 L737.64,546.04 L738.10,548.56 L738.56,551.18 L739.02,553.91 L739.48,556.76 L739.94,559.71 L740.40,562.79 L740.86,566.00 L741.32,569.34 L741.78,572.82 L742.24,576.44 L742.69,580.21 L743.15,584.15 L743.61,588.26 L744.07,592.55 L744.53,597.03 L744.99,601.71 L745.45,606.60 L745.91,611.73 L746.37,617.10 L746.83,622.74 L747.29,628.66 L747.75,634.89 L748.21,641.44 L748.67,648.35 L749.13,655.65 L749.59,663.37 L750.04,671.56 L750.50,680.24 L750.96,689.48 L751.42,699.32 L751.88,709.81 L752.34,721.02 L752.80,732.98 L753.26,745.74 L753.72,759.28 L754.06,769.78 L754.15,772.67 L754.18,773.51 L754.24,775.58 L754.34,778.50 L754.43,781.44 L754.52,784.39 L754.61,787.35 L754.64,788.21 L754.70,790.31 L754.79,793.26 L754.89,796.21 L754.98,799.14 L755.07,802.04 L755.10,802.88 L755.16,804.91 L755.25,807.74 L755.35,810.52 L755.44,813.24 L755.53,815.88 L755.56,816.63 L755.62,818.43 L755.71,820.88 L755.81,823.22 L755.90,825.42 L755.99,827.49 L756.08,829.39 L756.17,831.12 L756.26,832.66 L756.36,833.99 L756.45,835.11 L756.54,836.01 L756.63,836.67 L756.82,837.27 L757.09,836.31 L757.18,835.51 L757.28,834.47 L757.37,833.21 L757.46,831.74 L757.55,830.07 L757.64,828.21 L757.73,826.19 L757.83,824.01 L757.85,823.35 L757.92,821.69 L758.01,819.24 L758.10,816.69 L758.19,814.03 L758.29,811.29 L758.31,810.49 L758.38,808.48 L758.47,805.62 L758.56,802.70 L758.65,799.74 L758.75,796.75 L758.77,795.88 L758.84,793.74 L758.93,790.72 L759.02,787.69 L759.11,784.66 L759.20,781.62 L759.23,780.75 L759.30,778.60 L759.39,775.59 L759.48,772.59 L759.57,769.62 L759.69,765.81 L760.15,751.44 L760.61,737.81 L761.07,724.98 L761.53,712.93 L761.99,701.62 L762.45,691.01 L762.91,681.03 L763.37,671.64 L763.82,662.78 L764.28,654.41 L764.74,646.49 L765.20,638.98 L765.66,631.84 L766.12,625.06 L766.58,618.59 L767.04,612.43 L767.50,606.54 L767.96,600.92 L768.42,595.53 L768.88,590.37 L769.34,585.43 L769.80,580.69 L770.26,576.13 L770.72,571.76 L771.17,567.55 L771.63,563.51 L772.09,559.62 L772.55,555.88 L773.01,552.28 L773.47,548.81 L773.93,545.47 L774.39,542.25 L774.85,539.16 L775.31,536.17 L775.77,533.30 L776.23,530.53 L776.69,527.87 L777.15,525.31 L777.61,522.84 L778.06,520.47 L778.52,518.18 L778.98,515.99 L779.44,513.89 L779.90,511.86 L780.36,509.93 L780.82,508.07 L781.28,506.29 L781.74,504.59 L782.20,502.96 L782.66,501.41 L783.12,499.94 L783.58,498.53 L784.04,497.20 L784.50,495.94 L784.95,494.75 L785.41,493.62 L785.87,492.57 L786.33,491.58 L786.79,490.65 L787.25,489.80 L787.71,489.01 L788.17,488.28 L788.63,487.62 L789.09,487.02 L789.55,486.49 L790.01,486.02 L790.47,485.62 L791.39,485.00 L792.30,484.64 L793.22,484.53 L794.14,484.68 L795.06,485.10 L795.98,485.78 L796.44,486.21 L796.90,486.72 L797.36,487.30 L797.82,487.94 L798.28,488.66 L798.74,489.45 L799.19,490.31 L799.65,491.24 L800.11,492.25 L800.57,493.34 L801.03,494.50 L801.49,495.74 L801.95,497.07 L802.41,498.47 L802.87,499.97 L803.33,501.54 L803.79,503.21 L804.25,504.97 L804.71,506.82 L805.17,508.77 L805.63,510.82 L806.09,512.98 L806.54,515.24 L807.00,517.60 L807.46,520.09 L807.92,522.69 L808.38,525.42 L808.84,528.27 L809.30,531.26 L809.76,534.39 L810.22,537.66 L810.68,541.09 L811.14,544.68 L811.60,548.44 L812.06,552.38 L812.52,556.51 L812.98,560.85 L813.43,565.39 L813.89,570.17 L814.35,575.19 L814.81,580.47 L815.27,586.04 L815.73,591.91 L816.19,598.11 L816.65,604.68 L817.11,611.64 L817.57,619.03 L818.03,626.90 L818.49,635.31 L818.95,644.31 L819.41,653.98 L819.87,664.42 L820.32,675.72 L820.78,688.02 L821.24,701.48 L821.70,716.31 L822.16,732.74 L822.62,751.07 L822.75,756.74 L822.85,760.80 L822.94,764.95 L823.03,769.20 L823.08,771.62 L823.12,773.55 L823.21,778.00 L823.31,782.56 L823.40,787.22 L823.49,791.99 L823.54,794.70 L823.58,796.86 L823.67,801.84 L823.76,806.92 L823.86,812.09 L823.95,817.35 L824.00,820.33 L824.04,822.69 L824.13,828.10 L824.22,833.55 L824.32,839.03 L824.41,844.50 L824.46,847.54 L824.50,849.92 L824.59,855.25 L824.68,860.43 L824.78,865.40 L824.87,870.08 L824.92,872.55 L824.96,874.39 L825.05,878.24 L825.14,881.53 L825.23,884.18 L825.33,886.10 L825.38,886.84 L825.51,887.55 L825.69,885.78 L825.79,883.70 L825.84,882.22 L825.88,880.91 L825.97,877.48 L826.06,873.50 L826.15,869.07 L826.25,864.27 L826.30,861.46 L826.34,859.19 L826.43,853.91 L826.52,848.48 L826.61,842.96 L826.70,837.41 L826.76,834.29 L826.80,831.85 L826.89,826.31 L826.98,820.83 L827.07,815.41 L827.16,810.06 L827.22,807.11 L827.26,804.81 L827.35,799.66 L827.44,794.60 L827.53,789.65 L827.62,784.81 L827.67,782.14 L827.71,780.07 L827.81,775.44 L827.90,770.91 L827.99,766.48 L828.08,762.16 L828.13,759.78 L828.17,757.93 L828.27,753.80 L828.59,739.82 L829.05,721.94 L829.51,705.82 L829.97,691.20 L830.43,677.84 L830.89,665.58 L831.35,654.25 L831.81,643.74 L832.27,633.95 L832.73,624.80 L833.19,616.22 L833.65,608.15 L834.11,600.53 L834.56,593.34 L835.02,586.53 L835.48,580.06 L835.94,573.92 L836.40,568.08 L836.86,562.51 L837.32,557.19 L837.78,552.12 L838.24,547.27 L838.70,542.64 L839.16,538.20 L839.62,533.96 L840.08,529.89 L840.54,525.99 L841.00,522.25 L841.46,518.66 L841.91,515.23 L842.37,511.93 L842.83,508.77 L843.29,505.74 L843.75,502.84 L844.21,500.05 L844.67,497.39 L845.13,494.83 L845.59,492.39 L846.05,490.05 L846.51,487.82 L846.97,485.69 L847.43,483.65 L847.89,481.71 L848.35,479.87 L848.80,478.12 L849.26,476.46 L849.72,474.89 L850.18,473.40 L850.64,472.00 L851.10,470.68 L851.56,469.45 L852.02,468.30 L852.48,467.23 L852.94,466.24 L853.40,465.33 L853.86,464.50 L854.32,463.75 L854.78,463.08 L855.24,462.48 L855.69,461.97 L856.15,461.52 L857.07,460.87 L857.99,460.53 L858.91,460.49 L859.83,460.77 L860.75,461.36 L861.21,461.78 L861.67,462.28 L862.13,462.86 L862.59,463.52 L863.04,464.27 L863.50,465.10 L863.96,466.02 L864.42,467.02 L864.88,468.12 L865.34,469.31 L865.80,470.59 L866.26,471.97 L866.72,473.44 L867.18,475.01 L867.64,476.69 L868.10,478.47 L868.56,480.36 L869.02,482.37 L869.48,484.49 L869.93,486.72 L870.39,489.08 L870.85,491.57 L871.31,494.20 L871.77,496.96 L872.23,499.86 L872.69,502.92 L873.15,506.13 L873.61,509.51 L874.07,513.07 L874.53,516.80 L874.99,520.73 L875.45,524.87 L875.91,529.22 L876.37,533.81 L876.82,538.64 L877.28,543.74 L877.74,549.13 L878.20,554.82 L878.66,560.85 L879.12,567.24 L879.58,574.03 L880.04,581.26 L880.50,588.98 L880.96,597.23 L881.42,606.09 L881.88,615.64 L882.34,625.96 L882.80,637.18 L883.26,649.44 L883.72,662.93 L884.17,677.88 L884.63,694.61 L885.09,713.52 L885.36,725.71 L885.45,730.15 L885.54,734.72 L885.64,739.44 L885.73,744.29 L885.82,749.31 L885.91,754.48 L886.00,759.82 L886.09,765.34 L886.19,771.05 L886.28,776.96 L886.37,783.07 L886.46,789.39 L886.47,790.04 L886.55,795.94 L886.65,802.71 L886.74,809.72 L886.83,816.95 L886.92,824.42 L886.93,825.18 L887.01,832.10 L887.11,839.97 L887.20,848.01 L887.29,856.14 L887.38,864.29 L887.39,865.10 L887.47,872.34 L887.56,880.13 L887.66,887.46 L887.75,894.07 L887.84,899.68 L887.93,903.99 L888.02,906.72 L888.12,907.68 L888.21,906.75 L888.30,904.05 L888.39,899.75 L888.48,894.12 L888.58,887.47 L888.67,880.09 L888.76,872.22 L888.77,871.41 L888.85,864.08 L888.94,855.83 L889.03,847.59 L889.13,839.45 L889.22,831.46 L889.23,830.67 L889.31,823.66 L889.40,816.07 L889.49,808.72 L889.59,801.59 L889.68,794.70 L889.69,794.02 L889.77,788.04 L889.86,781.59 L889.95,775.37 L890.05,769.34 L890.14,763.52 L890.23,757.88 L890.32,752.42 L890.41,747.14 L890.50,742.01 L890.60,737.04 L890.69,732.21 L890.78,727.53 L890.87,722.98 L891.06,713.82 L891.52,693.96 L891.98,676.37 L892.44,660.63 L892.90,646.40 L893.36,633.43 L893.82,621.53 L894.28,610.56 L894.74,600.38 L895.20,590.90 L895.66,582.05 L896.12,573.74 L896.58,565.93 L897.04,558.57 L897.50,551.61 L897.96,545.03 L898.41,538.79 L898.87,532.86 L899.33,527.23 L899.79,521.86 L900.25,516.75 L900.71,511.88 L901.17,507.22 L901.63,502.78 L902.09,498.54 L902.55,494.48 L903.01,490.61 L903.47,486.90 L903.93,483.35 L904.39,479.96 L904.85,476.72 L905.30,473.63 L905.76,470.66 L906.22,467.84 L906.68,465.14 L907.14,462.56 L907.60,460.11 L908.06,457.77 L908.52,455.54 L908.98,453.43 L909.44,451.42 L909.90,449.52 L910.36,447.73 L910.82,446.03 L911.28,444.44 L911.74,442.94 L912.19,441.53 L912.65,440.23 L913.11,439.01 L913.57,437.89 L914.03,436.86 L914.49,435.92 L914.95,435.07 L915.41,434.30 L915.87,433.63 L916.33,433.05 L916.79,432.55 L917.25,432.14 L918.17,431.58 L919.09,431.38 L920.00,431.53 L920.92,432.03 L921.38,432.42 L921.84,432.90 L922.30,433.47 L922.76,434.14 L923.22,434.90 L923.68,435.76 L924.14,436.72 L924.60,437.77 L925.06,438.93 L925.52,440.19 L925.98,441.56 L926.43,443.04 L926.89,444.63 L927.35,446.33 L927.81,448.16 L928.27,450.10 L928.73,452.17 L929.19,454.37 L929.65,456.70 L930.11,459.17 L930.57,461.78 L931.03,464.55 L931.49,467.47 L931.95,470.55 L932.41,473.81 L932.87,477.24 L933.33,480.87 L933.78,484.69 L934.24,488.73 L934.70,492.99 L935.16,497.48 L935.62,502.24 L936.08,507.26 L936.54,512.58 L937.00,518.21 L937.46,524.18 L937.92,530.52 L938.38,537.27 L938.84,544.46 L939.30,552.15 L939.76,560.38 L940.22,569.22 L940.67,578.74 L941.13,589.04 L941.59,600.23 L942.05,612.44 L942.51,625.84 L942.97,640.64 L943.43,657.09 L943.89,675.51 L944.00,680.23 L944.09,684.29 L944.18,688.46 L944.27,692.72 L944.35,696.26 L944.37,697.10 L944.46,701.58 L944.55,706.17 L944.64,710.87 L944.73,715.69 L944.81,719.67 L944.83,720.62 L944.92,725.66 L945.01,730.82 L945.10,736.08 L945.19,741.45 L945.27,745.86 L945.29,746.90 L945.38,752.44 L945.47,758.04 L945.56,763.67 L945.65,769.32 L945.73,773.88 L945.74,774.95 L945.84,780.50 L945.93,785.92 L946.02,791.14 L946.11,796.08 L946.19,799.82 L946.20,800.66 L946.30,804.77 L946.39,808.31 L946.48,811.18 L946.57,813.29 L946.65,814.39 L946.94,813.15 L947.03,810.97 L947.11,808.63 L947.12,808.02 L947.21,804.39 L947.31,800.19 L947.40,795.51 L947.49,790.47 L947.56,786.16 L947.58,785.13 L947.67,779.60 L947.77,773.93 L947.86,768.18 L947.95,762.41 L948.02,757.73 L948.04,756.64 L948.13,750.91 L948.23,745.24 L948.32,739.65 L948.41,734.16 L948.48,729.78 L948.50,728.76 L948.59,723.47 L948.68,718.30 L948.78,713.23 L948.87,708.28 L948.94,704.35 L948.96,703.44 L949.05,698.72 L949.14,694.10 L949.24,689.60 L949.33,685.20 L949.40,681.71 L949.42,680.90 L949.51,676.70 L949.86,661.57 L950.32,643.56 L950.78,627.36 L951.24,612.67 L951.70,599.27 L952.16,586.97 L952.62,575.63 L953.08,565.11 L953.54,555.32 L954.00,546.17 L954.46,537.61 L954.91,529.56 L955.37,521.97 L955.83,514.82 L956.29,508.05 L956.75,501.64 L957.21,495.55 L957.67,489.77 L958.13,484.28 L958.59,479.05 L959.05,474.06 L959.51,469.31 L959.97,464.78 L960.43,460.45 L960.89,456.32 L961.35,452.38 L961.80,448.62 L962.26,445.02 L962.72,441.59 L963.18,438.32 L963.64,435.19 L964.10,432.21 L964.56,429.36 L965.02,426.65 L965.48,424.08 L965.94,421.62 L966.40,419.30 L966.86,417.09 L967.32,414.99 L967.78,413.02 L968.24,411.15 L968.69,409.39 L969.15,407.74 L969.61,406.20 L970.07,404.76 L970.53,403.42 L970.99,402.19 L971.45,401.05 L971.91,400.01 L972.37,399.07 L972.83,398.23 L973.29,397.48 L973.75,396.83 L974.21,396.28 L974.67,395.82 L975.59,395.20 L976.50,394.95 L977.42,395.10 L978.34,395.63 L978.80,396.05 L979.26,396.57 L979.72,397.19 L980.18,397.92 L980.64,398.75 L981.10,399.69 L981.56,400.73 L982.02,401.89 L982.48,403.16 L982.93,404.55 L983.39,406.06 L983.85,407.69 L984.31,409.45 L984.77,411.34 L985.23,413.36 L985.69,415.52 L986.15,417.83 L986.61,420.28 L987.07,422.89 L987.53,425.67 L987.99,428.61 L988.45,431.73 L988.91,435.03 L989.37,438.53 L989.83,442.24 L990.28,446.17 L990.74,450.33 L991.20,454.73 L991.66,459.40 L992.12,464.36 L992.58,469.61 L993.04,475.20 L993.50,481.15 L993.96,487.48 L994.42,494.24 L994.88,501.48 L995.34,509.23 L995.80,517.57 L996.26,526.57 L996.72,536.32 L997.17,546.93 L997.63,558.53 L998.09,571.31 L998.55,585.49 L999.01,601.36 L999.47,619.34 L999.93,640.01 L999.99,642.84 L1000.08,647.45 L1000.17,652.22 L1000.26,657.15 L1000.36,662.25 L1000.39,664.18 L1000.45,667.54 L1000.54,673.02 L1000.63,678.72 L1000.72,684.63 L1000.82,690.79 L1000.85,693.14 L1000.91,697.21 L1001.00,703.91 L1001.09,710.90 L1001.18,718.22 L1001.27,725.88 L1001.31,728.81 L1001.37,733.92 L1001.46,742.35 L1001.55,751.22 L1001.64,760.53 L1001.73,770.32 L1001.77,774.07 L1001.83,780.60 L1001.92,791.36 L1002.01,802.59 L1002.10,814.19 L1002.19,826.01 L1002.23,830.40 L1002.29,837.80 L1002.38,849.12 L1002.47,859.34 L1002.56,867.64 L1002.65,873.10 L1002.69,874.25 L1002.74,874.99 L1002.84,873.15 L1002.93,867.70 L1003.02,859.38 L1003.11,849.07 L1003.15,844.93 L1003.20,837.62 L1003.30,825.68 L1003.39,813.68 L1003.48,801.89 L1003.57,790.47 L1003.61,786.36 L1003.66,779.51 L1003.76,769.03 L1003.85,759.05 L1003.94,749.54 L1004.03,740.48 L1004.06,737.24 L1004.12,731.85 L1004.21,723.63 L1004.31,715.77 L1004.40,708.27 L1004.49,701.09 L1004.52,698.51 L1004.58,694.21 L1004.67,687.60 L1004.77,681.26 L1004.86,675.16 L1004.95,669.29 L1004.98,667.17 L1005.04,663.62 L1005.13,658.16 L1005.23,652.87 L1005.32,647.77 L1005.41,642.82 L1005.44,641.03 L1005.50,638.03 L1005.90,618.69 L1006.36,599.23 L1006.82,582.00 L1007.28,566.57 L1007.74,552.60 L1008.20,539.87 L1008.66,528.17 L1009.12,517.37 L1009.58,507.34 L1010.04,497.99 L1010.50,489.25 L1010.96,481.05 L1011.41,473.33 L1011.87,466.05 L1012.33,459.17 L1012.79,452.65 L1013.25,446.48 L1013.71,440.62 L1014.17,435.04 L1014.63,429.74 L1015.09,424.68 L1015.55,419.87 L1016.01,415.28 L1016.47,410.90 L1016.93,406.72 L1017.39,402.73 L1017.85,398.92 L1018.30,395.29 L1018.76,391.82 L1019.22,388.51 L1019.68,385.35 L1020.14,382.34 L1020.60,379.47 L1021.06,376.74 L1021.52,374.14 L1021.98,371.67 L1022.44,369.33 L1022.90,367.11 L1023.36,365.01 L1023.82,363.03 L1024.28,361.17 L1024.74,359.42 L1025.19,357.77 L1025.65,356.24 L1026.11,354.82 L1026.57,353.50 L1027.03,352.28 L1027.49,351.17 L1027.95,350.17 L1028.41,349.27 L1028.87,348.46 L1029.33,347.77 L1029.79,347.17 L1030.25,346.67 L1030.71,346.28 L1031.63,345.79 L1032.54,345.71 L1033.46,346.05 L1034.38,346.82 L1034.84,347.36 L1035.30,348.01 L1035.76,348.78 L1036.22,349.66 L1036.68,350.66 L1037.14,351.77 L1037.60,353.01 L1038.06,354.37 L1038.52,355.87 L1038.98,357.49 L1039.43,359.25 L1039.89,361.15 L1040.35,363.19 L1040.81,365.39 L1041.27,367.74 L1041.73,370.25 L1042.19,372.94 L1042.65,375.80 L1043.11,378.85 L1043.57,382.09 L1044.03,385.54 L1044.49,389.21 L1044.95,393.11 L1045.41,397.26 L1045.87,401.67 L1046.33,406.36 L1046.78,411.36 L1047.24,416.68 L1047.70,422.35 L1048.16,428.41 L1048.62,434.90 L1049.08,441.84 L1049.54,449.31 L1050.00,457.35 L1050.46,466.03 L1050.92,475.45 L1051.38,485.72 L1051.84,496.95 L1052.30,509.32 L1052.76,523.05 L1053.22,538.41 L1053.67,555.80 L1054.13,575.73 L1054.24,580.88 L1054.33,585.39 L1054.43,590.06 L1054.52,594.88 L1054.59,598.96 L1054.61,599.87 L1054.70,605.03 L1054.79,610.38 L1054.89,615.93 L1054.98,621.69 L1055.05,626.59 L1055.07,627.68 L1055.16,633.91 L1055.25,640.40 L1055.34,647.17 L1055.44,654.23 L1055.51,660.25 L1055.53,661.60 L1055.62,669.30 L1055.71,677.36 L1055.80,685.78 L1055.90,694.58 L1055.97,702.09 L1055.99,703.77 L1056.08,713.34 L1056.17,723.27 L1056.26,733.50 L1056.36,743.93 L1056.43,752.52 L1056.45,754.39 L1056.54,764.62 L1056.63,774.24 L1056.72,782.73 L1056.81,789.47 L1056.89,793.26 L1057.00,795.35 L1057.09,793.81 L1057.18,789.37 L1057.27,782.52 L1057.35,775.54 L1057.37,773.88 L1057.46,764.08 L1057.55,753.62 L1057.64,742.92 L1057.73,732.22 L1057.81,723.60 L1057.83,721.72 L1057.92,711.52 L1058.01,701.67 L1058.10,692.20 L1058.19,683.12 L1058.27,675.95 L1058.28,674.42 L1058.38,666.08 L1058.47,658.10 L1058.56,650.46 L1058.65,643.12 L1058.73,637.33 L1058.74,636.09 L1058.84,629.32 L1058.93,622.82 L1059.02,616.56 L1059.11,610.53 L1059.19,605.75 L1059.20,604.72 L1059.30,599.10 L1059.39,593.67 L1059.48,588.42 L1059.57,583.33 L1059.65,579.28 L1059.66,578.41 L1059.75,573.63 L1060.11,556.60 L1060.56,536.79 L1061.02,519.23 L1061.48,503.49 L1061.94,489.22 L1062.40,476.20 L1062.86,464.22 L1063.32,453.14 L1063.78,442.85 L1064.24,433.24 L1064.70,424.24 L1065.16,415.78 L1065.62,407.81 L1066.08,400.29 L1066.54,393.16 L1067.00,386.41 L1067.46,379.99 L1067.91,373.89 L1068.37,368.08 L1068.83,362.54 L1069.29,357.26 L1069.75,352.21 L1070.21,347.38 L1070.67,342.77 L1071.13,338.36 L1071.59,334.14 L1072.05,330.11 L1072.51,326.24 L1072.97,322.54 L1073.43,319.00 L1073.89,315.62 L1074.35,312.38 L1074.80,309.28 L1075.26,306.32 L1075.72,303.50 L1076.18,300.81 L1076.64,298.24 L1077.10,295.79 L1077.56,293.47 L1078.02,291.26 L1078.48,289.17 L1078.94,287.19 L1079.40,285.32 L1079.86,283.56 L1080.32,281.91 L1080.78,280.37 L1081.24,278.93 L1081.70,277.60 L1082.15,276.37 L1082.61,275.24 L1083.07,274.22 L1083.53,273.30 L1083.99,272.48 L1084.45,271.76 L1084.91,271.15 L1085.37,270.64 L1085.83,270.23 L1086.75,269.73 L1087.67,269.64 L1088.59,270.00 L1089.50,270.80 L1089.96,271.37 L1090.42,272.06 L1090.88,272.87 L1091.34,273.80 L1091.80,274.86 L1092.26,276.06 L1092.72,277.38 L1093.18,278.85 L1093.64,280.46 L1094.10,282.22 L1094.56,284.13 L1095.02,286.21 L1095.48,288.46 L1095.93,290.88 L1096.39,293.49 L1096.85,296.29 L1097.31,299.30 L1097.77,302.53 L1098.23,305.98 L1098.69,309.69 L1099.15,313.66 L1099.61,317.91 L1100.07,322.47 L1100.53,327.35 L1100.99,332.59 L1101.45,338.23 L1101.91,344.29 L1102.37,350.83 L1102.83,357.90 L1103.28,365.56 L1103.74,373.89 L1104.20,382.98 L1104.66,392.95 L1105.12,403.94 L1105.58,416.15 L1106.04,429.82 L1106.50,445.28 L1106.96,462.99 L1107.42,483.65 L1107.46,485.86 L1107.56,490.51 L1107.65,495.33 L1107.74,500.33 L1107.83,505.54 L1107.88,508.27 L1107.92,510.96 L1108.01,516.61 L1108.11,522.51 L1108.20,528.69 L1108.29,535.16 L1108.34,538.59 L1108.38,541.96 L1108.47,549.13 L1108.57,556.69 L1108.66,564.69 L1108.75,573.19 L1108.80,577.74 L1108.84,582.25 L1108.93,591.94 L1109.03,602.36 L1109.12,613.61 L1109.21,625.84 L1109.26,632.51 L1109.30,639.22 L1109.39,653.98 L1109.48,670.42 L1109.58,688.96 L1109.67,710.15 L1109.72,722.23 L1109.76,734.81 L1109.85,764.12 L1109.94,799.80 L1110.04,843.81 L1110.13,894.26 L1110.17,915.53 L1110.22,923.68 L1110.31,893.50 L1110.40,842.54 L1110.50,798.07 L1110.59,761.92 L1110.63,746.06 L1110.68,732.13 L1110.77,706.99 L1110.86,685.31 L1110.95,666.28 L1111.05,649.34 L1111.09,641.37 L1111.14,634.08 L1111.23,620.20 L1111.32,607.48 L1111.41,595.72 L1111.51,584.80 L1111.55,579.52 L1111.60,574.61 L1111.69,565.05 L1111.78,556.04 L1111.87,547.53 L1111.97,539.47 L1112.01,535.51 L1112.06,531.80 L1112.15,524.49 L1112.24,517.51 L1112.33,510.83 L1112.42,504.42 L1112.47,501.25 L1112.52,498.27 L1112.61,492.34 L1112.70,486.63 L1112.79,481.12 L1112.88,475.80 L1112.93,473.15 L1112.98,470.65 L1113.39,449.28 L1113.85,428.51 L1114.31,410.11 L1114.77,393.58 L1115.23,378.56 L1115.69,364.79 L1116.15,352.07 L1116.61,340.26 L1117.07,329.22 L1117.52,318.86 L1117.98,309.11 L1118.44,299.88 L1118.90,291.13 L1119.36,282.82 L1119.82,274.89 L1120.28,267.32 L1120.74,260.08 L1121.20,253.13 L1121.66,246.46 L1122.12,240.05 L1122.58,233.88 L1123.04,227.94 L1123.50,222.20 L1123.96,216.65 L1124.41,211.30 L1124.87,206.11 L1125.33,201.09 L1125.79,196.23 L1126.25,191.51 L1126.71,186.94 L1127.17,182.50 L1127.63,178.19 L1128.09,174.00 L1128.55,169.92 L1129.01,165.96 L1129.47,162.11 L1129.93,158.36 L1130.39,154.72 L1130.85,151.17 L1131.30,147.71 L1131.76,144.34 L1132.22,141.06 L1132.68,137.86 L1133.14,134.75 L1133.60,131.71 L1134.06,128.75 L1134.52,125.87 L1134.98,123.06 L1135.44,120.32 L1135.90,117.65 L1136.36,115.04 L1136.82,112.50 L1137.28,110.03 L1137.74,107.62 L1138.20,105.27 L1138.65,102.98 L1139.11,100.75 L1139.57,98.57 L1140.03,96.45 L1140.49,94.39 L1140.95,92.38 L1141.41,90.43 L1141.87,88.53 L1142.33,86.68 L1142.79,84.88 L1143.25,83.13 L1143.71,81.43 L1144.17,79.77 L1144.63,78.17 L1145.09,76.61 L1145.54,75.10 L1146.00,73.63 L1146.46,72.21 L1146.92,70.84 L1147.38,69.51 L1147.84,68.22 L1148.30,66.97 L1148.76,65.77 L1149.22,64.61 L1149.68,63.49 L1150.14,62.42 L1150.60,61.38 L1151.06,60.39 L1151.52,59.43 L1151.98,58.52 L1152.43,57.64 L1152.89,56.81 L1153.35,56.01 L1153.81,55.26 L1154.27,54.54 L1154.73,53.86 L1155.19,53.21 L1155.65,52.61 L1156.11,52.04 L1156.57,51.52 L1157.03,51.03 L1157.49,50.57 L1157.95,50.16 L1158.87,49.43 L1159.78,48.86 L1160.70,48.43 L1161.62,48.15 L1162.54,48.01 L1163.46,48.01 L1164.38,48.15 L1165.30,48.43 L1166.22,48.86 L1167.13,49.43 L1168.05,50.16 L1168.51,50.57 L1168.97,51.03 L1169.43,51.52 L1169.89,52.04 L1170.35,52.61 L1170.81,53.21 L1171.27,53.86 L1171.73,54.54 L1172.19,55.26 L1172.65,56.01 L1173.11,56.81 L1173.57,57.64 L1174.02,58.52 L1174.48,59.43 L1174.94,60.39 L1175.40,61.38 L1175.86,62.42 L1176.32,63.49 L1176.78,64.61 L1177.24,65.77 L1177.70,66.97 L1178.16,68.22 L1178.62,69.51 L1179.08,70.84 L1179.54,72.21 L1180.00,73.63 L1180.46,75.10 L1180.91,76.61 L1181.37,78.17 L1181.83,79.77 L1182.29,81.43 L1182.75,83.13 L1183.21,84.88 L1183.67,86.68 L1184.13,88.53 L1184.59,90.43 L1185.05,92.38 L1185.51,94.39 L1185.97,96.45 L1186.43,98.57 L1186.89,100.75 L1187.35,102.98 L1187.80,105.27 L1188.26,107.62 L1188.72,110.03 L1189.18,112.50 L1189.64,115.04 L1190.10,117.65 L1190.56,120.32 L1191.02,123.06 L1191.48,125.87 L1191.94,128.75 L1192.40,131.71 L1192.86,134.75 L1193.32,137.86 L1193.78,141.06 L1194.24,144.34 L1194.70,147.71 L1195.15,151.17 L1195.61,154.72 L1196.07,158.36 L1196.53,162.11 L1196.99,165.96 L1197.45,169.92 L1197.91,174.00 L1198.37,178.19 L1198.83,182.50 L1199.29,186.94 L1199.75,191.51 L1200.21,196.23 L1200.67,201.09 L1201.13,206.11 L1201.59,211.30 L1202.04,216.65 L1202.50,222.20 L1202.96,227.94 L1203.42,233.88 L1203.88,240.05 L1204.34,246.46 L1204.80,253.13 L1205.26,260.08 L1205.72,267.32 L1206.18,274.89 L1206.64,282.82 L1207.10,291.13 L1207.56,299.88 L1208.02,309.11 L1208.48,318.86 L1208.93,329.22 L1209.39,340.26 L1209.85,352.07 L1210.31,364.79 L1210.77,378.56 L1211.23,393.58 L1211.69,410.11 L1212.15,428.51 L1212.61,449.28 L1213.02,470.65 L1213.07,473.15 L1213.12,475.80 L1213.21,481.12 L1213.30,486.63 L1213.39,492.34 L1213.48,498.27 L1213.53,501.25 L1213.58,504.42 L1213.67,510.83 L1213.76,517.51 L1213.85,524.49 L1213.94,531.80 L1213.99,535.51 L1214.03,539.47 L1214.13,547.53 L1214.22,556.04 L1214.31,565.05 L1214.40,574.61 L1214.45,579.52 L1214.49,584.80 L1214.59,595.72 L1214.68,607.48 L1214.77,620.20 L1214.86,634.08 L1214.91,641.37 L1214.95,649.34 L1215.05,666.28 L1215.14,685.31 L1215.23,706.99 L1215.32,732.13 L1215.37,746.06 L1215.41,761.92 L1215.50,798.07 L1215.60,842.54 L1215.69,893.50 L1215.78,923.68 L1215.83,915.53 L1215.87,894.26 L1215.96,843.81 L1216.06,799.80 L1216.15,764.12 L1216.24,734.81 L1216.28,722.23 L1216.33,710.15 L1216.42,688.96 L1216.52,670.42 L1216.61,653.98 L1216.70,639.22 L1216.74,632.51 L1216.79,625.84 L1216.88,613.61 L1216.97,602.36 L1217.07,591.94 L1217.16,582.25 L1217.20,577.74 L1217.25,573.19 L1217.34,564.69 L1217.43,556.69 L1217.53,549.13 L1217.62,541.96 L1217.66,538.59 L1217.71,535.16 L1217.80,528.69 L1217.89,522.51 L1217.99,516.61 L1218.08,510.96 L1218.12,508.27 L1218.17,505.54 L1218.26,500.33 L1218.35,495.33 L1218.44,490.51 L1218.54,485.86 L1218.58,483.65 L1219.04,462.99 L1219.50,445.28 L1219.96,429.82 L1220.42,416.15 L1220.88,403.94 L1221.34,392.95 L1221.80,382.98 L1222.26,373.89 L1222.72,365.56 L1223.17,357.90 L1223.63,350.83 L1224.09,344.29 L1224.55,338.23 L1225.01,332.59 L1225.47,327.35 L1225.93,322.47 L1226.39,317.91 L1226.85,313.66 L1227.31,309.69 L1227.77,305.98 L1228.23,302.53 L1228.69,299.30 L1229.15,296.29 L1229.61,293.49 L1230.07,290.88 L1230.52,288.46 L1230.98,286.21 L1231.44,284.13 L1231.90,282.22 L1232.36,280.46 L1232.82,278.85 L1233.28,277.38 L1233.74,276.06 L1234.20,274.86 L1234.66,273.80 L1235.12,272.87 L1235.58,272.06 L1236.04,271.37 L1236.50,270.80 L1236.96,270.34 L1237.87,269.77 L1238.79,269.63 L1239.71,269.92 L1240.63,270.64 L1241.09,271.15 L1241.55,271.76 L1242.01,272.48 L1242.47,273.30 L1242.93,274.22 L1243.39,275.24 L1243.85,276.37 L1244.30,277.60 L1244.76,278.93 L1245.22,280.37 L1245.68,281.91 L1246.14,283.56 L1246.60,285.32 L1247.06,287.19 L1247.52,289.17 L1247.98,291.26 L1248.44,293.47 L1248.90,295.79 L1249.36,298.24 L1249.82,300.81 L1250.28,303.50 L1250.74,306.32 L1251.20,309.28 L1251.65,312.38 L1252.11,315.62 L1252.57,319.00 L1253.03,322.54 L1253.49,326.24 L1253.95,330.11 L1254.41,334.14 L1254.87,338.36 L1255.33,342.77 L1255.79,347.38 L1256.25,352.21 L1256.71,357.26 L1257.17,362.54 L1257.63,368.08 L1258.09,373.89 L1258.54,379.99 L1259.00,386.41 L1259.46,393.16 L1259.92,400.29 L1260.38,407.81 L1260.84,415.78 L1261.30,424.24 L1261.76,433.24 L1262.22,442.85 L1262.68,453.14 L1263.14,464.22 L1263.60,476.20 L1264.06,489.22 L1264.52,503.49 L1264.98,519.23 L1265.44,536.79 L1265.89,556.60 L1266.25,573.63 L1266.34,578.41 L1266.35,579.28 L1266.43,583.33 L1266.52,588.42 L1266.61,593.67 L1266.70,599.10 L1266.80,604.72 L1266.81,605.75 L1266.89,610.53 L1266.98,616.56 L1267.07,622.82 L1267.16,629.32 L1267.26,636.09 L1267.27,637.33 L1267.35,643.12 L1267.44,650.46 L1267.53,658.10 L1267.62,666.08 L1267.72,674.42 L1267.73,675.95 L1267.81,683.12 L1267.90,692.20 L1267.99,701.67 L1268.08,711.52 L1268.17,721.72 L1268.19,723.60 L1268.27,732.22 L1268.36,742.92 L1268.45,753.62 L1268.54,764.08 L1268.63,773.88 L1268.65,775.54 L1268.73,782.52 L1268.82,789.37 L1268.91,793.81 L1269.00,795.35 L1269.09,793.85 L1269.19,789.47 L1269.28,782.73 L1269.37,774.24 L1269.46,764.62 L1269.55,754.39 L1269.57,752.52 L1269.64,743.93 L1269.74,733.50 L1269.83,723.27 L1269.92,713.34 L1270.01,703.77 L1270.03,702.09 L1270.10,694.58 L1270.20,685.78 L1270.29,677.36 L1270.38,669.30 L1270.47,661.60 L1270.49,660.25 L1270.56,654.23 L1270.66,647.17 L1270.75,640.40 L1270.84,633.91 L1270.93,627.68 L1270.95,626.59 L1271.02,621.69 L1271.11,615.93 L1271.21,610.38 L1271.30,605.03 L1271.39,599.87 L1271.41,598.96 L1271.48,594.88 L1271.57,590.06 L1271.67,585.39 L1271.76,580.88 L1271.87,575.73 L1272.33,555.80 L1272.78,538.41 L1273.24,523.05 L1273.70,509.32 L1274.16,496.95 L1274.62,485.72 L1275.08,475.45 L1275.54,466.03 L1276.00,457.35 L1276.46,449.31 L1276.92,441.84 L1277.38,434.90 L1277.84,428.41 L1278.30,422.35 L1278.76,416.68 L1279.22,411.36 L1279.67,406.36 L1280.13,401.67 L1280.59,397.26 L1281.05,393.11 L1281.51,389.21 L1281.97,385.54 L1282.43,382.09 L1282.89,378.85 L1283.35,375.80 L1283.81,372.94 L1284.27,370.25 L1284.73,367.74 L1285.19,365.39 L1285.65,363.19 L1286.11,361.15 L1286.57,359.25 L1287.02,357.49 L1287.48,355.87 L1287.94,354.37 L1288.40,353.01 L1288.86,351.77 L1289.32,350.66 L1289.78,349.66 L1290.24,348.78 L1290.70,348.01 L1291.16,347.36 L1291.62,346.82 L1292.08,346.38 L1293.00,345.83 L1293.91,345.70 L1294.83,345.98 L1295.75,346.67 L1296.21,347.17 L1296.67,347.77 L1297.13,348.46 L1297.59,349.27 L1298.05,350.17 L1298.51,351.17 L1298.97,352.28 L1299.43,353.50 L1299.89,354.82 L1300.35,356.24 L1300.81,357.77 L1301.26,359.42 L1301.72,361.17 L1302.18,363.03 L1302.64,365.01 L1303.10,367.11 L1303.56,369.33 L1304.02,371.67 L1304.48,374.14 L1304.94,376.74 L1305.40,379.47 L1305.86,382.34 L1306.32,385.35 L1306.78,388.51 L1307.24,391.82 L1307.70,395.29 L1308.15,398.92 L1308.61,402.73 L1309.07,406.72 L1309.53,410.90 L1309.99,415.28 L1310.45,419.87 L1310.91,424.68 L1311.37,429.74 L1311.83,435.04 L1312.29,440.62 L1312.75,446.48 L1313.21,452.65 L1313.67,459.17 L1314.13,466.05 L1314.59,473.33 L1315.04,481.05 L1315.50,489.25 L1315.96,497.99 L1316.42,507.34 L1316.88,517.37 L1317.34,528.17 L1317.80,539.87 L1318.26,552.60 L1318.72,566.57 L1319.18,582.00 L1319.64,599.23 L1320.10,618.69 L1320.50,638.03 L1320.56,641.03 L1320.59,642.82 L1320.68,647.77 L1320.77,652.87 L1320.87,658.16 L1320.96,663.62 L1321.02,667.17 L1321.05,669.29 L1321.14,675.16 L1321.23,681.26 L1321.33,687.60 L1321.42,694.21 L1321.48,698.51 L1321.51,701.09 L1321.60,708.27 L1321.69,715.77 L1321.79,723.63 L1321.88,731.85 L1321.94,737.24 L1321.97,740.48 L1322.06,749.54 L1322.15,759.05 L1322.24,769.03 L1322.34,779.51 L1322.39,786.36 L1322.43,790.47 L1322.52,801.89 L1322.61,813.68 L1322.70,825.68 L1322.80,837.62 L1322.85,844.93 L1322.89,849.07 L1322.98,859.38 L1323.07,867.70 L1323.16,873.15 L1323.26,874.99 L1323.31,874.25 L1323.35,873.10 L1323.44,867.64 L1323.53,859.34 L1323.62,849.12 L1323.71,837.80 L1323.77,830.40 L1323.81,826.01 L1323.90,814.19 L1323.99,802.59 L1324.08,791.36 L1324.17,780.60 L1324.23,774.07 L1324.27,770.32 L1324.36,760.53 L1324.45,751.22 L1324.54,742.35 L1324.63,733.92 L1324.69,728.81 L1324.73,725.88 L1324.82,718.22 L1324.91,710.90 L1325.00,703.91 L1325.09,697.21 L1325.15,693.14 L1325.18,690.79 L1325.28,684.63 L1325.37,678.72 L1325.46,673.02 L1325.55,667.54 L1325.61,664.18 L1325.64,662.25 L1325.74,657.15 L1325.83,652.22 L1325.92,647.45 L1326.01,642.84 L1326.07,640.01 L1326.53,619.34 L1326.99,601.36 L1327.45,585.49 L1327.91,571.31 L1328.37,558.53 L1328.83,546.93 L1329.28,536.32 L1329.74,526.57 L1330.20,517.57 L1330.66,509.23 L1331.12,501.48 L1331.58,494.24 L1332.04,487.48 L1332.50,481.15 L1332.96,475.20 L1333.42,469.61 L1333.88,464.36 L1334.34,459.40 L1334.80,454.73 L1335.26,450.33 L1335.72,446.17 L1336.17,442.24 L1336.63,438.53 L1337.09,435.03 L1337.55,431.73 L1338.01,428.61 L1338.47,425.67 L1338.93,422.89 L1339.39,420.28 L1339.85,417.83 L1340.31,415.52 L1340.77,413.36 L1341.23,411.34 L1341.69,409.45 L1342.15,407.69 L1342.61,406.06 L1343.07,404.55 L1343.52,403.16 L1343.98,401.89 L1344.44,400.73 L1344.90,399.69 L1345.36,398.75 L1345.82,397.92 L1346.28,397.19 L1346.74,396.57 L1347.20,396.05 L1347.66,395.63 L1348.58,395.10 L1349.50,394.95 L1350.41,395.20 L1351.33,395.82 L1351.79,396.28 L1352.25,396.83 L1352.71,397.48 L1353.17,398.23 L1353.63,399.07 L1354.09,400.01 L1354.55,401.05 L1355.01,402.19 L1355.47,403.42 L1355.93,404.76 L1356.39,406.20 L1356.85,407.74 L1357.31,409.39 L1357.76,411.15 L1358.22,413.02 L1358.68,414.99 L1359.14,417.09 L1359.60,419.30 L1360.06,421.62 L1360.52,424.08 L1360.98,426.65 L1361.44,429.36 L1361.90,432.21 L1362.36,435.19 L1362.82,438.32 L1363.28,441.59 L1363.74,445.02 L1364.20,448.62 L1364.65,452.38 L1365.11,456.32 L1365.57,460.45 L1366.03,464.78 L1366.49,469.31 L1366.95,474.06 L1367.41,479.05 L1367.87,484.28 L1368.33,489.77 L1368.79,495.55 L1369.25,501.64 L1369.71,508.05 L1370.17,514.82 L1370.63,521.97 L1371.09,529.56 L1371.54,537.61 L1372.00,546.17 L1372.46,555.32 L1372.92,565.11 L1373.38,575.63 L1373.84,586.97 L1374.30,599.27 L1374.76,612.67 L1375.22,627.36 L1375.68,643.56 L1376.14,661.57 L1376.49,676.70 L1376.58,680.90 L1376.60,681.71 L1376.67,685.20 L1376.76,689.60 L1376.86,694.10 L1376.95,698.72 L1377.04,703.44 L1377.06,704.35 L1377.13,708.28 L1377.22,713.23 L1377.32,718.30 L1377.41,723.47 L1377.50,728.76 L1377.52,729.78 L1377.59,734.16 L1377.68,739.65 L1377.77,745.24 L1377.87,750.91 L1377.96,756.64 L1377.98,757.73 L1378.05,762.41 L1378.14,768.18 L1378.23,773.93 L1378.33,779.60 L1378.42,785.13 L1378.44,786.16 L1378.51,790.47 L1378.60,795.51 L1378.69,800.19 L1378.79,804.39 L1378.88,808.02 L1378.89,808.63 L1378.97,810.97 L1379.06,813.15 L1379.15,814.50 L1379.43,813.29 L1379.52,811.18 L1379.61,808.31 L1379.70,804.77 L1379.80,800.66 L1379.81,799.82 L1379.89,796.08 L1379.98,791.14 L1380.07,785.92 L1380.16,780.50 L1380.26,774.95 L1380.27,773.88 L1380.35,769.32 L1380.44,763.67 L1380.53,758.04 L1380.62,752.44 L1380.71,746.90 L1380.73,745.86 L1380.81,741.45 L1380.90,736.08 L1380.99,730.82 L1381.08,725.66 L1381.17,720.62 L1381.19,719.67 L1381.27,715.69 L1381.36,710.87 L1381.45,706.17 L1381.54,701.58 L1381.63,697.10 L1381.65,696.26 L1381.73,692.72 L1381.82,688.46 L1381.91,684.29 L1382.00,680.23 L1382.11,675.51 L1382.57,657.09 L1383.03,640.64 L1383.49,625.84 L1383.95,612.44 L1384.41,600.23 L1384.87,589.04 L1385.33,578.74 L1385.78,569.22 L1386.24,560.38 L1386.70,552.15 L1387.16,544.46 L1387.62,537.27 L1388.08,530.52 L1388.54,524.18 L1389.00,518.21 L1389.46,512.58 L1389.92,507.26 L1390.38,502.24 L1390.84,497.48 L1391.30,492.99 L1391.76,488.73 L1392.22,484.69 L1392.67,480.87 L1393.13,477.24 L1393.59,473.81 L1394.05,470.55 L1394.51,467.47 L1394.97,464.55 L1395.43,461.78 L1395.89,459.17 L1396.35,456.70 L1396.81,454.37 L1397.27,452.17 L1397.73,450.10 L1398.19,448.16 L1398.65,446.33 L1399.11,444.63 L1399.57,443.04 L1400.02,441.56 L1400.48,440.19 L1400.94,438.93 L1401.40,437.77 L1401.86,436.72 L1402.32,435.76 L1402.78,434.90 L1403.24,434.14 L1403.70,433.47 L1404.16,432.90 L1404.62,432.42 L1405.08,432.03 L1406.00,431.53 L1406.91,431.38 L1407.83,431.58 L1408.75,432.14 L1409.21,432.55 L1409.67,433.05 L1410.13,433.63 L1410.59,434.30 L1411.05,435.07 L1411.51,435.92 L1411.97,436.86 L1412.43,437.89 L1412.89,439.01 L1413.35,440.23 L1413.81,441.53 L1414.26,442.94 L1414.72,444.44 L1415.18,446.03 L1415.64,447.73 L1416.10,449.52 L1416.56,451.42 L1417.02,453.43 L1417.48,455.54 L1417.94,457.77 L1418.40,460.11 L1418.86,462.56 L1419.32,465.14 L1419.78,467.84 L1420.24,470.66 L1420.70,473.63 L1421.15,476.72 L1421.61,479.96 L1422.07,483.35 L1422.53,486.90 L1422.99,490.61 L1423.45,494.48 L1423.91,498.54 L1424.37,502.78 L1424.83,507.22 L1425.29,511.88 L1425.75,516.75 L1426.21,521.86 L1426.67,527.23 L1427.13,532.86 L1427.59,538.79 L1428.04,545.03 L1428.50,551.61 L1428.96,558.57 L1429.42,565.93 L1429.88,573.74 L1430.34,582.05 L1430.80,590.90 L1431.26,600.38 L1431.72,610.56 L1432.18,621.53 L1432.64,633.43 L1433.10,646.40 L1433.56,660.63 L1434.02,676.37 L1434.48,693.96 L1434.94,713.82 L1435.13,722.98 L1435.22,727.53 L1435.31,732.21 L1435.39,736.55 L1435.50,742.01 L1435.59,747.14 L1435.68,752.42 L1435.77,757.88 L1435.85,762.95 L1435.95,769.34 L1436.05,775.37 L1436.14,781.59 L1436.23,788.04 L1436.31,794.02 L1436.32,794.70 L1436.41,801.59 L1436.51,808.72 L1436.60,816.07 L1436.69,823.66 L1436.77,830.67 L1436.78,831.46 L1436.87,839.45 L1436.97,847.59 L1437.06,855.83 L1437.15,864.08 L1437.23,871.41 L1437.24,872.22 L1437.33,880.09 L1437.42,887.47 L1437.52,894.12 L1437.61,899.75 L1437.69,903.68 L1437.79,906.75 L1437.88,907.68 L1437.98,906.72 L1438.07,903.99 L1438.15,900.18 L1438.25,894.07 L1438.34,887.46 L1438.44,880.13 L1438.53,872.34 L1438.61,865.10 L1438.62,864.29 L1438.71,856.14 L1438.80,848.01 L1438.89,839.97 L1438.99,832.10 L1439.07,825.18 L1439.08,824.42 L1439.17,816.95 L1439.26,809.72 L1439.35,802.71 L1439.45,795.94 L1439.53,790.04 L1439.54,789.39 L1439.63,783.07 L1439.72,776.96 L1439.81,771.05 L1439.91,765.34 L1439.99,760.37 L1440.09,754.48 L1440.18,749.31 L1440.27,744.29 L1440.36,739.44 L1440.45,735.19 L1440.55,730.15 L1440.64,725.71 L1440.91,713.52 L1441.37,694.61 L1441.83,677.88 L1442.28,662.93 L1442.74,649.44 L1443.20,637.18 L1443.66,625.96 L1444.12,615.64 L1444.58,606.09 L1445.04,597.23 L1445.50,588.98 L1445.96,581.26 L1446.42,574.03 L1446.88,567.24 L1447.34,560.85 L1447.80,554.82 L1448.26,549.13 L1448.72,543.74 L1449.18,538.64 L1449.63,533.81 L1450.09,529.22 L1450.55,524.87 L1451.01,520.73 L1451.47,516.80 L1451.93,513.07 L1452.39,509.51 L1452.85,506.13 L1453.31,502.92 L1453.77,499.86 L1454.23,496.96 L1454.69,494.20 L1455.15,491.57 L1455.61,489.08 L1456.07,486.72 L1456.52,484.49 L1456.98,482.37 L1457.44,480.36 L1457.90,478.47 L1458.36,476.69 L1458.82,475.01 L1459.28,473.44 L1459.74,471.97 L1460.20,470.59 L1460.66,469.31 L1461.12,468.12 L1461.58,467.02 L1462.04,466.02 L1462.50,465.10 L1462.96,464.27 L1463.41,463.52 L1463.87,462.86 L1464.33,462.28 L1464.79,461.78 L1465.25,461.36 L1466.17,460.77 L1467.09,460.49 L1468.01,460.53 L1468.93,460.87 L1469.85,461.52 L1470.31,461.97 L1470.76,462.48 L1471.22,463.08 L1471.68,463.75 L1472.14,464.50 L1472.60,465.33 L1473.06,466.24 L1473.52,467.23 L1473.98,468.30 L1474.44,469.45 L1474.90,470.68 L1475.36,472.00 L1475.82,473.40 L1476.28,474.89 L1476.74,476.46 L1477.20,478.12 L1477.65,479.87 L1478.11,481.71 L1478.57,483.65 L1479.03,485.69 L1479.49,487.82 L1479.95,490.05 L1480.41,492.39 L1480.87,494.83 L1481.33,497.39 L1481.79,500.05 L1482.25,502.84 L1482.71,505.74 L1483.17,508.77 L1483.63,511.93 L1484.09,515.23 L1484.55,518.66 L1485.00,522.25 L1485.46,525.99 L1485.92,529.89 L1486.38,533.96 L1486.84,538.20 L1487.30,542.64 L1487.76,547.27 L1488.22,552.12 L1488.68,557.19 L1489.14,562.51 L1489.60,568.08 L1490.06,573.92 L1490.52,580.06 L1490.98,586.53 L1491.44,593.34 L1491.89,600.53 L1492.35,608.15 L1492.81,616.22 L1493.27,624.80 L1493.73,633.95 L1494.19,643.74 L1494.65,654.25 L1495.11,665.58 L1495.57,677.84 L1496.03,691.20 L1496.49,705.82 L1496.95,721.94 L1497.41,739.82 L1497.73,753.80 L1497.83,757.93 L1497.87,759.78 L1497.92,762.16 L1498.01,766.48 L1498.10,770.91 L1498.19,775.44 L1498.29,780.07 L1498.33,782.14 L1498.38,784.81 L1498.47,789.65 L1498.56,794.60 L1498.65,799.66 L1498.74,804.81 L1498.78,807.11 L1498.84,810.06 L1498.93,815.41 L1499.02,820.83 L1499.11,826.31 L1499.20,831.85 L1499.24,834.29 L1499.30,837.41 L1499.39,842.96 L1499.48,848.48 L1499.57,853.91 L1499.66,859.19 L1499.70,861.46 L1499.75,864.27 L1499.85,869.07 L1499.94,873.50 L1500.03,877.48 L1500.12,880.91 L1500.16,882.22 L1500.21,883.70 L1500.31,885.78 L1500.40,887.08 L1500.67,886.10 L1500.77,884.18 L1500.86,881.53 L1500.95,878.24 L1501.04,874.39 L1501.08,872.55 L1501.13,870.08 L1501.22,865.40 L1501.32,860.43 L1501.41,855.25 L1501.50,849.92 L1501.54,847.54 L1501.59,844.50 L1501.68,839.03 L1501.78,833.55 L1501.87,828.10 L1501.96,822.69 L1502.00,820.33 L1502.05,817.35 L1502.14,812.09 L1502.24,806.92 L1502.33,801.84 L1502.42,796.86 L1502.46,794.70 L1502.51,791.99 L1502.60,787.22 L1502.69,782.56 L1502.79,778.00 L1502.88,773.55 L1502.92,771.62 L1502.97,769.20 L1503.06,764.95 L1503.15,760.80 L1503.25,756.74 L1503.38,751.07 L1503.84,732.74 L1504.30,716.31 L1504.76,701.48 L1505.22,688.02 L1505.68,675.72 L1506.13,664.42 L1506.59,653.98 L1507.05,644.31 L1507.51,635.31 L1507.97,626.90 L1508.43,619.03 L1508.89,611.64 L1509.35,604.68 L1509.81,598.11 L1510.27,591.91 L1510.73,586.04 L1511.19,580.47 L1511.65,575.19 L1512.11,570.17 L1512.57,565.39 L1513.02,560.85 L1513.48,556.51 L1513.94,552.38 L1514.40,548.44 L1514.86,544.68 L1515.32,541.09 L1515.78,537.66 L1516.24,534.39 L1516.70,531.26 L1517.16,528.27 L1517.62,525.42 L1518.08,522.69 L1518.54,520.09 L1519.00,517.60 L1519.46,515.24 L1519.91,512.98 L1520.37,510.82 L1520.83,508.77 L1521.29,506.82 L1521.75,504.97 L1522.21,503.21 L1522.67,501.54 L1523.13,499.97 L1523.59,498.47 L1524.05,497.07 L1524.51,495.74 L1524.97,494.50 L1525.43,493.34 L1525.89,492.25 L1526.35,491.24 L1526.81,490.31 L1527.26,489.45 L1527.72,488.66 L1528.18,487.94 L1528.64,487.30 L1529.10,486.72 L1529.56,486.21 L1530.02,485.78 L1530.94,485.10 L1531.86,484.68 L1532.78,484.53 L1533.70,484.64 L1534.61,485.00 L1535.53,485.62 L1535.99,486.02 L1536.45,486.49 L1536.91,487.02 L1537.37,487.62 L1537.83,488.28 L1538.29,489.01 L1538.75,489.80 L1539.21,490.65 L1539.67,491.58 L1540.13,492.57 L1540.59,493.62 L1541.05,494.75 L1541.50,495.94 L1541.96,497.20 L1542.42,498.53 L1542.88,499.94 L1543.34,501.41 L1543.80,502.96 L1544.26,504.59 L1544.72,506.29 L1545.18,508.07 L1545.64,509.93 L1546.10,511.86 L1546.56,513.89 L1547.02,515.99 L1547.48,518.18 L1547.94,520.47 L1548.39,522.84 L1548.85,525.31 L1549.31,527.87 L1549.77,530.53 L1550.23,533.30 L1550.69,536.17 L1551.15,539.16 L1551.61,542.25 L1552.07,545.47 L1552.53,548.81 L1552.99,552.28 L1553.45,555.88 L1553.91,559.62 L1554.37,563.51 L1554.83,567.55 L1555.28,571.76 L1555.74,576.13 L1556.20,580.69 L1556.66,585.43 L1557.12,590.37 L1557.58,595.53 L1558.04,600.92 L1558.50,606.54 L1558.96,612.43 L1559.42,618.59 L1559.88,625.06 L1560.34,631.84 L1560.80,638.98 L1561.26,646.49 L1561.72,654.41 L1562.18,662.78 L1562.63,671.64 L1563.09,681.03 L1563.55,691.01 L1564.01,701.62 L1564.47,712.93 L1564.93,724.98 L1565.39,737.81 L1565.85,751.44 L1566.31,765.81 L1566.43,769.62 L1566.52,772.59 L1566.61,775.59 L1566.70,778.60 L1566.77,780.75 L1566.80,781.62 L1566.89,784.66 L1566.98,787.69 L1567.07,790.72 L1567.16,793.74 L1567.23,795.88 L1567.25,796.75 L1567.35,799.74 L1567.44,802.70 L1567.53,805.62 L1567.62,808.48 L1567.69,810.49 L1567.71,811.29 L1567.81,814.03 L1567.90,816.69 L1567.99,819.24 L1568.08,821.69 L1568.15,823.35 L1568.17,824.01 L1568.27,826.19 L1568.36,828.21 L1568.45,830.07 L1568.54,831.74 L1568.61,832.80 L1568.72,834.47 L1568.82,835.51 L1568.91,836.31 L1569.07,837.13 L1569.46,836.01 L1569.52,835.40 L1569.64,833.99 L1569.74,832.66 L1569.83,831.12 L1569.92,829.39 L1569.98,828.05 L1570.10,825.42 L1570.19,823.22 L1570.29,820.88 L1570.38,818.43 L1570.44,816.63 L1570.47,815.88 L1570.56,813.24 L1570.65,810.52 L1570.75,807.74 L1570.84,804.91 L1570.90,802.88 L1570.93,802.04 L1571.02,799.14 L1571.11,796.21 L1571.21,793.26 L1571.30,790.31 L1571.36,788.21 L1571.39,787.35 L1571.48,784.39 L1571.57,781.44 L1571.66,778.50 L1571.76,775.58 L1571.82,773.51 L1571.85,772.67 L1571.94,769.78 L1572.28,759.28 L1572.74,745.74 L1573.20,732.98 L1573.66,721.02 L1574.12,709.81 L1574.58,699.32 L1575.04,689.48 L1575.50,680.24 L1575.96,671.56 L1576.41,663.37 L1576.87,655.65 L1577.33,648.35 L1577.79,641.44 L1578.25,634.89 L1578.71,628.66 L1579.17,622.74 L1579.63,617.10 L1580.09,611.73 L1580.55,606.60 L1581.01,601.71 L1581.47,597.03 L1581.93,592.55 L1582.39,588.26 L1582.85,584.15 L1583.31,580.21 L1583.76,576.44 L1584.22,572.82 L1584.68,569.34 L1585.14,566.00 L1585.60,562.79 L1586.06,559.71 L1586.52,556.76 L1586.98,553.91 L1587.44,551.18 L1587.90,548.56 L1588.36,546.04 L1588.82,543.62 L1589.28,541.30 L1589.74,539.06 L1590.20,536.92 L1590.65,534.87 L1591.11,532.90 L1591.57,531.01 L1592.03,529.20 L1592.49,527.47 L1592.95,525.81 L1593.41,524.23 L1593.87,522.72 L1594.33,521.27 L1594.79,519.90 L1595.25,518.59 L1595.71,517.35 L1596.17,516.17 L1596.63,515.06 L1597.09,514.00 L1597.55,513.01 L1598.00,512.08 L1598.46,511.20 L1598.92,510.38 L1599.38,509.62 L1599.84,508.92 L1600.30,508.27 L1600.76,507.67 L1601.22,507.13 L1601.68,506.64 L1602.14,506.21 L1603.06,505.49 L1603.98,504.98 L1604.89,504.67 L1605.81,504.55 L1606.73,504.64 L1607.65,504.92 L1608.57,505.39 L1609.49,506.06 L1609.95,506.47 L1610.41,506.92 L1610.87,507.43 L1611.33,507.98 L1611.78,508.59 L1612.24,509.24 L1612.70,509.94 L1613.16,510.69 L1613.62,511.49 L1614.08,512.34 L1614.54,513.24 L1615.00,514.20 L1615.46,515.20 L1615.92,516.26 L1616.38,517.37 L1616.84,518.53 L1617.30,519.74 L1617.76,521.02 L1618.22,522.34 L1618.68,523.72 L1619.13,525.16 L1619.59,526.66 L1620.05,528.22 L1620.51,529.83 L1620.97,531.51 L1621.43,533.25 L1621.89,535.05 L1622.35,536.91 L1622.81,538.85 L1623.27,540.85 L1623.73,542.92 L1624.19,545.06 L1624.65,547.27 L1625.11,549.56 L1625.57,551.92 L1626.02,554.37 L1626.48,556.89 L1626.94,559.50 L1627.40,562.20 L1627.86,564.98 L1628.32,567.86 L1628.78,570.84 L1629.24,573.91 L1629.70,577.09 L1630.16,580.38 L1630.62,583.78 L1631.08,587.30 L1631.54,590.94 L1632.00,594.71 L1632.46,598.62 L1632.92,602.67 L1633.37,606.87 L1633.83,611.23 L1634.29,615.76 L1634.75,620.46 L1635.21,625.36 L1635.67,630.45 L1636.13,635.77 L1636.59,641.31 L1637.05,647.11 L1637.51,653.17 L1637.97,659.52 L1638.43,666.19 L1638.89,673.21 L1639.35,680.60 L1639.81,688.41 L1640.26,696.69 L1640.72,705.48 L1641.18,714.86 L1641.64,724.89 L1642.10,735.67 L1642.56,747.31 L1643.02,759.96 L1643.48,773.79 L1643.94,789.04 L1644.40,806.01 L1644.86,825.11 L1645.23,842.43 L1645.32,846.90 L1645.41,851.79 L1645.50,856.68 L1645.60,861.73 L1645.69,866.94 L1645.78,872.16 L1645.87,877.89 L1645.96,883.64 L1646.06,889.60 L1646.15,895.78 L1646.24,901.98 L1646.33,908.81 L1646.42,915.70 L1646.51,922.85 L1646.61,930.27 L1646.70,937.73 L1646.79,945.94 L1646.88,954.19 L1646.97,962.71 L1647.07,971.46 L1647.15,980.13 L1647.25,989.45 L1647.34,998.49 L1647.43,1007.35 L1647.53,1015.80 L1647.61,1023.31 L1647.71,1030.18 L1647.80,1035.36 L1647.89,1038.69 L1647.98,1039.89 L1648.07,1038.73 L1648.17,1035.32 L1648.26,1030.14 L1648.35,1023.50 L1648.44,1015.79 L1648.53,1007.65 L1648.63,998.58 L1648.72,989.61 L1648.81,980.63 L1648.90,971.76 L1648.99,963.35 L1649.09,954.65 L1649.18,946.48 L1649.27,938.58 L1649.36,930.97 L1649.45,923.84 L1649.55,916.56 L1649.64,909.75 L1649.73,903.19 L1649.82,896.87 L1649.91,890.95 L1650.01,884.89 L1650.10,879.21 L1650.19,873.72 L1650.28,868.41 L1650.37,863.43 L1650.46,858.30 L1650.56,853.48 L1650.65,848.81 L1650.74,844.27 L1650.83,839.99 L1651.29,819.69 L1651.75,801.83 L1652.21,785.92 L1652.67,771.60 L1653.13,758.60 L1653.59,746.70 L1654.05,735.75 L1654.50,725.61 L1654.96,716.19 L1655.42,707.38 L1655.88,699.13 L1656.34,691.37 L1656.80,684.05 L1657.26,677.13 L1657.72,670.58 L1658.18,664.35 L1658.64,658.44 L1659.10,652.80 L1659.56,647.42 L1660.02,642.27 L1660.48,637.36 L1660.94,632.65 L1661.39,628.13 L1661.85,623.79 L1662.31,619.63 L1662.77,615.63 L1663.23,611.78 L1663.69,608.07 L1664.15,604.50 L1664.61,601.06 L1665.07,597.74 L1665.53,594.54 L1665.99,591.46 L1666.45,588.47 L1666.91,585.60 L1667.37,582.82 L1667.83,580.13 L1668.28,577.53 L1668.74,575.03 L1669.20,572.60 L1669.66,570.26 L1670.12,567.99 L1670.58,565.80 L1671.04,563.68 L1671.50,561.63 L1671.96,559.66 L1672.42,557.74 L1672.88,555.89 L1673.34,554.11 L1673.80,552.38 L1674.26,550.71 L1674.72,549.11 L1675.18,547.55 L1675.63,546.05 L1676.09,544.61 L1676.55,543.21 L1677.01,541.87 L1677.47,540.58 L1677.93,539.33 L1678.39,538.14 L1678.85,536.99 L1679.31,535.88 L1679.77,534.82 L1680.23,533.81 L1680.69,532.83 L1681.15,531.90 L1681.61,531.01 L1682.07,530.17 L1682.52,529.36 L1682.98,528.59 L1683.44,527.86 L1683.90,527.17 L1684.36,526.52 L1684.82,525.90 L1685.28,525.32 L1685.74,524.78 L1686.20,524.28 L1686.66,523.81 L1687.12,523.37 L1687.58,522.97 L1688.50,522.27 L1689.42,521.71 L1690.33,521.28 L1691.25,520.97 L1692.17,520.80 L1693.09,520.75 L1694.01,520.83 L1694.93,521.03 L1695.85,521.35 L1696.76,521.80 L1697.68,522.36 L1698.60,523.04 L1699.06,523.43 L1699.52,523.84 L1699.98,524.29 L1700.44,524.77 L1700.90,525.27 L1701.36,525.81 L1701.82,526.37 L1702.28,526.97 L1702.74,527.59 L1703.20,528.25 L1703.65,528.93 L1704.11,529.65 L1704.57,530.40 L1705.03,531.17 L1705.49,531.98 L1705.95,532.82 L1706.41,533.69 L1706.87,534.59 L1707.33,535.52 L1707.79,536.48 L1708.25,537.48 L1708.71,538.51 L1709.17,539.57 L1709.63,540.66 L1710.09,541.78 L1710.55,542.94 L1711.00,544.13 L1711.46,545.35 L1711.92,546.61 L1712.38,547.90 L1712.84,549.22 L1713.30,550.59 L1713.76,551.98 L1714.22,553.41 L1714.68,554.88 L1715.14,556.39 L1715.60,557.93 L1716.06,559.51 L1716.52,561.12 L1716.98,562.78 L1717.44,564.47 L1717.89,566.20 L1718.35,567.98 L1718.81,569.79 L1719.27,571.65 L1719.73,573.55 L1720.19,575.49 L1720.65,577.47 L1721.11,579.50 L1721.57,581.57 L1722.03,583.69 L1722.49,585.85 L1722.95,588.06 L1723.41,590.32 L1723.87,592.63 L1724.33,594.99 L1724.79,597.40 L1725.24,599.85 L1725.70,602.37 L1726.16,604.93 L1726.62,607.55 L1727.08,610.22 L1727.54,612.95 L1728.00,615.74 L1728.46,618.58 L1728.92,621.48 L1729.38,624.44 L1729.84,627.46 L1730.30,630.54 L1730.76,633.69 L1731.22,636.89 L1731.68,640.15 L1732.13,643.48 L1732.59,646.87 L1733.05,650.32 L1733.51,653.83 L1733.97,657.40 L1734.43,661.02 L1734.89,664.71 L1735.35,668.44 L1735.81,672.23 L1736.27,676.06 L1736.73,679.93 L1737.19,683.83 L1737.65,687.76 L1738.11,691.71 L1738.57,695.66 L1739.02,699.60 L1739.48,703.53 L1739.94,707.41 L1740.40,711.23 L1740.86,714.98 L1741.32,718.62 L1741.78,722.12 L1742.24,725.47 L1742.70,728.62 L1743.16,731.55 L1743.62,734.22 L1744.08,736.60 L1744.22,737.27 L1744.40,738.09 L1744.58,738.86 L1744.77,739.57 L1744.95,740.23 L1745.14,740.82 L1745.41,741.60 L1745.69,742.24 L1746.05,742.86 L1746.51,743.27 L1747.16,743.22 L1747.62,742.83 L1747.98,742.22 L1748.26,741.61 L1748.54,740.86 L1748.72,740.29 L1748.90,739.66 L1749.09,738.97 L1749.27,738.24 L1749.45,737.45 L1749.59,736.84 L1749.73,736.18 L1750.05,734.58 L1750.51,732.06 L1750.97,729.31 L1751.43,726.36 L1751.89,723.24 L1752.35,719.99 L1752.81,716.62 L1753.26,713.17 L1753.72,709.66 L1754.18,706.10 L1754.64,702.52 L1755.10,698.92 L1755.56,695.33 L1756.02,691.75 L1756.48,688.19 L1756.94,684.66 L1757.40,681.17 L1757.86,677.72 L1758.32,674.32 L1758.78,670.97 L1759.24,667.67 L1759.70,664.42 L1760.15,661.23 L1760.61,658.10 L1761.07,655.03 L1761.53,652.01 L1761.99,649.06 L1762.45,646.16 L1762.91,643.33 L1763.37,640.55 L1763.83,637.82 L1764.29,635.16 L1764.75,632.55 L1765.21,630.00 L1765.67,627.50 L1766.13,625.05 L1766.59,622.65 L1767.05,620.31 L1767.50,618.02 L1767.96,615.77 L1768.42,613.58 L1768.88,611.43 L1769.34,609.33 L1769.80,607.27 L1770.26,605.26 L1770.72,603.29 L1771.18,601.37 L1771.64,599.48 L1772.10,597.64 L1772.56,595.84 L1773.02,594.07 L1773.48,592.35 L1773.94,590.66 L1774.39,589.01 L1774.85,587.39 L1775.31,585.81 L1775.77,584.27 L1776.23,582.76 L1776.69,581.28 L1777.15,579.83 L1777.61,578.42 L1778.07,577.04 L1778.53,575.69 L1778.99,574.37 L1779.45,573.07 L1779.91,571.81 L1780.37,570.58 L1780.83,569.37 L1781.29,568.19 L1781.74,567.04 L1782.20,565.91 L1782.66,564.82 L1783.12,563.74 L1783.58,562.69 L1784.04,561.67 L1784.50,560.67 L1784.96,559.69 L1785.42,558.74 L1785.88,557.81 L1786.34,556.91 L1786.80,556.02 L1787.26,555.16 L1787.72,554.32 L1788.18,553.50 L1788.63,552.70 L1789.09,551.92 L1789.55,551.17 L1790.01,550.43 L1790.47,549.71 L1790.93,549.02 L1791.39,548.34 L1791.85,547.68 L1792.31,547.04 L1792.77,546.42 L1793.23,545.81 L1793.69,545.23 L1794.15,544.66 L1794.61,544.11 L1795.07,543.58 L1795.52,543.06 L1795.98,542.56 L1796.44,542.08 L1796.90,541.62 L1797.36,541.17 L1797.82,540.73 L1798.28,540.31 L1798.74,539.91 L1799.20,539.53 L1800.12,538.80 L1801.04,538.13 L1801.96,537.52 L1802.87,536.97 L1803.79,536.48 L1804.71,536.04 L1805.63,535.66 L1806.55,535.32 L1807.47,535.04 L1808.39,534.82 L1809.31,534.64 L1810.22,534.51 L1811.14,534.43 L1812.06,534.39 L1812.98,534.41 L1813.90,534.47 L1814.82,534.58 L1815.74,534.73 L1816.66,534.92 L1817.57,535.16 L1818.49,535.44 L1819.41,535.77 L1820.33,536.14 L1821.25,536.55 L1822.17,537.00 L1823.09,537.49 L1824.00,538.02 L1824.92,538.59 L1825.84,539.20 L1826.76,539.85 L1827.68,540.54 L1828.60,541.26 L1829.52,542.03 L1829.98,542.42 L1830.44,542.83 L1830.89,543.25 L1831.35,543.67 L1831.81,544.10 L1832.27,544.55 L1832.73,545.00 L1833.19,545.46 L1833.65,545.93 L1834.11,546.41 L1834.57,546.90 L1835.03,547.40 L1835.49,547.90 L1835.95,548.42 L1836.41,548.94 L1836.87,549.48 L1837.33,550.02 L1837.79,550.57 L1838.24,551.13 L1838.70,551.70 L1839.16,552.28 L1839.62,552.87 L1840.08,553.46 L1840.54,554.07 L1841.00,554.68 L1841.46,555.30 L1841.92,555.94 L1842.38,556.58 L1842.84,557.22 L1843.30,557.88 L1843.76,558.55 L1844.22,559.22 L1844.68,559.90 L1845.13,560.60 L1845.59,561.30 L1846.05,562.01 L1846.51,562.72 L1846.97,563.45 L1847.43,564.19 L1847.89,564.93 L1848.35,565.68 L1848.81,566.44 L1849.27,567.21 L1849.73,567.99 L1850.19,568.78 L1850.65,569.57 L1851.11,570.38 L1851.57,571.19 L1852.03,572.01 L1852.48,572.84 L1852.94,573.68 L1853.40,574.53 L1853.86,575.38 L1854.32,576.24 L1854.78,577.12 L1855.24,578.00 L1855.70,578.89 L1856.16,579.79 L1856.62,580.70 L1857.08,581.61 L1857.54,582.54 L1858.00,583.47 L1858.46,584.41 L1858.92,585.36 L1859.37,586.32 L1859.83,587.29 L1860.29,588.27 L1860.75,589.25 L1861.21,590.25 L1861.67,591.25 L1862.13,592.26 L1862.59,593.28 L1863.05,594.31 L1863.51,595.35 L1863.97,596.40 L1864.43,597.46 L1864.89,598.52 L1865.35,599.59 L1865.81,600.68 L1866.26,601.77 L1866.72,602.87 L1867.18,603.98 L1867.64,605.10 L1868.10,606.23 L1868.56,607.36 L1869.02,608.51 L1869.48,609.67 L1869.94,610.83 L1870.40,612.00 L1870.86,613.19 L1871.32,614.38 L1871.78,615.58 L1872.24,616.79 L1872.70,618.01 L1873.16,619.24 L1873.61,620.48 L1874.07,621.73 L1874.53,622.98 L1874.99,624.25 L1875.45,625.53 L1875.91,626.81 L1876.37,628.11 L1876.83,629.41 L1877.29,630.73 L1877.75,632.05 L1878.21,633.38 L1878.67,634.73 L1879.13,636.08 L1879.59,637.44 L1880.05,638.81 L1880.50,640.19 L1880.96,641.59 L1881.42,642.99 L1881.88,644.40 L1882.34,645.82 L1882.80,647.25 L1883.26,648.69 L1883.72,650.14 L1884.18,651.60 L1884.64,653.07 L1885.10,654.55 L1885.56,656.04 L1886.02,657.53 L1886.48,659.04 L1886.94,660.56 L1887.39,662.09 L1887.85,663.63 L1888.31,665.18 L1888.77,666.73 L1889.23,668.30 L1889.69,669.88 L1890.15,671.47 L1890.61,673.06 L1891.07,674.67 L1891.53,676.28 L1891.99,677.91 L1892.45,679.54 L1892.91,681.19 L1893.37,682.84 L1893.83,684.50 L1894.29,686.17 L1894.74,687.85 L1895.20,689.54 L1895.66,691.24 L1896.12,692.94 L1896.58,694.66 L1897.04,696.38 L1897.50,698.11 L1897.96,699.85 L1898.42,701.60 L1898.88,703.35 L1899.34,705.11 L1899.80,706.88 L1900.26,708.65 L1900.72,710.43 L1901.18,712.22 L1901.63,714.01 L1902.09,715.81 L1902.55,717.61 L1903.01,719.42 L1903.47,721.23 L1903.93,723.05 L1904.39,724.86 L1904.85,726.68 L1905.31,728.51 L1905.77,730.33 L1906.23,732.16 L1906.69,733.98 L1907.15,735.81 L1907.61,737.63 L1908.07,739.45 L1908.53,741.27 L1908.98,743.09 L1909.44,744.90 L1909.90,746.70 L1910.36,748.50 L1910.82,750.30 L1911.28,752.08 L1911.74,753.85 L1912.20,755.62 L1912.66,757.37 L1913.12,759.11 L1913.58,760.83 L1914.04,762.54 L1914.50,764.24 L1914.96,765.91 L1915.42,767.56 L1915.87,769.20 L1916.33,770.81 L1916.79,772.39 L1917.25,773.95 L1917.71,775.49 L1918.17,776.99 L1918.63,778.47 L1919.09,779.91 L1919.55,781.32 L1920.01,782.70 L1920.47,784.03 L1920.93,785.33 L1921.39,786.59 L1921.85,787.81 L1922.31,788.99 L1922.76,790.13 L1923.22,791.21 L1923.68,792.26 L1924.14,793.25 L1924.60,794.20 L1925.06,795.10 L1925.52,795.95 L1925.98,796.75 L1926.44,797.49 L1926.90,798.19 L1927.36,798.83 L1927.82,799.42 L1928.28,799.96 L1928.74,800.44 L1929.20,800.87 L1930.11,801.58 L1931.03,802.08 L1931.61,802.29 L1932.25,802.43 L1932.87,802.48 L1933.54,802.44 L1934.18,802.36 L1934.82,802.33 L1935.47,802.21 L1936.09,802.02 L1936.66,801.79 L1937.46,801.36 L1938.38,800.74 L1939.30,799.99 L1939.76,799.57 L1940.22,799.12 L1940.68,798.65 L1941.14,798.15 L1941.60,797.63 L1942.06,797.08 L1942.52,796.52 L1942.98,795.94 L1943.44,795.34 L1943.89,794.72 L1944.35,794.09 L1944.81,793.44 L1945.27,792.78 L1945.73,792.11 L1946.19,791.43 L1946.65,790.74 L1947.11,790.04 L1947.57,789.34 L1948.03,788.63 L1948.49,787.91 L1948.95,787.19 L1949.41,786.46 L1949.87,785.73 L1950.33,785.00 L1950.79,784.27 L1951.24,783.54 L1951.70,782.81 L1952.16,782.08 L1952.62,781.35 L1953.08,780.62 L1953.54,779.90 L1954.00,779.17 L1954.46,778.45 L1954.92,777.74 L1955.38,777.03 L1955.84,776.32 L1956.30,775.62 L1956.76,774.93 L1957.22,774.24 L1957.68,773.56 L1958.13,772.88 L1958.59,772.21 L1959.05,771.55 L1959.51,770.89 L1959.97,770.24 L1960.43,769.60 L1960.89,768.97 L1961.35,768.35 L1961.81,767.73 L1962.27,767.13 L1962.73,766.53 L1963.19,765.94 L1963.65,765.36 L1964.11,764.79 L1964.57,764.22 L1965.03,763.67 L1965.48,763.13 L1965.94,762.59 L1966.40,762.07 L1966.86,761.56 L1967.32,761.05 L1967.78,760.56 L1968.24,760.07 L1968.70,759.59 L1969.16,759.13 L1969.62,758.67 L1970.08,758.23 L1970.54,757.79 L1971.00,757.37 L1971.46,756.95 L1971.92,756.55 L1972.37,756.15 L1973.29,755.39 L1974.21,754.67 L1975.13,754.00 L1976.05,753.36 L1976.97,752.77 L1977.89,752.21 L1978.81,751.70 L1979.72,751.23 L1980.64,750.80 L1981.56,750.41 L1982.48,750.06 L1983.40,749.75 L1984.32,749.48 L1985.24,749.26 L1986.16,749.07 L1987.07,748.93 L1987.99,748.83 L1988.91,748.77 L1989.83,748.75"/>
</g>
<rect x="830.8" y="972.3" width="676.2" height="193.7" fill="#fff" stroke="#242424" stroke-width="8"/>
<line x1="878.1" y1="1015.1" x2="1135.6" y2="1015.1" stroke="#000" stroke-width="6.8"/>
<line x1="878.1" y1="1069.8" x2="1135.6" y2="1069.8" stroke="#00f" stroke-width="6.8"/>
<line x1="878.1" y1="1124.9" x2="1135.6" y2="1124.9" stroke="#f00" stroke-width="6.8"/>
<g font-family="'Liberation Serif', 'Times New Roman', serif" font-weight="bold">
<g font-size="49.5" fill="#000">
<text x="1158" y="1033.9">Rx pattern</text>
<text x="1158" y="1089.3">Tx pattern</text>
<text x="1158" y="1144.7">MIMO pattern</text>
</g>
<g font-size="79" fill="#242424">
<text transform="translate(244.7,1322.9) scale(0.955,1)" text-anchor="middle">-100</text>
<text transform="translate(704.0,1322.9) scale(0.955,1)" text-anchor="middle">-50</text>
<text transform="translate(1163.4,1322.9) scale(0.955,1)" text-anchor="middle">0</text>
<text transform="translate(1622.8,1322.9) scale(0.955,1)" text-anchor="middle">50</text>
<text transform="translate(2082.1,1322.9) scale(0.955,1)" text-anchor="middle">100</text>
<text transform="translate(212.6,1251.0) scale(0.995,1)" text-anchor="end">-70</text>
<text transform="translate(212.6,1083.2) scale(0.995,1)" text-anchor="end">-60</text>
<text transform="translate(212.6,915.5) scale(0.995,1)" text-anchor="end">-50</text>
<text transform="translate(212.6,747.7) scale(0.995,1)" text-anchor="end">-40</text>
<text transform="translate(212.6,580.0) scale(0.995,1)" text-anchor="end">-30</text>
<text transform="translate(212.6,412.2) scale(0.995,1)" text-anchor="end">-20</text>
<text transform="translate(212.6,244.5) scale(0.995,1)" text-anchor="end">-10</text>
<text transform="translate(212.6,76.7) scale(0.995,1)" text-anchor="end">0</text>
<text transform="translate(1165.8,1390) scale(1.04,1)" font-size="78.5" text-anchor="middle">Azimuth angle</text>
<text transform="translate(73.5,635.7) rotate(-90) scale(1.04,1)" font-size="78.5" text-anchor="middle">Normalized pattern (dB)</text>
</g></g>
</svg>
</body></html>
